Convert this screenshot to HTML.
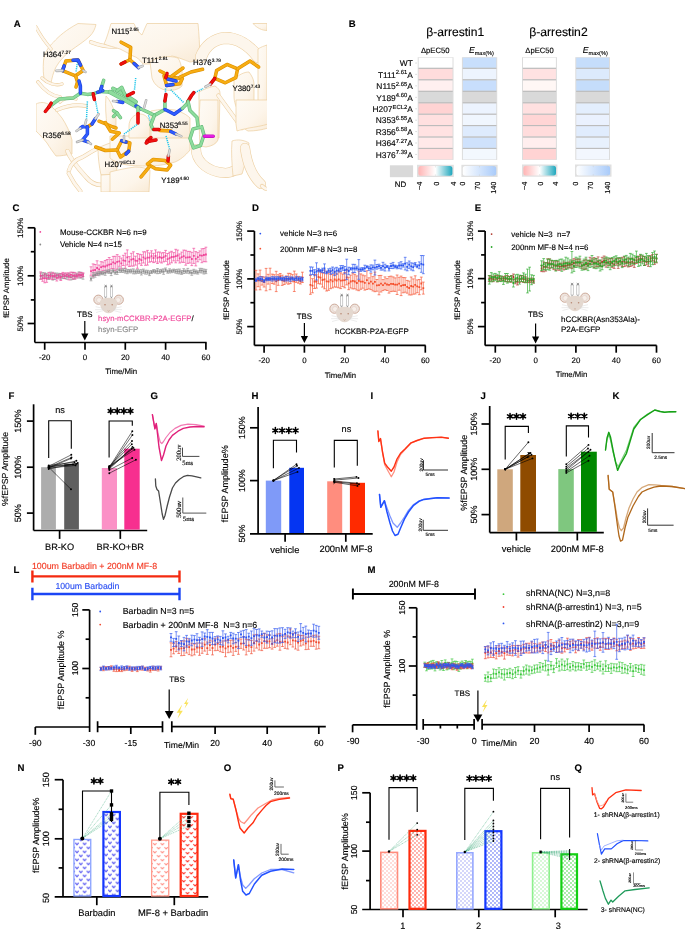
<!DOCTYPE html>
<html><head><meta charset="utf-8"><style>
html,body{margin:0;padding:0;background:#fff;}
body{width:685px;height:929px;overflow:hidden;}
svg{display:block;will-change:transform;}
svg text{text-rendering:geometricPrecision;stroke:#000;stroke-width:0.14px;}
svg text{font-family:"Liberation Sans", sans-serif;}
</style></head><body>
<svg width="685" height="929" viewBox="0 0 685 929">
<defs>
<pattern id="chevBl" x="75.1" y="841.7" width="7.6" height="8" patternUnits="userSpaceOnUse"><path d="M0.2,1.1 L1.9,2.9 L3.6,1.1 M4,5.1 L5.7,6.9 L7.4,5.1" stroke="#4c4cf0" stroke-width="1.05" fill="none"/></pattern>
<pattern id="chevB" x="104.2" y="836.7" width="7.6" height="8" patternUnits="userSpaceOnUse"><path d="M0.2,1.1 L1.9,2.9 L3.6,1.1 M4,5.1 L5.7,6.9 L7.4,5.1" stroke="#4646ee" stroke-width="1.05" fill="none"/></pattern>
<pattern id="chevRl" x="152.9" y="842.0" width="7.6" height="8" patternUnits="userSpaceOnUse"><path d="M0.2,1.1 L1.9,2.9 L3.6,1.1 M4,5.1 L5.7,6.9 L7.4,5.1" stroke="#ff958c" stroke-width="1.05" fill="none"/></pattern>
<pattern id="chevR" x="181.8" y="847.0" width="7.6" height="8" patternUnits="userSpaceOnUse"><path d="M0.2,1.1 L1.9,2.9 L3.6,1.1 M4,5.1 L5.7,6.9 L7.4,5.1" stroke="#ff3a30" stroke-width="1.05" fill="none"/></pattern>
<pattern id="dotRl" width="4" height="4" patternUnits="userSpaceOnUse"><circle cx="1" cy="1" r="0.68" fill="#ff9d94"/><circle cx="3" cy="3" r="0.68" fill="#ff9d94"/></pattern>
<pattern id="dotR" width="4" height="4" patternUnits="userSpaceOnUse"><circle cx="1" cy="1" r="0.78" fill="#ff4535"/><circle cx="3" cy="3" r="0.78" fill="#ff4535"/></pattern>
<pattern id="dotBl" width="4" height="4" patternUnits="userSpaceOnUse"><circle cx="1" cy="1" r="0.68" fill="#8a90f2"/><circle cx="3" cy="3" r="0.68" fill="#8a90f2"/></pattern>
<pattern id="dotB" width="4" height="4" patternUnits="userSpaceOnUse"><circle cx="1" cy="1" r="0.78" fill="#3b4ff0"/><circle cx="3" cy="3" r="0.78" fill="#3b4ff0"/></pattern>
<pattern id="dotGl" width="4" height="4" patternUnits="userSpaceOnUse"><circle cx="1" cy="1" r="0.68" fill="#92ec92"/><circle cx="3" cy="3" r="0.68" fill="#92ec92"/></pattern>
<pattern id="dotG" width="4" height="4" patternUnits="userSpaceOnUse"><circle cx="1" cy="1" r="0.78" fill="#2ed02e"/><circle cx="3" cy="3" r="0.78" fill="#2ed02e"/></pattern>
<linearGradient id="gPE" x1="0" x2="1" y1="0" y2="0"><stop offset="0" stop-color="#ffb4b4"/><stop offset="0.5" stop-color="#ffffff"/><stop offset="1" stop-color="#1fa7bd"/></linearGradient>
<linearGradient id="gEM" x1="0" x2="1" y1="0" y2="0"><stop offset="0" stop-color="#ffffff"/><stop offset="1" stop-color="#a9cbfa"/></linearGradient>
<linearGradient id="ribG" x1="0" y1="0" x2="1" y2="1"><stop offset="0" stop-color="#fefbf6"/><stop offset="0.6" stop-color="#fdf5ea"/><stop offset="1" stop-color="#f9ead5"/></linearGradient>
<linearGradient id="ribG2" x1="1" y1="0" x2="0" y2="1"><stop offset="0" stop-color="#fdf8f0"/><stop offset="0.6" stop-color="#fbefdd"/><stop offset="1" stop-color="#f4dcba"/></linearGradient>
<clipPath id="clipA"><rect x="36" y="22" width="231" height="170"/></clipPath>
</defs>
<text x="12.40" y="211.44" font-size="9.6" font-weight="bold">C</text>
<line x1="34.80" y1="227.70" x2="34.80" y2="342.50" stroke="#000" stroke-width="1.7"/>
<line x1="27.60" y1="227.80" x2="34.80" y2="227.80" stroke="#000" stroke-width="1.7"/>
<line x1="27.60" y1="275.80" x2="34.80" y2="275.80" stroke="#000" stroke-width="1.7"/>
<line x1="27.60" y1="323.50" x2="34.80" y2="323.50" stroke="#000" stroke-width="1.7"/>
<line x1="30.80" y1="251.70" x2="34.80" y2="251.70" stroke="#000" stroke-width="1.7"/>
<line x1="30.80" y1="299.90" x2="34.80" y2="299.90" stroke="#000" stroke-width="1.7"/>
<line x1="34.80" y1="342.50" x2="206.60" y2="342.50" stroke="#000" stroke-width="1.7"/>
<line x1="44.70" y1="342.50" x2="44.70" y2="349.80" stroke="#000" stroke-width="1.7"/>
<line x1="85.00" y1="342.50" x2="85.00" y2="349.80" stroke="#000" stroke-width="1.7"/>
<line x1="125.30" y1="342.50" x2="125.30" y2="349.80" stroke="#000" stroke-width="1.7"/>
<line x1="165.60" y1="342.50" x2="165.60" y2="349.80" stroke="#000" stroke-width="1.7"/>
<line x1="205.90" y1="342.50" x2="205.90" y2="349.80" stroke="#000" stroke-width="1.7"/>
<text x="44.70" y="360.13" font-size="7.9" text-anchor="middle">-20</text>
<text x="85.00" y="360.13" font-size="7.9" text-anchor="middle">0</text>
<text x="125.30" y="360.13" font-size="7.9" text-anchor="middle">20</text>
<text x="165.60" y="360.13" font-size="7.9" text-anchor="middle">40</text>
<text x="205.90" y="360.13" font-size="7.9" text-anchor="middle">60</text>
<text x="121.20" y="374.33" font-size="7.9" text-anchor="middle" textLength="32.0" lengthAdjust="spacingAndGlyphs">Time/Min</text>
<text transform="translate(22.83,227.90) rotate(-90)" font-size="7.9" text-anchor="middle">150%</text>
<text transform="translate(22.83,275.80) rotate(-90)" font-size="7.9" text-anchor="middle">100%</text>
<text transform="translate(22.83,323.70) rotate(-90)" font-size="7.9" text-anchor="middle">50%</text>
<text transform="translate(8.93,288.10) rotate(-90)" font-size="7.9" text-anchor="middle">fEPSP Amplitude</text>
<circle cx="40.3" cy="231.9" r="0.9" fill="#f0479a"/><circle cx="40.3" cy="244.5" r="0.9" fill="#8a8a8a"/>
<text x="59.90" y="234.74" font-size="7.92" textLength="86.7" lengthAdjust="spacingAndGlyphs">Mouse-CCKBR N=6 n=9</text>
<text x="59.90" y="247.31" font-size="7.85" textLength="62.1" lengthAdjust="spacingAndGlyphs">Vehicle N=4 n=15</text>
<path d="M40.7,273.1V279.0M39.3,273.1h2.8M39.3,279.0h2.8M42.7,272.6V278.1M41.3,272.6h2.8M41.3,278.1h2.8M44.7,272.8V276.7M43.3,272.8h2.8M43.3,276.7h2.8M46.7,273.4V277.4M45.3,273.4h2.8M45.3,277.4h2.8M48.7,275.3V279.5M47.3,275.3h2.8M47.3,279.5h2.8M50.7,272.1V277.9M49.3,272.1h2.8M49.3,277.9h2.8M52.8,273.2V280.1M51.4,273.2h2.8M51.4,280.1h2.8M54.8,273.0V279.5M53.4,273.0h2.8M53.4,279.5h2.8M56.8,273.1V277.9M55.4,273.1h2.8M55.4,277.9h2.8M58.8,273.3V277.6M57.4,273.3h2.8M57.4,277.6h2.8M60.8,273.6V279.2M59.4,273.6h2.8M59.4,279.2h2.8M62.8,274.5V278.5M61.4,274.5h2.8M61.4,278.5h2.8M64.8,273.8V278.6M63.4,273.8h2.8M63.4,278.6h2.8M66.9,274.1V279.3M65.5,274.1h2.8M65.5,279.3h2.8M68.9,273.1V277.7M67.5,273.1h2.8M67.5,277.7h2.8M70.9,274.5V280.0M69.5,274.5h2.8M69.5,280.0h2.8M72.9,272.4V279.4M71.5,272.4h2.8M71.5,279.4h2.8M74.9,274.0V279.1M73.5,274.0h2.8M73.5,279.1h2.8M76.9,273.2V277.1M75.5,273.2h2.8M75.5,277.1h2.8M79.0,271.8V278.0M77.6,271.8h2.8M77.6,278.0h2.8M81.0,272.2V278.2M79.6,272.2h2.8M79.6,278.2h2.8M83.0,273.6V279.2M81.6,273.6h2.8M81.6,279.2h2.8" stroke="#8f8f8f" stroke-width="0.65" fill="none"/>
<path d="M39.8,276.0h1.8M41.8,275.3h1.8M43.8,274.7h1.8M45.8,275.4h1.8M47.8,277.4h1.8M49.8,275.0h1.8M51.9,276.7h1.8M53.9,276.2h1.8M55.9,275.5h1.8M57.9,275.4h1.8M59.9,276.4h1.8M61.9,276.5h1.8M63.9,276.2h1.8M66.0,276.7h1.8M68.0,275.4h1.8M70.0,277.2h1.8M72.0,275.9h1.8M74.0,276.6h1.8M76.0,275.2h1.8M78.1,274.9h1.8M80.1,275.2h1.8M82.1,276.4h1.8" stroke="#8f8f8f" stroke-width="1.8" fill="none"/>
<path d="M40.7,271.9V279.4M39.3,271.9h2.8M39.3,279.4h2.8M42.7,275.6V281.3M41.3,275.6h2.8M41.3,281.3h2.8M44.7,273.7V282.8M43.3,273.7h2.8M43.3,282.8h2.8M46.7,275.1V282.3M45.3,275.1h2.8M45.3,282.3h2.8M48.7,272.4V278.6M47.3,272.4h2.8M47.3,278.6h2.8M50.7,273.4V279.1M49.3,273.4h2.8M49.3,279.1h2.8M52.8,272.3V279.4M51.4,272.3h2.8M51.4,279.4h2.8M54.8,273.7V277.8M53.4,273.7h2.8M53.4,277.8h2.8M56.8,274.7V281.0M55.4,274.7h2.8M55.4,281.0h2.8M58.8,274.3V278.9M57.4,274.3h2.8M57.4,278.9h2.8M60.8,273.7V280.5M59.4,273.7h2.8M59.4,280.5h2.8M62.8,272.4V276.7M61.4,272.4h2.8M61.4,276.7h2.8M64.8,272.9V278.6M63.4,272.9h2.8M63.4,278.6h2.8M66.9,272.9V276.7M65.5,272.9h2.8M65.5,276.7h2.8M68.9,273.0V279.9M67.5,273.0h2.8M67.5,279.9h2.8M70.9,272.1V277.5M69.5,272.1h2.8M69.5,277.5h2.8M72.9,272.3V279.0M71.5,272.3h2.8M71.5,279.0h2.8M74.9,272.4V279.0M73.5,272.4h2.8M73.5,279.0h2.8M76.9,274.0V278.1M75.5,274.0h2.8M75.5,278.1h2.8M79.0,272.8V276.7M77.6,272.8h2.8M77.6,276.7h2.8M81.0,272.7V277.5M79.6,272.7h2.8M79.6,277.5h2.8M83.0,272.8V276.5M81.6,272.8h2.8M81.6,276.5h2.8" stroke="#f0479a" stroke-width="0.65" fill="none"/>
<path d="M39.8,275.6h1.8M41.8,278.4h1.8M43.8,278.2h1.8M45.8,278.7h1.8M47.8,275.5h1.8M49.8,276.2h1.8M51.9,275.9h1.8M53.9,275.7h1.8M55.9,277.8h1.8M57.9,276.6h1.8M59.9,277.1h1.8M61.9,274.5h1.8M63.9,275.7h1.8M66.0,274.8h1.8M68.0,276.4h1.8M70.0,274.8h1.8M72.0,275.7h1.8M74.0,275.7h1.8M76.0,276.1h1.8M78.1,274.8h1.8M80.1,275.1h1.8M82.1,274.7h1.8" stroke="#f0479a" stroke-width="1.8" fill="none"/>
<path d="M91.0,266.8V275.3M89.6,266.8h2.8M89.6,275.3h2.8M93.1,263.9V276.6M91.7,263.9h2.8M91.7,276.6h2.8M95.1,264.5V275.4M93.7,264.5h2.8M93.7,275.4h2.8M97.1,260.8V275.1M95.7,260.8h2.8M95.7,275.1h2.8M99.1,265.0V273.9M97.7,265.0h2.8M97.7,273.9h2.8M101.1,261.7V272.4M99.7,261.7h2.8M99.7,272.4h2.8M103.1,262.0V270.5M101.7,262.0h2.8M101.7,270.5h2.8M105.2,260.5V272.5M103.8,260.5h2.8M103.8,272.5h2.8M107.2,259.5V271.5M105.8,259.5h2.8M105.8,271.5h2.8M109.2,257.5V271.9M107.8,257.5h2.8M107.8,271.9h2.8M111.2,259.4V268.9M109.8,259.4h2.8M109.8,268.9h2.8M113.2,256.4V268.5M111.8,256.4h2.8M111.8,268.5h2.8M115.2,256.3V270.4M113.8,256.3h2.8M113.8,270.4h2.8M117.2,254.6V269.0M115.8,254.6h2.8M115.8,269.0h2.8M119.3,256.3V266.3M117.9,256.3h2.8M117.9,266.3h2.8M121.3,258.0V268.8M119.9,258.0h2.8M119.9,268.8h2.8M123.3,255.3V265.5M121.9,255.3h2.8M121.9,265.5h2.8M125.3,253.2V268.3M123.9,253.2h2.8M123.9,268.3h2.8M127.3,249.9V265.0M125.9,249.9h2.8M125.9,265.0h2.8M129.3,256.6V266.5M127.9,256.6h2.8M127.9,266.5h2.8M131.3,253.3V266.1M129.9,253.3h2.8M129.9,266.1h2.8M133.4,251.8V266.1M132.0,251.8h2.8M132.0,266.1h2.8M135.4,256.2V265.1M134.0,256.2h2.8M134.0,265.1h2.8M137.4,253.5V268.3M136.0,253.5h2.8M136.0,268.3h2.8M139.4,254.2V263.8M138.0,254.2h2.8M138.0,263.8h2.8M141.4,254.7V265.4M140.0,254.7h2.8M140.0,265.4h2.8M143.4,251.8V263.0M142.0,251.8h2.8M142.0,263.0h2.8M145.4,251.8V265.3M144.0,251.8h2.8M144.0,265.3h2.8M147.5,250.4V265.1M146.1,250.4h2.8M146.1,265.1h2.8M149.5,252.9V262.2M148.1,252.9h2.8M148.1,262.2h2.8M151.5,250.8V261.6M150.1,250.8h2.8M150.1,261.6h2.8M153.5,253.3V262.6M152.1,253.3h2.8M152.1,262.6h2.8M155.5,249.9V262.0M154.1,249.9h2.8M154.1,262.0h2.8M157.5,252.1V263.5M156.1,252.1h2.8M156.1,263.5h2.8M159.6,252.0V262.1M158.2,252.0h2.8M158.2,262.1h2.8M161.6,252.9V263.0M160.2,252.9h2.8M160.2,263.0h2.8M163.6,252.6V261.9M162.2,252.6h2.8M162.2,261.9h2.8M165.6,250.4V261.3M164.2,250.4h2.8M164.2,261.3h2.8M167.6,253.5V264.8M166.2,253.5h2.8M166.2,264.8h2.8M169.6,252.2V264.1M168.2,252.2h2.8M168.2,264.1h2.8M171.6,251.3V262.8M170.2,251.3h2.8M170.2,262.8h2.8M173.7,252.6V260.9M172.3,252.6h2.8M172.3,260.9h2.8M175.7,249.3V262.8M174.3,249.3h2.8M174.3,262.8h2.8M177.7,250.1V260.8M176.3,250.1h2.8M176.3,260.8h2.8M179.7,253.9V263.0M178.3,253.9h2.8M178.3,263.0h2.8M181.7,252.1V262.2M180.3,252.1h2.8M180.3,262.2h2.8M183.7,250.1V262.4M182.3,250.1h2.8M182.3,262.4h2.8M185.8,250.3V265.2M184.3,250.3h2.8M184.3,265.2h2.8M187.8,251.4V263.4M186.4,251.4h2.8M186.4,263.4h2.8M189.8,251.4V263.0M188.4,251.4h2.8M188.4,263.0h2.8M191.8,252.3V265.6M190.4,252.3h2.8M190.4,265.6h2.8M193.8,248.3V263.4M192.4,248.3h2.8M192.4,263.4h2.8M195.8,251.6V265.9M194.4,251.6h2.8M194.4,265.9h2.8M197.8,252.6V261.8M196.4,252.6h2.8M196.4,261.8h2.8M199.9,250.9V259.8M198.5,250.9h2.8M198.5,259.8h2.8M201.9,248.8V262.7M200.5,248.8h2.8M200.5,262.7h2.8M203.9,248.5V261.6M202.5,248.5h2.8M202.5,261.6h2.8M205.9,247.2V261.8M204.5,247.2h2.8M204.5,261.8h2.8" stroke="#f0479a" stroke-width="0.65" fill="none"/>
<path d="M90.1,271.1h1.8M92.2,270.3h1.8M94.2,270.0h1.8M96.2,268.0h1.8M98.2,269.4h1.8M100.2,267.1h1.8M102.2,266.3h1.8M104.2,266.5h1.8M106.3,265.5h1.8M108.3,264.7h1.8M110.3,264.1h1.8M112.3,262.4h1.8M114.3,263.4h1.8M116.3,261.8h1.8M118.4,261.3h1.8M120.4,263.4h1.8M122.4,260.4h1.8M124.4,260.8h1.8M126.4,257.4h1.8M128.4,261.6h1.8M130.4,259.7h1.8M132.5,259.0h1.8M134.5,260.6h1.8M136.5,260.9h1.8M138.5,259.0h1.8M140.5,260.1h1.8M142.5,257.4h1.8M144.5,258.6h1.8M146.6,257.7h1.8M148.6,257.6h1.8M150.6,256.2h1.8M152.6,258.0h1.8M154.6,256.0h1.8M156.6,257.8h1.8M158.7,257.0h1.8M160.7,258.0h1.8M162.7,257.2h1.8M164.7,255.9h1.8M166.7,259.1h1.8M168.7,258.1h1.8M170.7,257.0h1.8M172.8,256.8h1.8M174.8,256.1h1.8M176.8,255.5h1.8M178.8,258.4h1.8M180.8,257.2h1.8M182.8,256.2h1.8M184.8,257.7h1.8M186.9,257.4h1.8M188.9,257.2h1.8M190.9,259.0h1.8M192.9,255.8h1.8M194.9,258.8h1.8M196.9,257.2h1.8M199.0,255.4h1.8M201.0,255.7h1.8M203.0,255.0h1.8M205.0,254.5h1.8" stroke="#f0479a" stroke-width="1.8" fill="none"/>
<path d="M91.0,276.9V280.8M89.6,276.9h2.8M89.6,280.8h2.8M93.1,272.6V278.1M91.7,272.6h2.8M91.7,278.1h2.8M95.1,272.9V277.2M93.7,272.9h2.8M93.7,277.2h2.8M97.1,272.0V275.4M95.7,272.0h2.8M95.7,275.4h2.8M99.1,271.4V275.7M97.7,271.4h2.8M97.7,275.7h2.8M101.1,271.6V274.6M99.7,271.6h2.8M99.7,274.6h2.8M103.1,271.5V274.7M101.7,271.5h2.8M101.7,274.7h2.8M105.2,270.3V275.3M103.8,270.3h2.8M103.8,275.3h2.8M107.2,270.1V273.1M105.8,270.1h2.8M105.8,273.1h2.8M109.2,269.7V273.4M107.8,269.7h2.8M107.8,273.4h2.8M111.2,270.6V275.6M109.8,270.6h2.8M109.8,275.6h2.8M113.2,269.3V272.7M111.8,269.3h2.8M111.8,272.7h2.8M115.2,271.0V274.2M113.8,271.0h2.8M113.8,274.2h2.8M117.2,269.7V274.4M115.8,269.7h2.8M115.8,274.4h2.8M119.3,267.9V272.4M117.9,267.9h2.8M117.9,272.4h2.8M121.3,269.3V272.4M119.9,269.3h2.8M119.9,272.4h2.8M123.3,268.3V272.4M121.9,268.3h2.8M121.9,272.4h2.8M125.3,268.8V273.1M123.9,268.8h2.8M123.9,273.1h2.8M127.3,269.4V273.7M125.9,269.4h2.8M125.9,273.7h2.8M129.3,269.5V272.8M127.9,269.5h2.8M127.9,272.8h2.8M131.3,269.2V272.9M129.9,269.2h2.8M129.9,272.9h2.8M133.4,268.9V273.8M132.0,268.9h2.8M132.0,273.8h2.8M135.4,270.0V273.8M134.0,270.0h2.8M134.0,273.8h2.8M137.4,269.7V273.3M136.0,269.7h2.8M136.0,273.3h2.8M139.4,269.9V273.3M138.0,269.9h2.8M138.0,273.3h2.8M141.4,269.7V275.0M140.0,269.7h2.8M140.0,275.0h2.8M143.4,269.1V273.3M142.0,269.1h2.8M142.0,273.3h2.8M145.4,270.2V274.1M144.0,270.2h2.8M144.0,274.1h2.8M147.5,270.3V274.1M146.1,270.3h2.8M146.1,274.1h2.8M149.5,270.9V275.6M148.1,270.9h2.8M148.1,275.6h2.8M151.5,270.5V273.5M150.1,270.5h2.8M150.1,273.5h2.8M153.5,269.6V272.7M152.1,269.6h2.8M152.1,272.7h2.8M155.5,269.9V273.1M154.1,269.9h2.8M154.1,273.1h2.8M157.5,268.5V273.7M156.1,268.5h2.8M156.1,273.7h2.8M159.6,269.7V273.4M158.2,269.7h2.8M158.2,273.4h2.8M161.6,269.3V272.7M160.2,269.3h2.8M160.2,272.7h2.8M163.6,268.9V274.3M162.2,268.9h2.8M162.2,274.3h2.8M165.6,268.0V271.6M164.2,268.0h2.8M164.2,271.6h2.8M167.6,270.2V273.2M166.2,270.2h2.8M166.2,273.2h2.8M169.6,268.8V273.0M168.2,268.8h2.8M168.2,273.0h2.8M171.6,269.8V272.7M170.2,269.8h2.8M170.2,272.7h2.8M173.7,269.1V272.3M172.3,269.1h2.8M172.3,272.3h2.8M175.7,269.5V273.2M174.3,269.5h2.8M174.3,273.2h2.8M177.7,269.2V273.7M176.3,269.2h2.8M176.3,273.7h2.8M179.7,269.1V273.9M178.3,269.1h2.8M178.3,273.9h2.8M181.7,270.5V274.4M180.3,270.5h2.8M180.3,274.4h2.8M183.7,268.7V273.5M182.3,268.7h2.8M182.3,273.5h2.8M185.8,270.0V273.1M184.3,270.0h2.8M184.3,273.1h2.8M187.8,268.4V273.2M186.4,268.4h2.8M186.4,273.2h2.8M189.8,270.4V273.7M188.4,270.4h2.8M188.4,273.7h2.8M191.8,270.3V275.3M190.4,270.3h2.8M190.4,275.3h2.8M193.8,269.3V273.7M192.4,269.3h2.8M192.4,273.7h2.8M195.8,270.1V273.7M194.4,270.1h2.8M194.4,273.7h2.8M197.8,270.8V274.1M196.4,270.8h2.8M196.4,274.1h2.8M199.9,268.3V272.7M198.5,268.3h2.8M198.5,272.7h2.8M201.9,268.4V273.0M200.5,268.4h2.8M200.5,273.0h2.8M203.9,269.1V274.0M202.5,269.1h2.8M202.5,274.0h2.8M205.9,269.4V273.6M204.5,269.4h2.8M204.5,273.6h2.8" stroke="#8f8f8f" stroke-width="0.65" fill="none"/>
<path d="M90.1,278.8h1.8M92.2,275.4h1.8M94.2,275.0h1.8M96.2,273.7h1.8M98.2,273.5h1.8M100.2,273.1h1.8M102.2,273.1h1.8M104.2,272.8h1.8M106.3,271.6h1.8M108.3,271.5h1.8M110.3,273.1h1.8M112.3,271.0h1.8M114.3,272.6h1.8M116.3,272.0h1.8M118.4,270.1h1.8M120.4,270.8h1.8M122.4,270.3h1.8M124.4,271.0h1.8M126.4,271.5h1.8M128.4,271.2h1.8M130.4,271.1h1.8M132.5,271.4h1.8M134.5,271.9h1.8M136.5,271.5h1.8M138.5,271.6h1.8M140.5,272.3h1.8M142.5,271.2h1.8M144.5,272.1h1.8M146.6,272.2h1.8M148.6,273.3h1.8M150.6,272.0h1.8M152.6,271.1h1.8M154.6,271.5h1.8M156.6,271.1h1.8M158.7,271.6h1.8M160.7,271.0h1.8M162.7,271.6h1.8M164.7,269.8h1.8M166.7,271.7h1.8M168.7,270.9h1.8M170.7,271.2h1.8M172.8,270.7h1.8M174.8,271.4h1.8M176.8,271.5h1.8M178.8,271.5h1.8M180.8,272.5h1.8M182.8,271.1h1.8M184.8,271.5h1.8M186.9,270.8h1.8M188.9,272.1h1.8M190.9,272.8h1.8M192.9,271.5h1.8M194.9,271.9h1.8M196.9,272.4h1.8M199.0,270.5h1.8M201.0,270.7h1.8M203.0,271.5h1.8M205.0,271.5h1.8" stroke="#8f8f8f" stroke-width="1.8" fill="none"/>
<text x="84.80" y="317.13" font-size="7.9" text-anchor="middle">TBS</text>
<line x1="84.80" y1="321.00" x2="84.80" y2="333.90" stroke="#000" stroke-width="1.2"/>
<path d="M81.2,333.4L88.4,333.4L84.8,340.6Z" fill="#000"/>
<g transform="translate(108.6,304.5) scale(1.0)"><rect x="-4.0" y="-17.5" width="2.2" height="10" fill="#fff" stroke="#9a9a9a" stroke-width="0.5"/><path d="M-2.9,-7.5V-3.5M-4.1,-19.5l2.4,1.8M-1.7,-19.5l-2.4,1.8M-2.9,-18.6V-17.5" stroke="#666" stroke-width="0.6" fill="none"/><rect x="1.8" y="-17.5" width="2.2" height="10" fill="#fff" stroke="#9a9a9a" stroke-width="0.5"/><path d="M2.9,-7.5V-3.5M1.7,-19.5l2.4,1.8M4.1,-19.5l-2.4,1.8M2.9,-18.6V-17.5" stroke="#666" stroke-width="0.6" fill="none"/><circle cx="-10.2" cy="-4.8" r="4.6" fill="#eee5df" stroke="#c49a88" stroke-width="0.8"/><circle cx="-9.5" cy="-4.4" r="2.6" fill="#f6efea" stroke="#d9bcb0" stroke-width="0.4"/><circle cx="10.2" cy="-4.8" r="4.6" fill="#eee5df" stroke="#c49a88" stroke-width="0.8"/><circle cx="9.5" cy="-4.4" r="2.6" fill="#f6efea" stroke="#d9bcb0" stroke-width="0.4"/><path d="M-8.5,-3.5 C-9.5,3 -5,8.5 0,8.8 C5,8.5 9.5,3 8.5,-3.5 C6,-8 -6,-8 -8.5,-3.5Z" fill="#e4d8cf"/><circle cx="-3.6" cy="0.2" r="0.8" fill="#b78873"/><circle cx="3.6" cy="0.2" r="0.8" fill="#b78873"/><path d="M-1,6 l1,0.8 l1,-0.8" stroke="#b78873" stroke-width="0.5" fill="none"/><path d="M-5,4 L-13,2.2 M-5,5 L-13.5,5.2 M-5,6 L-12.5,8 M5,4 L13,2.2 M5,5 L13.5,5.2 M5,6 L12.5,8" stroke="#d4d4d4" stroke-width="0.45"/></g>
<text x="98.10" y="321.47" font-size="7.75" style='fill:#f0479a;stroke:#f0479a' textLength="93.3" lengthAdjust="spacingAndGlyphs">hsyn-mCCKBR-P2A-EGFP</text>
<text x="191.50" y="321.47" font-size="7.75">/</text>
<text x="98.10" y="331.57" font-size="7.75" style='fill:#8a8a8a;stroke:#8a8a8a'>hsyn-EGFP</text>
<text x="251.90" y="211.44" font-size="9.6" font-weight="bold">D</text>
<line x1="254.40" y1="231.10" x2="254.40" y2="345.40" stroke="#000" stroke-width="1.7"/>
<line x1="247.20" y1="231.10" x2="254.40" y2="231.10" stroke="#000" stroke-width="1.7"/>
<line x1="247.20" y1="278.90" x2="254.40" y2="278.90" stroke="#000" stroke-width="1.7"/>
<line x1="247.20" y1="326.60" x2="254.40" y2="326.60" stroke="#000" stroke-width="1.7"/>
<line x1="250.40" y1="255.00" x2="254.40" y2="255.00" stroke="#000" stroke-width="1.7"/>
<line x1="250.40" y1="302.70" x2="254.40" y2="302.70" stroke="#000" stroke-width="1.7"/>
<line x1="254.40" y1="345.40" x2="425.60" y2="345.40" stroke="#000" stroke-width="1.7"/>
<line x1="264.10" y1="345.40" x2="264.10" y2="352.70" stroke="#000" stroke-width="1.7"/>
<line x1="304.40" y1="345.40" x2="304.40" y2="352.70" stroke="#000" stroke-width="1.7"/>
<line x1="344.70" y1="345.40" x2="344.70" y2="352.70" stroke="#000" stroke-width="1.7"/>
<line x1="385.00" y1="345.40" x2="385.00" y2="352.70" stroke="#000" stroke-width="1.7"/>
<line x1="425.30" y1="345.40" x2="425.30" y2="352.70" stroke="#000" stroke-width="1.7"/>
<text x="264.10" y="363.33" font-size="7.9" text-anchor="middle">-20</text>
<text x="304.40" y="363.33" font-size="7.9" text-anchor="middle">0</text>
<text x="344.70" y="363.33" font-size="7.9" text-anchor="middle">20</text>
<text x="385.00" y="363.33" font-size="7.9" text-anchor="middle">40</text>
<text x="425.30" y="363.33" font-size="7.9" text-anchor="middle">60</text>
<text x="340.40" y="377.83" font-size="7.9" text-anchor="middle" textLength="31.5" lengthAdjust="spacingAndGlyphs">Time/Min</text>
<text transform="translate(242.13,231.15) rotate(-90)" font-size="7.9" text-anchor="middle">150%</text>
<text transform="translate(242.13,278.90) rotate(-90)" font-size="7.9" text-anchor="middle">100%</text>
<text transform="translate(242.13,326.65) rotate(-90)" font-size="7.9" text-anchor="middle">50%</text>
<text transform="translate(228.73,290.00) rotate(-90)" font-size="7.9" text-anchor="middle">fEPSP Amplitude</text>
<circle cx="260.3" cy="233.6" r="0.9" fill="#2a55f0"/><circle cx="260.3" cy="248.7" r="0.9" fill="#f5502e"/>
<text x="280.10" y="236.43" font-size="7.9">vehicle N=3 n=6</text>
<text x="280.10" y="251.53" font-size="7.9">200nm MF-8 N=3 n=8</text>
<path d="M256.0,270.3V290.0M254.6,270.3h2.8M254.6,290.0h2.8M258.1,273.9V286.7M256.7,273.9h2.8M256.7,286.7h2.8M260.1,270.1V289.8M258.7,270.1h2.8M258.7,289.8h2.8M262.1,276.5V285.1M260.7,276.5h2.8M260.7,285.1h2.8M264.1,277.0V287.0M262.7,277.0h2.8M262.7,287.0h2.8M266.1,268.4V290.8M264.7,268.4h2.8M264.7,290.8h2.8M268.1,274.3V284.1M266.7,274.3h2.8M266.7,284.1h2.8M270.1,268.2V289.7M268.7,268.2h2.8M268.7,289.7h2.8M272.2,274.1V283.5M270.8,274.1h2.8M270.8,283.5h2.8M274.2,274.7V284.2M272.8,274.7h2.8M272.8,284.2h2.8M276.2,271.3V291.6M274.8,271.3h2.8M274.8,291.6h2.8M278.2,274.7V285.3M276.8,274.7h2.8M276.8,285.3h2.8M280.2,273.5V279.6M278.8,273.5h2.8M278.8,279.6h2.8M282.2,275.2V285.4M280.8,275.2h2.8M280.8,285.4h2.8M284.2,277.4V284.5M282.9,277.4h2.8M282.9,284.5h2.8M286.3,275.9V283.1M284.9,275.9h2.8M284.9,283.1h2.8M288.3,273.3V284.2M286.9,273.3h2.8M286.9,284.2h2.8M290.3,273.4V283.6M288.9,273.4h2.8M288.9,283.6h2.8M292.3,274.6V281.8M290.9,274.6h2.8M290.9,281.8h2.8M294.3,271.1V291.5M292.9,271.1h2.8M292.9,291.5h2.8M296.3,274.0V282.4M294.9,274.0h2.8M294.9,282.4h2.8M298.4,276.4V283.2M297.0,276.4h2.8M297.0,283.2h2.8M300.4,277.9V284.0M299.0,277.9h2.8M299.0,284.0h2.8M302.4,272.2V282.5M301.0,272.2h2.8M301.0,282.5h2.8" stroke="#f5502e" stroke-width="0.65" fill="none"/>
<path d="M255.1,280.1h1.8M257.2,280.3h1.8M259.2,280.0h1.8M261.2,280.8h1.8M263.2,282.0h1.8M265.2,279.6h1.8M267.2,279.2h1.8M269.2,279.0h1.8M271.3,278.8h1.8M273.3,279.4h1.8M275.3,281.4h1.8M277.3,280.0h1.8M279.3,276.5h1.8M281.3,280.3h1.8M283.4,280.9h1.8M285.4,279.5h1.8M287.4,278.8h1.8M289.4,278.5h1.8M291.4,278.2h1.8M293.4,281.3h1.8M295.4,278.2h1.8M297.5,279.8h1.8M299.5,281.0h1.8M301.5,277.3h1.8" stroke="#f5502e" stroke-width="1.8" fill="none"/>
<path d="M310.4,275.3V294.3M309.0,275.3h2.8M309.0,294.3h2.8M312.5,278.7V292.8M311.1,278.7h2.8M311.1,292.8h2.8M314.5,274.5V288.5M313.1,274.5h2.8M313.1,288.5h2.8M316.5,274.9V288.1M315.1,274.9h2.8M315.1,288.1h2.8M318.5,270.4V283.7M317.1,270.4h2.8M317.1,283.7h2.8M320.5,271.2V284.1M319.1,271.2h2.8M319.1,284.1h2.8M322.5,272.9V287.1M321.1,272.9h2.8M321.1,287.1h2.8M324.5,270.0V288.8M323.1,270.0h2.8M323.1,288.8h2.8M326.6,271.7V291.0M325.2,271.7h2.8M325.2,291.0h2.8M328.6,273.0V290.3M327.2,273.0h2.8M327.2,290.3h2.8M330.6,271.1V288.7M329.2,271.1h2.8M329.2,288.7h2.8M332.6,274.6V287.9M331.2,274.6h2.8M331.2,287.9h2.8M334.6,272.0V287.0M333.2,272.0h2.8M333.2,287.0h2.8M336.6,273.8V287.2M335.2,273.8h2.8M335.2,287.2h2.8M338.7,271.1V287.8M337.3,271.1h2.8M337.3,287.8h2.8M340.7,272.8V288.6M339.3,272.8h2.8M339.3,288.6h2.8M342.7,274.0V286.6M341.3,274.0h2.8M341.3,286.6h2.8M344.7,272.5V287.8M343.3,272.5h2.8M343.3,287.8h2.8M346.7,270.1V284.9M345.3,270.1h2.8M345.3,284.9h2.8M348.7,277.2V289.7M347.3,277.2h2.8M347.3,289.7h2.8M350.7,275.1V288.0M349.3,275.1h2.8M349.3,288.0h2.8M352.8,273.0V288.9M351.4,273.0h2.8M351.4,288.9h2.8M354.8,274.3V288.8M353.4,274.3h2.8M353.4,288.8h2.8M356.8,275.9V290.0M355.4,275.9h2.8M355.4,290.0h2.8M358.8,271.1V290.7M357.4,271.1h2.8M357.4,290.7h2.8M360.8,273.9V289.3M359.4,273.9h2.8M359.4,289.3h2.8M362.8,275.0V288.2M361.4,275.0h2.8M361.4,288.2h2.8M364.8,275.8V290.1M363.4,275.8h2.8M363.4,290.1h2.8M366.9,270.8V289.5M365.5,270.8h2.8M365.5,289.5h2.8M368.9,277.8V288.8M367.5,277.8h2.8M367.5,288.8h2.8M370.9,273.6V289.6M369.5,273.6h2.8M369.5,289.6h2.8M372.9,276.6V290.9M371.5,276.6h2.8M371.5,290.9h2.8M374.9,272.1V291.7M373.5,272.1h2.8M373.5,291.7h2.8M376.9,279.5V291.2M375.5,279.5h2.8M375.5,291.2h2.8M379.0,275.5V294.8M377.6,275.5h2.8M377.6,294.8h2.8M381.0,275.4V292.0M379.6,275.4h2.8M379.6,292.0h2.8M383.0,279.6V290.6M381.6,279.6h2.8M381.6,290.6h2.8M385.0,276.9V289.7M383.6,276.9h2.8M383.6,289.7h2.8M387.0,278.6V290.5M385.6,278.6h2.8M385.6,290.5h2.8M389.0,276.6V293.1M387.6,276.6h2.8M387.6,293.1h2.8M391.0,276.1V291.6M389.6,276.1h2.8M389.6,291.6h2.8M393.1,276.9V291.2M391.7,276.9h2.8M391.7,291.2h2.8M395.1,277.9V291.4M393.7,277.9h2.8M393.7,291.4h2.8M397.1,275.0V294.5M395.7,275.0h2.8M395.7,294.5h2.8M399.1,277.3V290.2M397.7,277.3h2.8M397.7,290.2h2.8M401.1,276.1V295.6M399.7,276.1h2.8M399.7,295.6h2.8M403.1,277.5V292.8M401.7,277.5h2.8M401.7,292.8h2.8M405.1,277.7V292.2M403.8,277.7h2.8M403.8,292.2h2.8M407.2,280.4V293.2M405.8,280.4h2.8M405.8,293.2h2.8M409.2,281.1V294.9M407.8,281.1h2.8M407.8,294.9h2.8M411.2,277.0V295.0M409.8,277.0h2.8M409.8,295.0h2.8M413.2,278.9V294.2M411.8,278.9h2.8M411.8,294.2h2.8M415.2,275.8V294.0M413.8,275.8h2.8M413.8,294.0h2.8M417.2,279.9V292.7M415.8,279.9h2.8M415.8,292.7h2.8M419.3,279.5V294.7M417.9,279.5h2.8M417.9,294.7h2.8M421.3,277.1V289.8M419.9,277.1h2.8M419.9,289.8h2.8M423.3,282.1V294.1M421.9,282.1h2.8M421.9,294.1h2.8" stroke="#f5502e" stroke-width="0.65" fill="none"/>
<path d="M309.5,284.8h1.8M311.6,285.7h1.8M313.6,281.5h1.8M315.6,281.5h1.8M317.6,277.0h1.8M319.6,277.6h1.8M321.6,280.0h1.8M323.6,279.4h1.8M325.7,281.4h1.8M327.7,281.6h1.8M329.7,279.9h1.8M331.7,281.3h1.8M333.7,279.5h1.8M335.7,280.5h1.8M337.8,279.4h1.8M339.8,280.7h1.8M341.8,280.3h1.8M343.8,280.2h1.8M345.8,277.5h1.8M347.8,283.4h1.8M349.8,281.5h1.8M351.9,280.9h1.8M353.9,281.5h1.8M355.9,283.0h1.8M357.9,280.9h1.8M359.9,281.6h1.8M361.9,281.6h1.8M363.9,282.9h1.8M366.0,280.1h1.8M368.0,283.3h1.8M370.0,281.6h1.8M372.0,283.7h1.8M374.0,281.9h1.8M376.0,285.3h1.8M378.1,285.2h1.8M380.1,283.7h1.8M382.1,285.1h1.8M384.1,283.3h1.8M386.1,284.5h1.8M388.1,284.9h1.8M390.1,283.8h1.8M392.2,284.0h1.8M394.2,284.6h1.8M396.2,284.7h1.8M398.2,283.7h1.8M400.2,285.9h1.8M402.2,285.2h1.8M404.2,285.0h1.8M406.3,286.8h1.8M408.3,288.0h1.8M410.3,286.0h1.8M412.3,286.6h1.8M414.3,284.9h1.8M416.3,286.3h1.8M418.4,287.1h1.8M420.4,283.5h1.8M422.4,288.1h1.8" stroke="#f5502e" stroke-width="1.8" fill="none"/>
<path d="M256.0,278.7V281.5M254.6,278.7h2.8M254.6,281.5h2.8M258.1,277.5V280.0M256.7,277.5h2.8M256.7,280.0h2.8M260.1,276.6V280.9M258.7,276.6h2.8M258.7,280.9h2.8M262.1,277.0V281.3M260.7,277.0h2.8M260.7,281.3h2.8M264.1,279.5V282.3M262.7,279.5h2.8M262.7,282.3h2.8M266.1,277.0V280.8M264.7,277.0h2.8M264.7,280.8h2.8M268.1,277.5V280.6M266.7,277.5h2.8M266.7,280.6h2.8M270.1,277.4V280.4M268.7,277.4h2.8M268.7,280.4h2.8M272.2,276.7V281.1M270.8,276.7h2.8M270.8,281.1h2.8M274.2,276.9V280.1M272.8,276.9h2.8M272.8,280.1h2.8M276.2,276.9V281.0M274.8,276.9h2.8M274.8,281.0h2.8M278.2,276.7V279.9M276.8,276.7h2.8M276.8,279.9h2.8M280.2,277.3V280.1M278.8,277.3h2.8M278.8,280.1h2.8M282.2,277.2V280.4M280.8,277.2h2.8M280.8,280.4h2.8M284.2,277.0V281.0M282.9,277.0h2.8M282.9,281.0h2.8M286.3,276.5V280.9M284.9,276.5h2.8M284.9,280.9h2.8M288.3,276.9V280.8M286.9,276.9h2.8M286.9,280.8h2.8M290.3,277.0V281.3M288.9,277.0h2.8M288.9,281.3h2.8M292.3,277.0V280.0M290.9,277.0h2.8M290.9,280.0h2.8M294.3,277.9V280.3M292.9,277.9h2.8M292.9,280.3h2.8M296.3,276.3V280.6M294.9,276.3h2.8M294.9,280.6h2.8M298.4,277.3V280.2M297.0,277.3h2.8M297.0,280.2h2.8M300.4,276.8V281.1M299.0,276.8h2.8M299.0,281.1h2.8M302.4,277.6V280.9M301.0,277.6h2.8M301.0,280.9h2.8" stroke="#2a55f0" stroke-width="0.65" fill="none"/>
<path d="M255.1,280.1h1.8M257.2,278.8h1.8M259.2,278.8h1.8M261.2,279.1h1.8M263.2,280.9h1.8M265.2,278.9h1.8M267.2,279.0h1.8M269.2,278.9h1.8M271.3,278.9h1.8M273.3,278.5h1.8M275.3,279.0h1.8M277.3,278.3h1.8M279.3,278.7h1.8M281.3,278.8h1.8M283.4,279.0h1.8M285.4,278.7h1.8M287.4,278.9h1.8M289.4,279.1h1.8M291.4,278.5h1.8M293.4,279.1h1.8M295.4,278.5h1.8M297.5,278.8h1.8M299.5,278.9h1.8M301.5,279.2h1.8" stroke="#2a55f0" stroke-width="1.8" fill="none"/>
<path d="M310.4,266.9V275.0M309.0,266.9h2.8M309.0,275.0h2.8M312.5,267.1V274.5M311.1,267.1h2.8M311.1,274.5h2.8M314.5,269.6V275.7M313.1,269.6h2.8M313.1,275.7h2.8M316.5,262.8V280.0M315.1,262.8h2.8M315.1,280.0h2.8M318.5,268.4V271.8M317.1,268.4h2.8M317.1,271.8h2.8M320.5,269.6V272.0M319.1,269.6h2.8M319.1,272.0h2.8M322.5,268.2V272.5M321.1,268.2h2.8M321.1,272.5h2.8M324.5,263.9V273.1M323.1,263.9h2.8M323.1,273.1h2.8M326.6,271.0V273.8M325.2,271.0h2.8M325.2,273.8h2.8M328.6,268.8V272.4M327.2,268.8h2.8M327.2,272.4h2.8M330.6,268.2V274.3M329.2,268.2h2.8M329.2,274.3h2.8M332.6,267.0V273.4M331.2,267.0h2.8M331.2,273.4h2.8M334.6,268.1V275.6M333.2,268.1h2.8M333.2,275.6h2.8M336.6,267.3V274.2M335.2,267.3h2.8M335.2,274.2h2.8M338.7,268.3V272.0M337.3,268.3h2.8M337.3,272.0h2.8M340.7,265.6V271.5M339.3,265.6h2.8M339.3,271.5h2.8M342.7,265.6V270.3M341.3,265.6h2.8M341.3,270.3h2.8M344.7,266.5V273.8M343.3,266.5h2.8M343.3,273.8h2.8M346.7,259.2V279.6M345.3,259.2h2.8M345.3,279.6h2.8M348.7,267.2V274.7M347.3,267.2h2.8M347.3,274.7h2.8M350.7,267.6V270.0M349.3,267.6h2.8M349.3,270.0h2.8M352.8,264.3V272.7M351.4,264.3h2.8M351.4,272.7h2.8M354.8,264.4V272.5M353.4,264.4h2.8M353.4,272.5h2.8M356.8,266.2V270.0M355.4,266.2h2.8M355.4,270.0h2.8M358.8,259.6V279.3M357.4,259.6h2.8M357.4,279.3h2.8M360.8,267.9V271.4M359.4,267.9h2.8M359.4,271.4h2.8M362.8,267.6V270.7M361.4,267.6h2.8M361.4,270.7h2.8M364.8,265.2V271.5M363.4,265.2h2.8M363.4,271.5h2.8M366.9,265.8V268.0M365.5,265.8h2.8M365.5,268.0h2.8M368.9,266.3V270.4M367.5,266.3h2.8M367.5,270.4h2.8M370.9,264.9V272.1M369.5,264.9h2.8M369.5,272.1h2.8M372.9,265.1V269.8M371.5,265.1h2.8M371.5,269.8h2.8M374.9,260.1V275.0M373.5,260.1h2.8M373.5,275.0h2.8M376.9,264.5V269.2M375.5,264.5h2.8M375.5,269.2h2.8M379.0,264.2V268.3M377.6,264.2h2.8M377.6,268.3h2.8M381.0,265.6V270.1M379.6,265.6h2.8M379.6,270.1h2.8M383.0,262.3V270.0M381.6,262.3h2.8M381.6,270.0h2.8M385.0,264.2V271.0M383.6,264.2h2.8M383.6,271.0h2.8M387.0,265.5V267.6M385.6,265.5h2.8M385.6,267.6h2.8M389.0,266.1V270.9M387.6,266.1h2.8M387.6,270.9h2.8M391.0,263.4V268.5M389.6,263.4h2.8M389.6,268.5h2.8M393.1,262.4V268.6M391.7,262.4h2.8M391.7,268.6h2.8M395.1,265.1V267.8M393.7,265.1h2.8M393.7,267.8h2.8M397.1,265.7V268.8M395.7,265.7h2.8M395.7,268.8h2.8M399.1,262.8V268.3M397.7,262.8h2.8M397.7,268.3h2.8M401.1,261.7V269.0M399.7,261.7h2.8M399.7,269.0h2.8M403.1,263.7V267.1M401.7,263.7h2.8M401.7,267.1h2.8M405.1,257.3V269.9M403.8,257.3h2.8M403.8,269.9h2.8M407.2,262.8V270.8M405.8,262.8h2.8M405.8,270.8h2.8M409.2,261.0V268.4M407.8,261.0h2.8M407.8,268.4h2.8M411.2,262.8V270.0M409.8,262.8h2.8M409.8,270.0h2.8M413.2,263.3V270.8M411.8,263.3h2.8M411.8,270.8h2.8M415.2,262.6V266.2M413.8,262.6h2.8M413.8,266.2h2.8M417.2,264.8V267.7M415.8,264.8h2.8M415.8,267.7h2.8M419.3,261.9V268.7M417.9,261.9h2.8M417.9,268.7h2.8M421.3,255.5V272.3M419.9,255.5h2.8M419.9,272.3h2.8M423.3,255.6V273.7M421.9,255.6h2.8M421.9,273.7h2.8" stroke="#2a55f0" stroke-width="0.65" fill="none"/>
<path d="M309.5,270.9h1.8M311.6,270.8h1.8M313.6,272.6h1.8M315.6,271.4h1.8M317.6,270.1h1.8M319.6,270.8h1.8M321.6,270.4h1.8M323.6,268.5h1.8M325.7,272.4h1.8M327.7,270.6h1.8M329.7,271.3h1.8M331.7,270.2h1.8M333.7,271.9h1.8M335.7,270.7h1.8M337.8,270.2h1.8M339.8,268.5h1.8M341.8,267.9h1.8M343.8,270.1h1.8M345.8,269.4h1.8M347.8,271.0h1.8M349.8,268.8h1.8M351.9,268.5h1.8M353.9,268.5h1.8M355.9,268.1h1.8M357.9,269.4h1.8M359.9,269.6h1.8M361.9,269.2h1.8M363.9,268.3h1.8M366.0,266.9h1.8M368.0,268.3h1.8M370.0,268.5h1.8M372.0,267.4h1.8M374.0,267.6h1.8M376.0,266.9h1.8M378.1,266.2h1.8M380.1,267.9h1.8M382.1,266.1h1.8M384.1,267.6h1.8M386.1,266.6h1.8M388.1,268.5h1.8M390.1,266.0h1.8M392.2,265.5h1.8M394.2,266.5h1.8M396.2,267.2h1.8M398.2,265.5h1.8M400.2,265.4h1.8M402.2,265.4h1.8M404.2,263.6h1.8M406.3,266.8h1.8M408.3,264.7h1.8M410.3,266.4h1.8M412.3,267.1h1.8M414.3,264.4h1.8M416.3,266.3h1.8M418.4,265.3h1.8M420.4,263.9h1.8M422.4,264.7h1.8" stroke="#2a55f0" stroke-width="1.8" fill="none"/>
<text x="304.40" y="319.23" font-size="7.9" text-anchor="middle">TBS</text>
<line x1="304.40" y1="323.00" x2="304.40" y2="336.40" stroke="#000" stroke-width="1.2"/>
<path d="M300.8,335.9L308.0,335.9L304.4,343.1Z" fill="#000"/>
<g transform="translate(344.6,313.5) scale(1.0)"><rect x="-4.0" y="-17.5" width="2.2" height="10" fill="#fff" stroke="#9a9a9a" stroke-width="0.5"/><path d="M-2.9,-7.5V-3.5M-4.1,-19.5l2.4,1.8M-1.7,-19.5l-2.4,1.8M-2.9,-18.6V-17.5" stroke="#666" stroke-width="0.6" fill="none"/><rect x="1.8" y="-17.5" width="2.2" height="10" fill="#fff" stroke="#9a9a9a" stroke-width="0.5"/><path d="M2.9,-7.5V-3.5M1.7,-19.5l2.4,1.8M4.1,-19.5l-2.4,1.8M2.9,-18.6V-17.5" stroke="#666" stroke-width="0.6" fill="none"/><circle cx="-10.2" cy="-4.8" r="4.6" fill="#eee5df" stroke="#c49a88" stroke-width="0.8"/><circle cx="-9.5" cy="-4.4" r="2.6" fill="#f6efea" stroke="#d9bcb0" stroke-width="0.4"/><circle cx="10.2" cy="-4.8" r="4.6" fill="#eee5df" stroke="#c49a88" stroke-width="0.8"/><circle cx="9.5" cy="-4.4" r="2.6" fill="#f6efea" stroke="#d9bcb0" stroke-width="0.4"/><path d="M-8.5,-3.5 C-9.5,3 -5,8.5 0,8.8 C5,8.5 9.5,3 8.5,-3.5 C6,-8 -6,-8 -8.5,-3.5Z" fill="#e4d8cf"/><circle cx="-3.6" cy="0.2" r="0.8" fill="#b78873"/><circle cx="3.6" cy="0.2" r="0.8" fill="#b78873"/><path d="M-1,6 l1,0.8 l1,-0.8" stroke="#b78873" stroke-width="0.5" fill="none"/><path d="M-5,4 L-13,2.2 M-5,5 L-13.5,5.2 M-5,6 L-12.5,8 M5,4 L13,2.2 M5,5 L13.5,5.2 M5,6 L12.5,8" stroke="#d4d4d4" stroke-width="0.45"/></g>
<text x="335.00" y="333.63" font-size="7.9">hCCKBR-P2A-EGFP</text>
<text x="474.80" y="211.04" font-size="9.6" font-weight="bold">E</text>
<line x1="485.10" y1="231.10" x2="485.10" y2="345.40" stroke="#000" stroke-width="1.7"/>
<line x1="477.90" y1="231.10" x2="485.10" y2="231.10" stroke="#000" stroke-width="1.7"/>
<line x1="477.90" y1="278.60" x2="485.10" y2="278.60" stroke="#000" stroke-width="1.7"/>
<line x1="477.90" y1="326.60" x2="485.10" y2="326.60" stroke="#000" stroke-width="1.7"/>
<line x1="481.10" y1="254.90" x2="485.10" y2="254.90" stroke="#000" stroke-width="1.7"/>
<line x1="481.10" y1="302.60" x2="485.10" y2="302.60" stroke="#000" stroke-width="1.7"/>
<line x1="485.10" y1="345.40" x2="656.60" y2="345.40" stroke="#000" stroke-width="1.7"/>
<line x1="495.30" y1="345.40" x2="495.30" y2="352.70" stroke="#000" stroke-width="1.7"/>
<line x1="535.60" y1="345.40" x2="535.60" y2="352.70" stroke="#000" stroke-width="1.7"/>
<line x1="575.90" y1="345.40" x2="575.90" y2="352.70" stroke="#000" stroke-width="1.7"/>
<line x1="616.20" y1="345.40" x2="616.20" y2="352.70" stroke="#000" stroke-width="1.7"/>
<line x1="656.50" y1="345.40" x2="656.50" y2="352.70" stroke="#000" stroke-width="1.7"/>
<text x="495.30" y="363.33" font-size="7.9" text-anchor="middle">-20</text>
<text x="535.60" y="363.33" font-size="7.9" text-anchor="middle">0</text>
<text x="575.90" y="363.33" font-size="7.9" text-anchor="middle">20</text>
<text x="616.20" y="363.33" font-size="7.9" text-anchor="middle">40</text>
<text x="656.50" y="363.33" font-size="7.9" text-anchor="middle">60</text>
<text x="571.50" y="377.43" font-size="7.9" text-anchor="middle" textLength="31.5" lengthAdjust="spacingAndGlyphs">Time/Min</text>
<text transform="translate(472.63,230.85) rotate(-90)" font-size="7.9" text-anchor="middle">150%</text>
<text transform="translate(472.63,278.60) rotate(-90)" font-size="7.9" text-anchor="middle">100%</text>
<text transform="translate(472.63,326.35) rotate(-90)" font-size="7.9" text-anchor="middle">50%</text>
<text transform="translate(459.53,290.00) rotate(-90)" font-size="7.9" text-anchor="middle">fEPSP Amplitude</text>
<circle cx="491.6" cy="234.1" r="0.9" fill="#b0382c"/><circle cx="491.6" cy="247.0" r="0.9" fill="#2aa82a"/>
<text x="511.20" y="236.93" font-size="7.9">vehicle N=3&#160; n=7</text>
<text x="511.20" y="249.83" font-size="7.9">200nm MF-8 N=4 n=6</text>
<path d="M489.3,275.7V281.5M487.9,275.7h2.8M487.9,281.5h2.8M491.3,275.9V281.0M489.9,275.9h2.8M489.9,281.0h2.8M493.3,276.5V281.7M491.9,276.5h2.8M491.9,281.7h2.8M495.3,275.4V279.3M493.9,275.4h2.8M493.9,279.3h2.8M497.3,275.7V281.9M495.9,275.7h2.8M495.9,281.9h2.8M499.3,275.6V280.8M497.9,275.6h2.8M497.9,280.8h2.8M501.3,276.7V280.9M499.9,276.7h2.8M499.9,280.9h2.8M503.4,276.4V280.4M502.0,276.4h2.8M502.0,280.4h2.8M505.4,275.9V281.7M504.0,275.9h2.8M504.0,281.7h2.8M507.4,275.6V281.7M506.0,275.6h2.8M506.0,281.7h2.8M509.4,276.4V281.8M508.0,276.4h2.8M508.0,281.8h2.8M511.4,275.5V282.3M510.0,275.5h2.8M510.0,282.3h2.8M513.4,274.0V280.1M512.0,274.0h2.8M512.0,280.1h2.8M515.5,279.4V283.8M514.1,279.4h2.8M514.1,283.8h2.8M517.5,278.3V285.0M516.1,278.3h2.8M516.1,285.0h2.8M519.5,276.1V282.4M518.1,276.1h2.8M518.1,282.4h2.8M521.5,275.6V281.7M520.1,275.6h2.8M520.1,281.7h2.8M523.5,275.9V282.5M522.1,275.9h2.8M522.1,282.5h2.8M525.5,276.8V282.2M524.1,276.8h2.8M524.1,282.2h2.8M527.5,278.1V282.5M526.1,278.1h2.8M526.1,282.5h2.8M529.6,278.8V282.7M528.2,278.8h2.8M528.2,282.7h2.8M531.6,278.0V282.2M530.2,278.0h2.8M530.2,282.2h2.8M533.6,278.9V283.2M532.2,278.9h2.8M532.2,283.2h2.8" stroke="#b0382c" stroke-width="0.65" fill="none"/>
<path d="M488.4,278.6h1.8M490.4,278.5h1.8M492.4,279.1h1.8M494.4,277.4h1.8M496.4,278.8h1.8M498.4,278.2h1.8M500.4,278.8h1.8M502.5,278.4h1.8M504.5,278.8h1.8M506.5,278.7h1.8M508.5,279.1h1.8M510.5,278.9h1.8M512.5,277.0h1.8M514.6,281.6h1.8M516.6,281.6h1.8M518.6,279.2h1.8M520.6,278.7h1.8M522.6,279.2h1.8M524.6,279.5h1.8M526.6,280.3h1.8M528.7,280.8h1.8M530.7,280.1h1.8M532.7,281.0h1.8" stroke="#b0382c" stroke-width="1.8" fill="none"/>
<path d="M541.6,265.4V271.6M540.2,265.4h2.8M540.2,271.6h2.8M543.7,262.0V271.8M542.3,262.0h2.8M542.3,271.8h2.8M545.7,262.7V271.1M544.3,262.7h2.8M544.3,271.1h2.8M547.7,258.8V267.4M546.3,258.8h2.8M546.3,267.4h2.8M549.7,258.9V268.4M548.3,258.9h2.8M548.3,268.4h2.8M551.7,260.6V267.9M550.3,260.6h2.8M550.3,267.9h2.8M553.7,261.8V269.6M552.3,261.8h2.8M552.3,269.6h2.8M555.8,260.8V270.3M554.4,260.8h2.8M554.4,270.3h2.8M557.8,261.4V270.1M556.4,261.4h2.8M556.4,270.1h2.8M559.8,263.2V270.3M558.4,263.2h2.8M558.4,270.3h2.8M561.8,263.2V268.9M560.4,263.2h2.8M560.4,268.9h2.8M563.8,261.9V270.0M562.4,261.9h2.8M562.4,270.0h2.8M565.8,262.6V268.9M564.4,262.6h2.8M564.4,268.9h2.8M567.8,262.2V267.8M566.4,262.2h2.8M566.4,267.8h2.8M569.9,261.9V268.0M568.5,261.9h2.8M568.5,268.0h2.8M571.9,260.1V268.6M570.5,260.1h2.8M570.5,268.6h2.8M573.9,258.7V267.3M572.5,258.7h2.8M572.5,267.3h2.8M575.9,259.2V266.0M574.5,259.2h2.8M574.5,266.0h2.8M577.9,259.2V265.3M576.5,259.2h2.8M576.5,265.3h2.8M579.9,259.0V266.5M578.5,259.0h2.8M578.5,266.5h2.8M581.9,262.6V268.3M580.5,262.6h2.8M580.5,268.3h2.8M584.0,260.5V269.3M582.6,260.5h2.8M582.6,269.3h2.8M586.0,259.1V269.3M584.6,259.1h2.8M584.6,269.3h2.8M588.0,260.7V266.6M586.6,260.7h2.8M586.6,266.6h2.8M590.0,257.3V264.9M588.6,257.3h2.8M588.6,264.9h2.8M592.0,258.8V264.4M590.6,258.8h2.8M590.6,264.4h2.8M594.0,257.6V267.7M592.6,257.6h2.8M592.6,267.7h2.8M596.1,258.7V266.8M594.7,258.7h2.8M594.7,266.8h2.8M598.1,256.9V266.4M596.7,256.9h2.8M596.7,266.4h2.8M600.1,260.4V266.3M598.7,260.4h2.8M598.7,266.3h2.8M602.1,257.3V266.7M600.7,257.3h2.8M600.7,266.7h2.8M604.1,256.0V265.2M602.7,256.0h2.8M602.7,265.2h2.8M606.1,258.0V267.2M604.7,258.0h2.8M604.7,267.2h2.8M608.1,259.1V265.8M606.7,259.1h2.8M606.7,265.8h2.8M610.2,258.3V265.5M608.8,258.3h2.8M608.8,265.5h2.8M612.2,258.5V267.6M610.8,258.5h2.8M610.8,267.6h2.8M614.2,260.1V268.4M612.8,260.1h2.8M612.8,268.4h2.8M616.2,258.3V265.2M614.8,258.3h2.8M614.8,265.2h2.8M618.2,258.2V268.4M616.8,258.2h2.8M616.8,268.4h2.8M620.2,258.3V265.1M618.8,258.3h2.8M618.8,265.1h2.8M622.2,257.3V266.5M620.8,257.3h2.8M620.8,266.5h2.8M624.3,256.7V266.6M622.9,256.7h2.8M622.9,266.6h2.8M626.3,259.1V265.9M624.9,259.1h2.8M624.9,265.9h2.8M628.3,258.2V267.0M626.9,258.2h2.8M626.9,267.0h2.8M630.3,258.6V266.5M628.9,258.6h2.8M628.9,266.5h2.8M632.3,258.0V265.8M630.9,258.0h2.8M630.9,265.8h2.8M634.3,259.0V267.4M632.9,259.0h2.8M632.9,267.4h2.8M636.4,257.6V263.5M635.0,257.6h2.8M635.0,263.5h2.8M638.4,256.1V262.4M637.0,256.1h2.8M637.0,262.4h2.8M640.4,255.0V262.3M639.0,255.0h2.8M639.0,262.3h2.8M642.4,256.1V261.8M641.0,256.1h2.8M641.0,261.8h2.8M644.4,256.6V265.5M643.0,256.6h2.8M643.0,265.5h2.8M646.4,258.9V264.8M645.0,258.9h2.8M645.0,264.8h2.8M648.4,256.8V266.4M647.0,256.8h2.8M647.0,266.4h2.8M650.5,255.6V261.5M649.1,255.6h2.8M649.1,261.5h2.8M652.5,254.6V260.7M651.1,254.6h2.8M651.1,260.7h2.8M654.5,258.2V264.4M653.1,258.2h2.8M653.1,264.4h2.8M656.5,254.2V262.9M655.1,254.2h2.8M655.1,262.9h2.8" stroke="#b0382c" stroke-width="0.65" fill="none"/>
<path d="M540.7,268.5h1.8M542.8,266.9h1.8M544.8,266.9h1.8M546.8,263.1h1.8M548.8,263.7h1.8M550.8,264.2h1.8M552.8,265.7h1.8M554.9,265.5h1.8M556.9,265.8h1.8M558.9,266.7h1.8M560.9,266.0h1.8M562.9,266.0h1.8M564.9,265.8h1.8M566.9,265.0h1.8M569.0,264.9h1.8M571.0,264.4h1.8M573.0,263.0h1.8M575.0,262.6h1.8M577.0,262.2h1.8M579.0,262.8h1.8M581.0,265.5h1.8M583.1,264.9h1.8M585.1,264.2h1.8M587.1,263.7h1.8M589.1,261.1h1.8M591.1,261.6h1.8M593.1,262.6h1.8M595.2,262.7h1.8M597.2,261.6h1.8M599.2,263.3h1.8M601.2,262.0h1.8M603.2,260.6h1.8M605.2,262.6h1.8M607.2,262.5h1.8M609.3,261.9h1.8M611.3,263.1h1.8M613.3,264.3h1.8M615.3,261.7h1.8M617.3,263.3h1.8M619.3,261.7h1.8M621.3,261.9h1.8M623.4,261.6h1.8M625.4,262.5h1.8M627.4,262.6h1.8M629.4,262.6h1.8M631.4,261.9h1.8M633.4,263.2h1.8M635.5,260.6h1.8M637.5,259.3h1.8M639.5,258.6h1.8M641.5,259.0h1.8M643.5,261.0h1.8M645.5,261.9h1.8M647.5,261.6h1.8M649.6,258.5h1.8M651.6,257.7h1.8M653.6,261.3h1.8M655.6,258.6h1.8" stroke="#b0382c" stroke-width="1.8" fill="none"/>
<path d="M489.3,275.5V284.1M487.9,275.5h2.8M487.9,284.1h2.8M491.3,272.6V281.9M489.9,272.6h2.8M489.9,281.9h2.8M493.3,273.9V281.1M491.9,273.9h2.8M491.9,281.1h2.8M495.3,273.4V280.4M493.9,273.4h2.8M493.9,280.4h2.8M497.3,274.3V281.7M495.9,274.3h2.8M495.9,281.7h2.8M499.3,271.7V281.4M497.9,271.7h2.8M497.9,281.4h2.8M501.3,275.8V281.6M499.9,275.8h2.8M499.9,281.6h2.8M503.4,277.1V284.4M502.0,277.1h2.8M502.0,284.4h2.8M505.4,273.5V281.7M504.0,273.5h2.8M504.0,281.7h2.8M507.4,273.5V283.1M506.0,273.5h2.8M506.0,283.1h2.8M509.4,276.5V282.1M508.0,276.5h2.8M508.0,282.1h2.8M511.4,275.8V281.4M510.0,275.8h2.8M510.0,281.4h2.8M513.4,279.0V287.0M512.0,279.0h2.8M512.0,287.0h2.8M515.5,274.8V282.1M514.1,274.8h2.8M514.1,282.1h2.8M517.5,274.3V281.2M516.1,274.3h2.8M516.1,281.2h2.8M519.5,275.1V284.1M518.1,275.1h2.8M518.1,284.1h2.8M521.5,275.4V281.6M520.1,275.4h2.8M520.1,281.6h2.8M523.5,272.9V281.9M522.1,272.9h2.8M522.1,281.9h2.8M525.5,274.2V282.8M524.1,274.2h2.8M524.1,282.8h2.8M527.5,269.1V292.9M526.1,269.1h2.8M526.1,292.9h2.8M529.6,267.2V291.0M528.2,267.2h2.8M528.2,291.0h2.8M531.6,274.8V284.7M530.2,274.8h2.8M530.2,284.7h2.8M533.6,275.4V282.8M532.2,275.4h2.8M532.2,282.8h2.8" stroke="#2aa82a" stroke-width="0.65" fill="none"/>
<path d="M488.4,279.8h1.8M490.4,277.2h1.8M492.4,277.5h1.8M494.4,276.9h1.8M496.4,278.0h1.8M498.4,276.6h1.8M500.4,278.7h1.8M502.5,280.7h1.8M504.5,277.6h1.8M506.5,278.3h1.8M508.5,279.3h1.8M510.5,278.6h1.8M512.5,283.0h1.8M514.6,278.5h1.8M516.6,277.7h1.8M518.6,279.6h1.8M520.6,278.5h1.8M522.6,277.4h1.8M524.6,278.5h1.8M526.6,281.0h1.8M528.7,279.1h1.8M530.7,279.7h1.8M532.7,279.1h1.8" stroke="#2aa82a" stroke-width="1.8" fill="none"/>
<path d="M541.6,260.8V270.5M540.2,260.8h2.8M540.2,270.5h2.8M543.7,258.6V269.6M542.3,258.6h2.8M542.3,269.6h2.8M545.7,262.6V270.1M544.3,262.6h2.8M544.3,270.1h2.8M547.7,259.2V269.7M546.3,259.2h2.8M546.3,269.7h2.8M549.7,259.1V270.2M548.3,259.1h2.8M548.3,270.2h2.8M551.7,260.2V267.6M550.3,260.2h2.8M550.3,267.6h2.8M553.7,260.5V268.3M552.3,260.5h2.8M552.3,268.3h2.8M555.8,260.4V271.1M554.4,260.4h2.8M554.4,271.1h2.8M557.8,260.4V268.5M556.4,260.4h2.8M556.4,268.5h2.8M559.8,259.3V269.0M558.4,259.3h2.8M558.4,269.0h2.8M561.8,259.0V271.3M560.4,259.0h2.8M560.4,271.3h2.8M563.8,260.1V267.4M562.4,260.1h2.8M562.4,267.4h2.8M565.8,257.2V269.5M564.4,257.2h2.8M564.4,269.5h2.8M567.8,258.1V269.0M566.4,258.1h2.8M566.4,269.0h2.8M569.9,259.9V267.2M568.5,259.9h2.8M568.5,267.2h2.8M571.9,251.5V272.9M570.5,251.5h2.8M570.5,272.9h2.8M573.9,260.7V271.4M572.5,260.7h2.8M572.5,271.4h2.8M575.9,257.2V267.5M574.5,257.2h2.8M574.5,267.5h2.8M577.9,258.1V267.1M576.5,258.1h2.8M576.5,267.1h2.8M579.9,256.2V268.1M578.5,256.2h2.8M578.5,268.1h2.8M581.9,261.1V270.2M580.5,261.1h2.8M580.5,270.2h2.8M584.0,259.1V269.9M582.6,259.1h2.8M582.6,269.9h2.8M586.0,257.2V268.8M584.6,257.2h2.8M584.6,268.8h2.8M588.0,260.2V270.6M586.6,260.2h2.8M586.6,270.6h2.8M590.0,260.2V267.5M588.6,260.2h2.8M588.6,267.5h2.8M592.0,255.5V266.7M590.6,255.5h2.8M590.6,266.7h2.8M594.0,259.1V268.2M592.6,259.1h2.8M592.6,268.2h2.8M596.1,258.4V268.7M594.7,258.4h2.8M594.7,268.7h2.8M598.1,260.3V268.0M596.7,260.3h2.8M596.7,268.0h2.8M600.1,259.9V271.0M598.7,259.9h2.8M598.7,271.0h2.8M602.1,262.8V269.7M600.7,262.8h2.8M600.7,269.7h2.8M604.1,258.2V265.8M602.7,258.2h2.8M602.7,265.8h2.8M606.1,256.9V264.2M604.7,256.9h2.8M604.7,264.2h2.8M608.1,257.8V267.6M606.7,257.8h2.8M606.7,267.6h2.8M610.2,258.3V269.7M608.8,258.3h2.8M608.8,269.7h2.8M612.2,257.5V266.5M610.8,257.5h2.8M610.8,266.5h2.8M614.2,256.7V265.6M612.8,256.7h2.8M612.8,265.6h2.8M616.2,255.8V263.2M614.8,255.8h2.8M614.8,263.2h2.8M618.2,257.7V265.9M616.8,257.7h2.8M616.8,265.9h2.8M620.2,257.6V264.4M618.8,257.6h2.8M618.8,264.4h2.8M622.2,258.9V267.6M620.8,258.9h2.8M620.8,267.6h2.8M624.3,256.1V264.1M622.9,256.1h2.8M622.9,264.1h2.8M626.3,255.4V263.4M624.9,255.4h2.8M624.9,263.4h2.8M628.3,257.1V266.0M626.9,257.1h2.8M626.9,266.0h2.8M630.3,253.4V264.8M628.9,253.4h2.8M628.9,264.8h2.8M632.3,254.2V263.6M630.9,254.2h2.8M630.9,263.6h2.8M634.3,255.7V264.4M632.9,255.7h2.8M632.9,264.4h2.8M636.4,251.1V262.5M635.0,251.1h2.8M635.0,262.5h2.8M638.4,256.6V266.4M637.0,256.6h2.8M637.0,266.4h2.8M640.4,254.3V265.7M639.0,254.3h2.8M639.0,265.7h2.8M642.4,255.0V263.9M641.0,255.0h2.8M641.0,263.9h2.8M644.4,256.3V265.5M643.0,256.3h2.8M643.0,265.5h2.8M646.4,253.4V261.7M645.0,253.4h2.8M645.0,261.7h2.8M648.4,255.5V263.9M647.0,255.5h2.8M647.0,263.9h2.8M650.5,256.3V266.7M649.1,256.3h2.8M649.1,266.7h2.8M652.5,252.6V264.7M651.1,252.6h2.8M651.1,264.7h2.8M654.5,251.0V262.8M653.1,251.0h2.8M653.1,262.8h2.8M656.5,254.6V262.1M655.1,254.6h2.8M655.1,262.1h2.8" stroke="#2aa82a" stroke-width="0.65" fill="none"/>
<path d="M540.7,265.7h1.8M542.8,264.1h1.8M544.8,266.4h1.8M546.8,264.5h1.8M548.8,264.6h1.8M550.8,263.9h1.8M552.8,264.4h1.8M554.9,265.7h1.8M556.9,264.5h1.8M558.9,264.1h1.8M560.9,265.1h1.8M562.9,263.8h1.8M564.9,263.3h1.8M566.9,263.5h1.8M569.0,263.6h1.8M571.0,262.2h1.8M573.0,266.0h1.8M575.0,262.4h1.8M577.0,262.6h1.8M579.0,262.1h1.8M581.0,265.7h1.8M583.1,264.5h1.8M585.1,263.0h1.8M587.1,265.4h1.8M589.1,263.9h1.8M591.1,261.1h1.8M593.1,263.6h1.8M595.2,263.5h1.8M597.2,264.1h1.8M599.2,265.5h1.8M601.2,266.3h1.8M603.2,262.0h1.8M605.2,260.6h1.8M607.2,262.7h1.8M609.3,264.0h1.8M611.3,262.0h1.8M613.3,261.2h1.8M615.3,259.5h1.8M617.3,261.8h1.8M619.3,261.0h1.8M621.3,263.2h1.8M623.4,260.1h1.8M625.4,259.4h1.8M627.4,261.6h1.8M629.4,259.1h1.8M631.4,258.9h1.8M633.4,260.0h1.8M635.5,256.8h1.8M637.5,261.5h1.8M639.5,260.0h1.8M641.5,259.4h1.8M643.5,260.9h1.8M645.5,257.6h1.8M647.5,259.7h1.8M649.6,261.5h1.8M651.6,258.7h1.8M653.6,256.9h1.8M655.6,258.4h1.8" stroke="#2aa82a" stroke-width="1.8" fill="none"/>
<text x="535.60" y="316.83" font-size="7.9" text-anchor="middle">TBS</text>
<line x1="535.60" y1="323.60" x2="535.60" y2="336.90" stroke="#000" stroke-width="1.2"/>
<path d="M532.0,336.4L539.2,336.4L535.6,343.6Z" fill="#000"/>
<g transform="translate(575.0,302.5) scale(1.0)"><rect x="-4.0" y="-17.5" width="2.2" height="10" fill="#fff" stroke="#9a9a9a" stroke-width="0.5"/><path d="M-2.9,-7.5V-3.5M-4.1,-19.5l2.4,1.8M-1.7,-19.5l-2.4,1.8M-2.9,-18.6V-17.5" stroke="#666" stroke-width="0.6" fill="none"/><rect x="1.8" y="-17.5" width="2.2" height="10" fill="#fff" stroke="#9a9a9a" stroke-width="0.5"/><path d="M2.9,-7.5V-3.5M1.7,-19.5l2.4,1.8M4.1,-19.5l-2.4,1.8M2.9,-18.6V-17.5" stroke="#666" stroke-width="0.6" fill="none"/><circle cx="-10.2" cy="-4.8" r="4.6" fill="#eee5df" stroke="#c49a88" stroke-width="0.8"/><circle cx="-9.5" cy="-4.4" r="2.6" fill="#f6efea" stroke="#d9bcb0" stroke-width="0.4"/><circle cx="10.2" cy="-4.8" r="4.6" fill="#eee5df" stroke="#c49a88" stroke-width="0.8"/><circle cx="9.5" cy="-4.4" r="2.6" fill="#f6efea" stroke="#d9bcb0" stroke-width="0.4"/><path d="M-8.5,-3.5 C-9.5,3 -5,8.5 0,8.8 C5,8.5 9.5,3 8.5,-3.5 C6,-8 -6,-8 -8.5,-3.5Z" fill="#e4d8cf"/><circle cx="-3.6" cy="0.2" r="0.8" fill="#b78873"/><circle cx="3.6" cy="0.2" r="0.8" fill="#b78873"/><path d="M-1,6 l1,0.8 l1,-0.8" stroke="#b78873" stroke-width="0.5" fill="none"/><path d="M-5,4 L-13,2.2 M-5,5 L-13.5,5.2 M-5,6 L-12.5,8 M5,4 L13,2.2 M5,5 L13.5,5.2 M5,6 L12.5,8" stroke="#d4d4d4" stroke-width="0.45"/></g>
<text x="561.00" y="322.36" font-size="7.98" textLength="78.9" lengthAdjust="spacingAndGlyphs">hCCKBR(Asn353Ala)-</text>
<text x="561.00" y="331.96" font-size="7.98">P2A-EGFP</text>
<text x="8.60" y="398.84" font-size="9.6" font-weight="bold">F</text>
<line x1="33.60" y1="404.30" x2="33.60" y2="530.50" stroke="#000" stroke-width="1.7"/>
<line x1="26.90" y1="421.10" x2="33.60" y2="421.10" stroke="#000" stroke-width="1.7"/>
<line x1="26.90" y1="467.20" x2="33.60" y2="467.20" stroke="#000" stroke-width="1.7"/>
<line x1="26.90" y1="513.10" x2="33.60" y2="513.10" stroke="#000" stroke-width="1.7"/>
<line x1="33.60" y1="530.50" x2="147.20" y2="530.50" stroke="#000" stroke-width="1.7"/>
<rect x="41.10" y="467.20" width="14.80" height="62.40" fill="#adadad"/>
<rect x="64.20" y="463.80" width="14.70" height="65.80" fill="#5f5f5f"/>
<rect x="101.80" y="468.00" width="15.20" height="61.60" fill="#fb91c6"/>
<rect x="124.30" y="448.70" width="15.40" height="80.90" fill="#f72f8f"/>
<line x1="59.60" y1="530.50" x2="59.60" y2="538.90" stroke="#000" stroke-width="1.7"/>
<line x1="120.30" y1="530.50" x2="120.30" y2="538.90" stroke="#000" stroke-width="1.7"/>
<text x="59.60" y="549.79" font-size="9.2" text-anchor="middle">BR-KO</text>
<text x="120.30" y="550.49" font-size="9.2" text-anchor="middle" textLength="47.4" lengthAdjust="spacingAndGlyphs">BR-KO+BR</text>
<text transform="translate(21.36,421.15) rotate(-90)" font-size="9.1" text-anchor="middle">150%</text>
<text transform="translate(21.36,467.20) rotate(-90)" font-size="9.1" text-anchor="middle">100%</text>
<text transform="translate(21.36,513.25) rotate(-90)" font-size="9.1" text-anchor="middle">50%</text>
<text transform="translate(7.53,469.00) rotate(-90)" font-size="8.74" text-anchor="middle">%fEPSP Amplitude</text>
<path d="M48.7,458.0V420.8H71.3V448.8" stroke="#000" stroke-width="1.1" fill="none"/>
<text x="60.10" y="412.69" font-size="9.2" text-anchor="middle">ns</text>
<path d="M109.1,457.5V421.0H132.3V425.7" stroke="#000" stroke-width="1.1" fill="none"/>
<path d="M110.69,408.10V413.90M108.18,409.55L113.20,412.45M108.18,412.45L113.20,409.55M117.26,408.10V413.90M114.75,409.55L119.77,412.45M114.75,412.45L119.77,409.55M123.84,408.10V413.90M121.33,409.55L126.35,412.45M121.33,412.45L126.35,409.55M130.41,408.10V413.90M127.90,409.55L132.92,412.45M127.90,412.45L132.92,409.55" stroke="#000" stroke-width="1.55" stroke-linecap="round" fill="none"/>
<circle cx="110.69" cy="411.00" r="1.3"/><circle cx="117.26" cy="411.00" r="1.3"/><circle cx="123.84" cy="411.00" r="1.3"/><circle cx="130.41" cy="411.00" r="1.3"/>
<path d="M48.7,466.3L71.3,454.8M48.7,467.2L71.5,457.5M48.7,468.1L71.0,458.5M48.7,467.2L76.4,460.8M48.7,465.4L74.5,462.2M48.7,469.0L77.8,463.0M48.7,467.2L76.4,463.9M48.7,466.3L73.0,464.4M48.7,468.1L75.5,465.4M48.7,467.2L71.0,489.3" stroke="#000" stroke-width="0.55" fill="none"/>
<circle cx="48.7" cy="466.3" r="0.95" fill="#000"/><circle cx="71.3" cy="454.8" r="0.95" fill="#000"/>
<circle cx="48.7" cy="467.2" r="0.95" fill="#000"/><circle cx="71.5" cy="457.5" r="0.95" fill="#000"/>
<circle cx="48.7" cy="468.1" r="0.95" fill="#000"/><circle cx="71.0" cy="458.5" r="0.95" fill="#000"/>
<circle cx="48.7" cy="467.2" r="0.95" fill="#000"/><circle cx="76.4" cy="460.8" r="0.95" fill="#000"/>
<circle cx="48.7" cy="465.4" r="0.95" fill="#000"/><circle cx="74.5" cy="462.2" r="0.95" fill="#000"/>
<circle cx="48.7" cy="469.0" r="0.95" fill="#000"/><circle cx="77.8" cy="463.0" r="0.95" fill="#000"/>
<circle cx="48.7" cy="467.2" r="0.95" fill="#000"/><circle cx="76.4" cy="463.9" r="0.95" fill="#000"/>
<circle cx="48.7" cy="466.3" r="0.95" fill="#000"/><circle cx="73.0" cy="464.4" r="0.95" fill="#000"/>
<circle cx="48.7" cy="468.1" r="0.95" fill="#000"/><circle cx="75.5" cy="465.4" r="0.95" fill="#000"/>
<circle cx="48.7" cy="467.2" r="0.95" fill="#000"/><circle cx="71.0" cy="489.3" r="0.95" fill="#000"/>
<path d="M109.3,467.2L132.3,431.3M109.3,468.1L132.4,435.0M109.3,466.3L132.0,441.0M109.3,467.2L131.8,444.2M109.3,469.0L132.5,446.9M109.3,468.1L133.5,447.9M109.3,467.2L131.8,448.8M109.3,466.3L134.5,449.7M109.3,470.0L132.2,458.0M109.3,473.2L135.9,459.8" stroke="#000" stroke-width="0.55" fill="none"/>
<circle cx="109.3" cy="467.2" r="0.95" fill="#000"/><circle cx="132.3" cy="431.3" r="0.95" fill="#000"/>
<circle cx="109.3" cy="468.1" r="0.95" fill="#000"/><circle cx="132.4" cy="435.0" r="0.95" fill="#000"/>
<circle cx="109.3" cy="466.3" r="0.95" fill="#000"/><circle cx="132.0" cy="441.0" r="0.95" fill="#000"/>
<circle cx="109.3" cy="467.2" r="0.95" fill="#000"/><circle cx="131.8" cy="444.2" r="0.95" fill="#000"/>
<circle cx="109.3" cy="469.0" r="0.95" fill="#000"/><circle cx="132.5" cy="446.9" r="0.95" fill="#000"/>
<circle cx="109.3" cy="468.1" r="0.95" fill="#000"/><circle cx="133.5" cy="447.9" r="0.95" fill="#000"/>
<circle cx="109.3" cy="467.2" r="0.95" fill="#000"/><circle cx="131.8" cy="448.8" r="0.95" fill="#000"/>
<circle cx="109.3" cy="466.3" r="0.95" fill="#000"/><circle cx="134.5" cy="449.7" r="0.95" fill="#000"/>
<circle cx="109.3" cy="470.0" r="0.95" fill="#000"/><circle cx="132.2" cy="458.0" r="0.95" fill="#000"/>
<circle cx="109.3" cy="473.2" r="0.95" fill="#000"/><circle cx="135.9" cy="459.8" r="0.95" fill="#000"/>
<text x="150.40" y="399.44" font-size="9.6" font-weight="bold">G</text>
<path d="M152.4,414.6 L154.9,428.8 L156.3,423.5 L158.6,436.0 L160.2,442.0 L161.8,443.6 L163.5,441.5 L166.0,437.5 L170.0,432.5 L175.0,428.4 L181.0,425.4 L188.0,424.1 L196.0,424.6 L204.1,426.2" stroke="#f279b3" stroke-width="1.2" fill="none" stroke-linejoin="round" stroke-linecap="round"/>
<path d="M152.4,414.6 L154.9,428.8 L156.3,423.5 L159.0,447.0 L161.5,460.5 L163.5,455.0 L166.0,446.0 L169.0,440.0 L172.4,435.4 L178.0,431.2 L183.3,428.4 L190.0,427.0 L197.0,426.5 L204.1,426.8" stroke="#e0207a" stroke-width="1.4" fill="none" stroke-linejoin="round" stroke-linecap="round"/>
<path d="M182.5,447.6V456.4H199.4" stroke="#333" stroke-width="0.9" fill="none"/>
<text transform="translate(180.98,452.60) rotate(-90)" font-size="6.6" text-anchor="middle" style='font-family:"Liberation Serif", serif' textLength="16.4" lengthAdjust="spacingAndGlyphs">200uv</text>
<text x="182.20" y="465.00" font-size="6.6" style='font-family:"Liberation Serif", serif' textLength="11.0" lengthAdjust="spacingAndGlyphs">5ms</text>
<path d="M155.4,478.9 L155.8,486.0 L157.0,489.5 L158.6,491.0 L160.5,503.0 L162.2,514.0 L163.5,519.3 L165.0,515.5 L167.2,506.0 L169.5,497.0 L172.4,488.0 L175.5,483.0 L179.5,479.2 L184.0,476.3 L187.5,475.3 L192.0,475.8 L196.5,476.8 L200.8,477.8" stroke="#4a4a4a" stroke-width="1.3" fill="none" stroke-linejoin="round" stroke-linecap="round"/>
<path d="M182.8,497.5V513.1H206.3" stroke="#444" stroke-width="0.9" fill="none"/>
<text transform="translate(180.98,509.30) rotate(-90)" font-size="6.6" text-anchor="middle" style='font-family:"Liberation Serif", serif' textLength="17.0" lengthAdjust="spacingAndGlyphs">500uv</text>
<text x="182.80" y="520.60" font-size="6.6" style='font-family:"Liberation Serif", serif' textLength="11.5" lengthAdjust="spacingAndGlyphs">5ms</text>
<text x="251.50" y="399.44" font-size="9.6" font-weight="bold">H</text>
<line x1="258.10" y1="406.90" x2="258.10" y2="533.80" stroke="#000" stroke-width="1.7"/>
<line x1="250.00" y1="427.80" x2="258.10" y2="427.80" stroke="#000" stroke-width="1.7"/>
<line x1="250.00" y1="480.60" x2="258.10" y2="480.60" stroke="#000" stroke-width="1.7"/>
<line x1="250.00" y1="533.80" x2="372.70" y2="533.80" stroke="#000" stroke-width="1.7"/>
<rect x="265.80" y="480.60" width="15.40" height="52.40" fill="#7f9af8"/>
<rect x="289.30" y="467.80" width="14.70" height="65.20" fill="#0535f2"/>
<rect x="327.20" y="481.30" width="15.00" height="51.70" fill="#ff8d7e"/>
<rect x="349.90" y="482.80" width="15.10" height="50.20" fill="#ff2a00"/>
<line x1="285.10" y1="533.80" x2="285.10" y2="541.80" stroke="#000" stroke-width="1.7"/>
<line x1="345.80" y1="533.80" x2="345.80" y2="541.80" stroke="#000" stroke-width="1.7"/>
<text x="284.80" y="552.63" font-size="9.3" text-anchor="middle" textLength="29.2" lengthAdjust="spacingAndGlyphs">vehicle</text>
<text x="346.00" y="552.13" font-size="9.3" text-anchor="middle" textLength="53.1" lengthAdjust="spacingAndGlyphs">200nM MF-8</text>
<text transform="translate(245.39,427.70) rotate(-90)" font-size="8.9" text-anchor="middle">150%</text>
<text transform="translate(245.39,480.60) rotate(-90)" font-size="8.9" text-anchor="middle">100%</text>
<text transform="translate(245.39,533.50) rotate(-90)" font-size="8.9" text-anchor="middle">50%</text>
<text transform="translate(228.05,483.70) rotate(-90)" font-size="9.07" text-anchor="middle">fEPSP Amplitude%</text>
<path d="M273.4,468.2V440.2H296.5V452.4" stroke="#000" stroke-width="1.1" fill="none"/>
<path d="M275.36,427.60V433.40M272.85,429.05L277.87,431.95M272.85,431.95L277.87,429.05M282.09,427.60V433.40M279.58,429.05L284.60,431.95M279.58,431.95L284.60,429.05M288.81,427.60V433.40M286.30,429.05L291.32,431.95M286.30,431.95L291.32,429.05M295.54,427.60V433.40M293.03,429.05L298.05,431.95M293.03,431.95L298.05,429.05" stroke="#000" stroke-width="1.55" stroke-linecap="round" fill="none"/>
<circle cx="275.36" cy="430.50" r="1.3"/><circle cx="282.09" cy="430.50" r="1.3"/><circle cx="288.81" cy="430.50" r="1.3"/><circle cx="295.54" cy="430.50" r="1.3"/>
<path d="M334.3,467.5V440.4H357.3V465.8" stroke="#000" stroke-width="1.1" fill="none"/>
<text x="346.40" y="432.09" font-size="9.2" text-anchor="middle">ns</text>
<path d="M273.4,480.6L296.5,464.2M273.4,480.3L297.0,465.8M273.4,480.9L299.0,467.9M273.4,480.5L297.5,471.9" stroke="#000" stroke-width="0.6" fill="none"/>
<circle cx="273.4" cy="480.6" r="0.95" fill="#000"/><circle cx="296.5" cy="464.2" r="0.95" fill="#000"/>
<circle cx="273.4" cy="480.3" r="0.95" fill="#000"/><circle cx="297.0" cy="465.8" r="0.95" fill="#000"/>
<circle cx="273.4" cy="480.9" r="0.95" fill="#000"/><circle cx="299.0" cy="467.9" r="0.95" fill="#000"/>
<circle cx="273.4" cy="480.5" r="0.95" fill="#000"/><circle cx="297.5" cy="471.9" r="0.95" fill="#000"/>
<path d="M334.3,479.0L356.5,476.9M334.3,480.1L358.5,478.0M334.3,481.1L357.0,483.2M334.3,481.7L359.0,484.3M334.3,482.2L357.5,485.9" stroke="#000" stroke-width="0.6" fill="none"/>
<circle cx="334.3" cy="479.0" r="0.95" fill="#000"/><circle cx="356.5" cy="476.9" r="0.95" fill="#000"/>
<circle cx="334.3" cy="480.1" r="0.95" fill="#000"/><circle cx="358.5" cy="478.0" r="0.95" fill="#000"/>
<circle cx="334.3" cy="481.1" r="0.95" fill="#000"/><circle cx="357.0" cy="483.2" r="0.95" fill="#000"/>
<circle cx="334.3" cy="481.7" r="0.95" fill="#000"/><circle cx="359.0" cy="484.3" r="0.95" fill="#000"/>
<circle cx="334.3" cy="482.2" r="0.95" fill="#000"/><circle cx="357.5" cy="485.9" r="0.95" fill="#000"/>
<path d="M333.3,478.5 l2,1.5 l-2,1.5 M333.3,481 l2,1.5 l-2,1.5" stroke="#000" stroke-width="0.6" fill="none"/>
<text x="370.60" y="398.94" font-size="9.6" font-weight="bold">I</text>
<path d="M377.9,431.0 L378.8,441.5 L380.5,438.6 L382.5,452.0 L384.7,464.8 L387.5,470.0 L391.3,476.8 L394.0,472.0 L397.0,462.0 L400.5,454.5 L405.0,449.5 L411.0,443.2 L417.0,440.6 L424.1,438.4 L432.0,437.8 L441.2,437.4 L448.4,438.2" stroke="#ff9080" stroke-width="1.3" fill="none" stroke-linejoin="round" stroke-linecap="round"/>
<path d="M377.9,431.0 L378.8,441.5 L380.5,438.6 L382.5,452.0 L384.7,463.2 L387.5,467.0 L391.3,471.2 L394.0,467.0 L397.0,459.0 L400.5,453.3 L405.0,449.0 L411.0,442.8 L417.0,440.5 L424.1,438.2 L432.0,437.6 L441.2,437.1 L448.4,438.2" stroke="#ff3214" stroke-width="1.4" fill="none" stroke-linejoin="round" stroke-linecap="round"/>
<path d="M423.5,460.2V470.0H448.0" stroke="#333" stroke-width="1.0" fill="none"/>
<text transform="translate(422.50,465.00) rotate(-90)" font-size="4.8" text-anchor="middle">200uv</text>
<text x="430.00" y="475.52" font-size="4.8" text-anchor="middle">5ms</text>
<path d="M379.5,494.4 L380.8,507.3 L384.4,500.7 L387.0,508.0 L390.0,516.0 L393.0,523.0 L397.2,527.3 L400.5,523.0 L404.4,517.0 L408.0,511.0 L413.6,504.5 L419.0,501.0 L424.1,499.2 L437.3,497.6 L449.1,498.1" stroke="#8098ff" stroke-width="1.3" fill="none" stroke-linejoin="round" stroke-linecap="round"/>
<path d="M379.5,494.4 L380.8,507.3 L384.4,500.7 L387.0,512.0 L390.0,523.0 L392.5,531.0 L395.0,535.5 L398.0,534.2 L401.0,527.0 L404.4,519.1 L408.5,512.0 L413.6,505.3 L419.0,501.3 L424.1,499.4 L437.3,497.8 L449.1,498.1" stroke="#2251ff" stroke-width="1.5" fill="none" stroke-linejoin="round" stroke-linecap="round"/>
<path d="M423.2,519.8V530.3H448.0" stroke="#333" stroke-width="1.0" fill="none"/>
<text transform="translate(422.30,525.00) rotate(-90)" font-size="4.8" text-anchor="middle">200uv</text>
<text x="430.00" y="535.92" font-size="4.8" text-anchor="middle">5ms</text>
<text x="480.40" y="399.24" font-size="9.6" font-weight="bold">J</text>
<line x1="489.70" y1="406.00" x2="489.70" y2="532.60" stroke="#000" stroke-width="1.7"/>
<line x1="481.50" y1="424.00" x2="489.70" y2="424.00" stroke="#000" stroke-width="1.7"/>
<line x1="481.50" y1="469.30" x2="489.70" y2="469.30" stroke="#000" stroke-width="1.7"/>
<line x1="481.50" y1="514.60" x2="489.70" y2="514.60" stroke="#000" stroke-width="1.7"/>
<line x1="489.70" y1="532.60" x2="603.80" y2="532.60" stroke="#000" stroke-width="1.7"/>
<rect x="497.30" y="469.30" width="15.50" height="62.50" fill="#cfa77d"/>
<rect x="520.30" y="455.00" width="15.70" height="76.80" fill="#8f4b00"/>
<rect x="558.30" y="469.10" width="15.50" height="62.70" fill="#7fc77f"/>
<rect x="581.00" y="451.70" width="15.80" height="80.10" fill="#008800"/>
<line x1="516.40" y1="532.60" x2="516.40" y2="540.50" stroke="#000" stroke-width="1.7"/>
<line x1="577.30" y1="532.60" x2="577.30" y2="540.50" stroke="#000" stroke-width="1.7"/>
<text x="516.40" y="552.43" font-size="9.3" text-anchor="middle" textLength="29.2" lengthAdjust="spacingAndGlyphs">vehicle</text>
<text x="577.30" y="552.13" font-size="9.3" text-anchor="middle" textLength="53.0" lengthAdjust="spacingAndGlyphs">200nM MF-8</text>
<text transform="translate(476.54,424.05) rotate(-90)" font-size="9.05" text-anchor="middle">150%</text>
<text transform="translate(476.54,469.30) rotate(-90)" font-size="9.05" text-anchor="middle">100%</text>
<text transform="translate(476.54,514.55) rotate(-90)" font-size="9.05" text-anchor="middle">50%</text>
<text transform="translate(467.11,472.80) rotate(-90)" font-size="8.96" text-anchor="middle">%fEPSP Amplitude</text>
<path d="M505.2,459.6V426.4H528.4V433.0" stroke="#000" stroke-width="1.1" fill="none"/>
<path d="M510.03,413.40V419.20M507.52,414.85L512.54,417.75M507.52,417.75L512.54,414.85M516.50,413.40V419.20M513.99,414.85L519.01,417.75M513.99,417.75L519.01,414.85M522.97,413.40V419.20M520.46,414.85L525.48,417.75M520.46,417.75L525.48,414.85" stroke="#000" stroke-width="1.55" stroke-linecap="round" fill="none"/>
<circle cx="510.03" cy="416.30" r="1.3"/><circle cx="516.50" cy="416.30" r="1.3"/><circle cx="522.97" cy="416.30" r="1.3"/>
<path d="M566.3,456.6V425.9H588.5V437.4" stroke="#000" stroke-width="1.1" fill="none"/>
<path d="M571.10,413.20V419.00M568.59,414.65L573.61,417.55M568.59,417.55L573.61,414.65M577.70,413.20V419.00M575.19,414.65L580.21,417.55M575.19,417.55L580.21,414.65M584.30,413.20V419.00M581.79,414.65L586.81,417.55M581.79,417.55L586.81,414.65" stroke="#000" stroke-width="1.55" stroke-linecap="round" fill="none"/>
<circle cx="571.10" cy="416.10" r="1.3"/><circle cx="577.70" cy="416.10" r="1.3"/><circle cx="584.30" cy="416.10" r="1.3"/>
<path d="M505.2,469.3L528.4,442.2M505.2,469.3L530.5,453.0M505.2,469.3L529.0,453.5M505.2,469.3L531.5,454.8M505.2,469.3L527.5,457.1M505.2,469.3L532.5,458.4" stroke="#000" stroke-width="0.6" fill="none"/>
<circle cx="505.2" cy="469.3" r="0.95" fill="#000"/><circle cx="528.4" cy="442.2" r="0.95" fill="#000"/>
<circle cx="505.2" cy="469.3" r="0.95" fill="#000"/><circle cx="530.5" cy="453.0" r="0.95" fill="#000"/>
<circle cx="505.2" cy="469.3" r="0.95" fill="#000"/><circle cx="529.0" cy="453.5" r="0.95" fill="#000"/>
<circle cx="505.2" cy="469.3" r="0.95" fill="#000"/><circle cx="531.5" cy="454.8" r="0.95" fill="#000"/>
<circle cx="505.2" cy="469.3" r="0.95" fill="#000"/><circle cx="527.5" cy="457.1" r="0.95" fill="#000"/>
<circle cx="505.2" cy="469.3" r="0.95" fill="#000"/><circle cx="532.5" cy="458.4" r="0.95" fill="#000"/>
<path d="M528.8,452.5V458 M527.3,452.5h3" stroke="#000" stroke-width="0.6" fill="none"/>
<path d="M566.3,464.3L588.5,444.9M566.3,466.6L588.0,448.5M566.3,468.4L590.5,449.8M566.3,470.2L588.5,451.7M566.3,471.6L589.5,455.7M566.3,472.9L588.5,460.7" stroke="#000" stroke-width="0.6" fill="none"/>
<circle cx="566.3" cy="464.3" r="0.95" fill="#000"/><circle cx="588.5" cy="444.9" r="0.95" fill="#000"/>
<circle cx="566.3" cy="466.6" r="0.95" fill="#000"/><circle cx="588.0" cy="448.5" r="0.95" fill="#000"/>
<circle cx="566.3" cy="468.4" r="0.95" fill="#000"/><circle cx="590.5" cy="449.8" r="0.95" fill="#000"/>
<circle cx="566.3" cy="470.2" r="0.95" fill="#000"/><circle cx="588.5" cy="451.7" r="0.95" fill="#000"/>
<circle cx="566.3" cy="471.6" r="0.95" fill="#000"/><circle cx="589.5" cy="455.7" r="0.95" fill="#000"/>
<circle cx="566.3" cy="472.9" r="0.95" fill="#000"/><circle cx="588.5" cy="460.7" r="0.95" fill="#000"/>
<text x="612.60" y="399.24" font-size="9.6" font-weight="bold">K</text>
<path d="M605.5,450.0 L607.0,440.0 L608.8,434.5 L610.5,440.0 L613.0,452.0 L616.0,463.0 L618.4,466.5 L621.0,461.0 L626.5,450.0 L633.8,427.5 L640.3,419.5 L647.6,414.0 L654.8,410.0 L664.6,412.3 L675.8,411.7" stroke="#7ccf7c" stroke-width="1.2" fill="none" stroke-linejoin="round" stroke-linecap="round"/>
<path d="M605.5,450.0 L607.0,438.0 L608.8,432.3 L610.5,437.0 L613.0,450.0 L615.5,462.0 L617.6,470.4 L620.0,465.0 L626.5,453.3 L633.8,429.0 L640.3,419.8 L647.6,414.6 L654.8,410.0 L660.0,411.5 L664.6,412.3 L670.0,411.6 L675.8,411.7" stroke="#16a016" stroke-width="1.4" fill="none" stroke-linejoin="round" stroke-linecap="round"/>
<path d="M652.2,433.0V452.7H674.5" stroke="#333" stroke-width="1.0" fill="none"/>
<text transform="translate(650.00,442.50) rotate(-90)" font-size="4.8" text-anchor="middle">200uv</text>
<text x="660.70" y="459.02" font-size="4.8" text-anchor="middle">2.5ms</text>
<path d="M608.1,475.5 L609.2,489.3 L612.7,491.9 L615.0,505.0 L617.5,520.0 L619.5,528.0 L621.3,530.7 L623.5,528.0 L626.0,518.0 L629.0,508.0 L633.0,499.0 L637.0,492.0 L642.3,487.3 L648.9,484.7 L655.0,484.8 L660.7,485.5 L672.0,486.5 L685.0,488.6" stroke="#d6a97a" stroke-width="1.3" fill="none" stroke-linejoin="round" stroke-linecap="round"/>
<path d="M608.1,475.5 L609.2,489.3 L612.7,491.9 L615.0,507.0 L617.5,526.0 L619.0,536.0 L620.6,541.2 L622.5,540.0 L625.0,528.0 L627.8,517.6 L633.0,506.0 L638.4,496.5 L642.0,492.0 L647.6,489.3 L654.0,487.2 L660.7,486.0 L672.0,486.5 L685.0,488.6" stroke="#b0671a" stroke-width="1.3" fill="none" stroke-linejoin="round" stroke-linecap="round"/>
<path d="M647.6,508.4V525.2H673.6" stroke="#333" stroke-width="1.0" fill="none"/>
<text transform="translate(645.60,516.80) rotate(-90)" font-size="4.8" text-anchor="middle">200uv</text>
<text x="652.80" y="531.72" font-size="4.8" text-anchor="middle">5ms</text>
<text x="13.60" y="573.14" font-size="9.6" font-weight="bold">L</text>
<text x="31.90" y="569.07" font-size="8.85" style='fill:#f33c26;stroke:#f33c26' textLength="125.2" lengthAdjust="spacingAndGlyphs">100um Barbadin + 200nM MF-8</text>
<path d="M32.4,576.4H179.5 M32.4,570.4V582.6 M179.5,570.4V582.6" stroke="#f42a10" stroke-width="2.4" fill="none"/>
<text x="55.40" y="588.63" font-size="8.75" style='fill:#2b4ff2;stroke:#2b4ff2' textLength="64.0" lengthAdjust="spacingAndGlyphs">100um Barbadin</text>
<path d="M32.4,594.0H179.5 M32.4,587.7V600.3 M179.5,587.7V600.3" stroke="#1b45f5" stroke-width="2.4" fill="none"/>
<line x1="89.60" y1="609.90" x2="89.60" y2="732.00" stroke="#000" stroke-width="1.7"/>
<line x1="82.30" y1="609.90" x2="89.60" y2="609.90" stroke="#000" stroke-width="1.7"/>
<line x1="82.30" y1="668.50" x2="89.60" y2="668.50" stroke="#000" stroke-width="1.7"/>
<line x1="85.60" y1="639.20" x2="89.60" y2="639.20" stroke="#000" stroke-width="1.7"/>
<line x1="85.60" y1="697.80" x2="89.60" y2="697.80" stroke="#000" stroke-width="1.7"/>
<line x1="35.30" y1="727.00" x2="89.60" y2="727.00" stroke="#000" stroke-width="1.7"/>
<line x1="35.30" y1="727.00" x2="35.30" y2="734.80" stroke="#000" stroke-width="1.7"/>
<path d="M97.6,726.9H162.5 M97.6,721.3V732.3 M162.5,721.3V732.3 M130.8,726.9V734.0" stroke="#000" stroke-width="1.7" fill="none"/>
<path d="M171.8,726.6H325.8 M171.8,721.3V732.3 M215.1,726.6V734.0 M267.2,726.6V734.0 M318.8,726.6V734.0" stroke="#000" stroke-width="1.7" fill="none"/>
<text x="35.30" y="745.81" font-size="8.7" text-anchor="middle">-90</text>
<text x="89.00" y="745.81" font-size="8.7" text-anchor="middle">-30</text>
<text x="130.80" y="745.81" font-size="8.7" text-anchor="middle">-15</text>
<text x="215.10" y="745.81" font-size="8.7" text-anchor="middle">20</text>
<text x="267.20" y="745.81" font-size="8.7" text-anchor="middle">40</text>
<text x="318.80" y="745.81" font-size="8.7" text-anchor="middle">60</text>
<text x="163.90" y="747.88" font-size="8.6" textLength="35.2" lengthAdjust="spacingAndGlyphs">Time/Min</text>
<text transform="translate(78.24,609.80) rotate(-90)" font-size="8.5" text-anchor="middle">150</text>
<text transform="translate(78.24,668.20) rotate(-90)" font-size="8.5" text-anchor="middle">100</text>
<text transform="translate(63.52,669.90) rotate(-90)" font-size="9.0" text-anchor="middle">fEPSP Amplitude %</text>
<circle cx="100.2" cy="611.5" r="0.9" fill="#2d55f0"/><circle cx="100.2" cy="624.6" r="0.9" fill="#f04a30"/>
<text x="122.70" y="614.45" font-size="8.8" textLength="71.4" lengthAdjust="spacingAndGlyphs">Barbadin N=3 n=5</text>
<text x="122.70" y="628.05" font-size="8.8" textLength="134.6" lengthAdjust="spacingAndGlyphs">Barbadin + 200nM MF-8&#160; N=3 n=6</text>
<path d="M100.9,667.3V669.9M99.5,667.3h2.8M99.5,669.9h2.8M103.5,666.6V670.7M102.1,666.6h2.8M102.1,670.7h2.8M106.1,666.6V669.7M104.7,666.6h2.8M104.7,669.7h2.8M108.7,666.5V669.9M107.3,666.5h2.8M107.3,669.9h2.8M111.3,665.8V668.8M109.9,665.8h2.8M109.9,668.8h2.8M113.9,667.3V671.3M112.5,667.3h2.8M112.5,671.3h2.8M116.5,667.2V671.6M115.1,667.2h2.8M115.1,671.6h2.8M119.1,668.5V671.5M117.7,668.5h2.8M117.7,671.5h2.8M121.7,668.0V671.6M120.3,668.0h2.8M120.3,671.6h2.8M124.3,666.8V670.7M122.9,666.8h2.8M122.9,670.7h2.8M126.9,666.6V670.3M125.5,666.6h2.8M125.5,670.3h2.8M129.5,666.2V669.9M128.1,666.2h2.8M128.1,669.9h2.8M132.1,667.5V671.4M130.7,667.5h2.8M130.7,671.4h2.8M134.7,667.1V669.8M133.3,667.1h2.8M133.3,669.8h2.8M137.3,667.5V671.6M135.9,667.5h2.8M135.9,671.6h2.8M139.9,666.6V670.0M138.5,666.6h2.8M138.5,670.0h2.8M142.5,666.2V670.2M141.1,666.2h2.8M141.1,670.2h2.8M145.1,667.2V669.9M143.7,667.2h2.8M143.7,669.9h2.8M147.7,667.6V671.0M146.3,667.6h2.8M146.3,671.0h2.8M150.3,668.3V672.1M148.9,668.3h2.8M148.9,672.1h2.8M152.9,666.2V670.4M151.5,666.2h2.8M151.5,670.4h2.8M155.5,666.9V670.3M154.1,666.9h2.8M154.1,670.3h2.8M158.1,667.2V671.0M156.7,667.2h2.8M156.7,671.0h2.8M160.7,666.3V669.4M159.3,666.3h2.8M159.3,669.4h2.8" stroke="#f04a30" stroke-width="0.65" fill="none"/>
<path d="M100.0,668.6h1.8M102.6,668.6h1.8M105.2,668.1h1.8M107.8,668.2h1.8M110.4,667.3h1.8M113.0,669.3h1.8M115.6,669.4h1.8M118.2,670.0h1.8M120.8,669.8h1.8M123.4,668.8h1.8M126.0,668.5h1.8M128.6,668.1h1.8M131.2,669.5h1.8M133.8,668.4h1.8M136.4,669.5h1.8M139.0,668.3h1.8M141.6,668.2h1.8M144.2,668.6h1.8M146.8,669.3h1.8M149.4,670.2h1.8M152.0,668.3h1.8M154.6,668.6h1.8M157.2,669.1h1.8M159.8,667.8h1.8" stroke="#f04a30" stroke-width="1.8" fill="none"/>
<path d="M100.9,667.3V670.6M99.5,667.3h2.8M99.5,670.6h2.8M103.5,666.0V669.4M102.1,666.0h2.8M102.1,669.4h2.8M106.1,667.3V670.1M104.7,667.3h2.8M104.7,670.1h2.8M108.7,666.6V669.7M107.3,666.6h2.8M107.3,669.7h2.8M111.3,667.2V669.7M109.9,667.2h2.8M109.9,669.7h2.8M113.9,666.1V669.1M112.5,666.1h2.8M112.5,669.1h2.8M116.5,665.3V668.8M115.1,665.3h2.8M115.1,668.8h2.8M119.1,666.8V668.9M117.7,666.8h2.8M117.7,668.9h2.8M121.7,665.9V669.5M120.3,665.9h2.8M120.3,669.5h2.8M124.3,666.6V669.7M122.9,666.6h2.8M122.9,669.7h2.8M126.9,665.8V668.8M125.5,665.8h2.8M125.5,668.8h2.8M129.5,667.1V670.2M128.1,667.1h2.8M128.1,670.2h2.8M132.1,666.8V669.9M130.7,666.8h2.8M130.7,669.9h2.8M134.7,667.0V670.2M133.3,667.0h2.8M133.3,670.2h2.8M137.3,666.4V669.7M135.9,666.4h2.8M135.9,669.7h2.8M139.9,666.4V669.5M138.5,666.4h2.8M138.5,669.5h2.8M142.5,666.1V669.1M141.1,666.1h2.8M141.1,669.1h2.8M145.1,668.0V670.5M143.7,668.0h2.8M143.7,670.5h2.8M147.7,666.9V670.0M146.3,666.9h2.8M146.3,670.0h2.8M150.3,666.4V668.5M148.9,666.4h2.8M148.9,668.5h2.8M152.9,666.1V669.5M151.5,666.1h2.8M151.5,669.5h2.8M155.5,666.3V669.8M154.1,666.3h2.8M154.1,669.8h2.8M158.1,666.0V668.9M156.7,666.0h2.8M156.7,668.9h2.8M160.7,666.3V669.9M159.3,666.3h2.8M159.3,669.9h2.8" stroke="#2d55f0" stroke-width="0.65" fill="none"/>
<path d="M100.0,668.9h1.8M102.6,667.7h1.8M105.2,668.7h1.8M107.8,668.2h1.8M110.4,668.4h1.8M113.0,667.6h1.8M115.6,667.1h1.8M118.2,667.9h1.8M120.8,667.7h1.8M123.4,668.1h1.8M126.0,667.3h1.8M128.6,668.7h1.8M131.2,668.4h1.8M133.8,668.6h1.8M136.4,668.1h1.8M139.0,668.0h1.8M141.6,667.6h1.8M144.2,669.3h1.8M146.8,668.5h1.8M149.4,667.5h1.8M152.0,667.8h1.8M154.6,668.1h1.8M157.2,667.5h1.8M159.8,668.1h1.8" stroke="#2d55f0" stroke-width="1.8" fill="none"/>
<path d="M171.0,642.8V656.8M169.6,642.8h2.8M169.6,656.8h2.8M173.6,643.6V653.8M172.2,643.6h2.8M172.2,653.8h2.8M176.2,641.6V651.6M174.8,641.6h2.8M174.8,651.6h2.8M178.8,643.8V653.5M177.4,643.8h2.8M177.4,653.5h2.8M181.4,641.1V655.7M180.0,641.1h2.8M180.0,655.7h2.8M184.0,640.8V655.5M182.6,640.8h2.8M182.6,655.5h2.8M186.6,638.4V653.0M185.2,638.4h2.8M185.2,653.0h2.8M189.2,639.9V654.6M187.8,639.9h2.8M187.8,654.6h2.8M191.8,643.2V655.8M190.4,643.2h2.8M190.4,655.8h2.8M194.4,643.9V654.9M193.0,643.9h2.8M193.0,654.9h2.8M197.0,643.0V652.2M195.6,643.0h2.8M195.6,652.2h2.8M199.5,639.9V655.3M198.1,639.9h2.8M198.1,655.3h2.8M202.1,643.0V653.3M200.7,643.0h2.8M200.7,653.3h2.8M204.7,638.4V651.1M203.3,638.4h2.8M203.3,651.1h2.8M207.3,642.0V654.4M205.9,642.0h2.8M205.9,654.4h2.8M209.9,640.1V650.3M208.5,640.1h2.8M208.5,650.3h2.8M212.5,641.0V654.9M211.1,641.0h2.8M211.1,654.9h2.8M215.1,638.7V650.7M213.7,638.7h2.8M213.7,650.7h2.8M217.7,637.0V650.4M216.3,637.0h2.8M216.3,650.4h2.8M220.3,642.2V651.7M218.9,642.2h2.8M218.9,651.7h2.8M222.9,640.9V652.5M221.5,640.9h2.8M221.5,652.5h2.8M225.5,640.1V656.7M224.1,640.1h2.8M224.1,656.7h2.8M228.1,640.4V652.7M226.7,640.4h2.8M226.7,652.7h2.8M230.7,640.1V652.1M229.3,640.1h2.8M229.3,652.1h2.8M233.2,640.1V655.4M231.8,640.1h2.8M231.8,655.4h2.8M235.8,642.4V651.4M234.4,642.4h2.8M234.4,651.4h2.8M238.4,638.9V654.3M237.0,638.9h2.8M237.0,654.3h2.8M241.0,639.0V648.4M239.6,639.0h2.8M239.6,648.4h2.8M243.6,636.6V650.0M242.2,636.6h2.8M242.2,650.0h2.8M246.2,639.3V654.9M244.8,639.3h2.8M244.8,654.9h2.8M248.8,639.6V651.3M247.4,639.6h2.8M247.4,651.3h2.8M251.4,640.4V653.7M250.0,640.4h2.8M250.0,653.7h2.8M254.0,634.9V651.1M252.6,634.9h2.8M252.6,651.1h2.8M256.6,634.4V648.1M255.2,634.4h2.8M255.2,648.1h2.8M259.2,639.0V650.0M257.8,639.0h2.8M257.8,650.0h2.8M261.8,635.5V650.6M260.4,635.5h2.8M260.4,650.6h2.8M264.4,633.3V648.3M263.0,633.3h2.8M263.0,648.3h2.8M266.9,634.8V648.3M265.6,634.8h2.8M265.6,648.3h2.8M269.5,635.0V647.7M268.1,635.0h2.8M268.1,647.7h2.8M272.1,638.6V649.1M270.7,638.6h2.8M270.7,649.1h2.8M274.7,635.5V647.4M273.3,635.5h2.8M273.3,647.4h2.8M277.3,634.1V646.2M275.9,634.1h2.8M275.9,646.2h2.8M279.9,633.5V650.2M278.5,633.5h2.8M278.5,650.2h2.8M282.5,636.6V646.5M281.1,636.6h2.8M281.1,646.5h2.8M285.1,634.7V648.4M283.7,634.7h2.8M283.7,648.4h2.8M287.7,635.9V649.0M286.3,635.9h2.8M286.3,649.0h2.8M290.3,629.0V644.7M288.9,629.0h2.8M288.9,644.7h2.8M292.9,633.6V647.0M291.5,633.6h2.8M291.5,647.0h2.8M295.5,632.6V649.0M294.1,632.6h2.8M294.1,649.0h2.8M298.1,634.8V650.2M296.7,634.8h2.8M296.7,650.2h2.8M300.7,635.5V646.0M299.3,635.5h2.8M299.3,646.0h2.8M303.2,635.3V645.0M301.8,635.3h2.8M301.8,645.0h2.8M305.8,637.0V649.6M304.4,637.0h2.8M304.4,649.6h2.8M308.4,633.3V649.3M307.0,633.3h2.8M307.0,649.3h2.8M311.0,636.3V646.3M309.6,636.3h2.8M309.6,646.3h2.8M313.6,635.3V646.3M312.2,635.3h2.8M312.2,646.3h2.8M316.2,635.0V649.2M314.8,635.0h2.8M314.8,649.2h2.8M318.8,636.3V648.7M317.4,636.3h2.8M317.4,648.7h2.8" stroke="#f04a30" stroke-width="0.65" fill="none"/>
<path d="M170.1,649.8h1.8M172.7,648.7h1.8M175.3,646.6h1.8M177.9,648.7h1.8M180.5,648.4h1.8M183.1,648.2h1.8M185.7,645.7h1.8M188.3,647.2h1.8M190.9,649.5h1.8M193.5,649.4h1.8M196.1,647.6h1.8M198.6,647.6h1.8M201.2,648.1h1.8M203.8,644.7h1.8M206.4,648.2h1.8M209.0,645.2h1.8M211.6,648.0h1.8M214.2,644.7h1.8M216.8,643.7h1.8M219.4,646.9h1.8M222.0,646.7h1.8M224.6,648.4h1.8M227.2,646.6h1.8M229.8,646.1h1.8M232.3,647.8h1.8M234.9,646.9h1.8M237.5,646.6h1.8M240.1,643.7h1.8M242.7,643.3h1.8M245.3,647.1h1.8M247.9,645.5h1.8M250.5,647.1h1.8M253.1,643.0h1.8M255.7,641.2h1.8M258.3,644.5h1.8M260.9,643.1h1.8M263.5,640.8h1.8M266.1,641.5h1.8M268.6,641.4h1.8M271.2,643.8h1.8M273.8,641.4h1.8M276.4,640.1h1.8M279.0,641.8h1.8M281.6,641.6h1.8M284.2,641.6h1.8M286.8,642.5h1.8M289.4,636.9h1.8M292.0,640.3h1.8M294.6,640.8h1.8M297.2,642.5h1.8M299.8,640.8h1.8M302.3,640.1h1.8M304.9,643.3h1.8M307.5,641.3h1.8M310.1,641.3h1.8M312.7,640.8h1.8M315.3,642.1h1.8M317.9,642.5h1.8" stroke="#f04a30" stroke-width="1.8" fill="none"/>
<path d="M171.0,633.5V641.3M169.6,633.5h2.8M169.6,641.3h2.8M173.6,638.4V646.5M172.2,638.4h2.8M172.2,646.5h2.8M176.2,631.7V646.1M174.8,631.7h2.8M174.8,646.1h2.8M178.8,636.0V649.9M177.4,636.0h2.8M177.4,649.9h2.8M181.4,640.5V646.5M180.0,640.5h2.8M180.0,646.5h2.8M184.0,637.4V650.9M182.6,637.4h2.8M182.6,650.9h2.8M186.6,635.4V647.2M185.2,635.4h2.8M185.2,647.2h2.8M189.2,638.4V644.9M187.8,638.4h2.8M187.8,644.9h2.8M191.8,635.2V645.8M190.4,635.2h2.8M190.4,645.8h2.8M194.4,635.6V643.6M193.0,635.6h2.8M193.0,643.6h2.8M197.0,633.7V646.8M195.6,633.7h2.8M195.6,646.8h2.8M199.5,637.3V643.1M198.1,637.3h2.8M198.1,643.1h2.8M202.1,631.9V646.6M200.7,631.9h2.8M200.7,646.6h2.8M204.7,633.0V639.9M203.3,633.0h2.8M203.3,639.9h2.8M207.3,629.7V644.1M205.9,629.7h2.8M205.9,644.1h2.8M209.9,632.4V642.7M208.5,632.4h2.8M208.5,642.7h2.8M212.5,632.4V644.6M211.1,632.4h2.8M211.1,644.6h2.8M215.1,636.6V644.4M213.7,636.6h2.8M213.7,644.4h2.8M217.7,635.9V642.8M216.3,635.9h2.8M216.3,642.8h2.8M220.3,636.4V644.6M218.9,636.4h2.8M218.9,644.6h2.8M222.9,630.8V645.2M221.5,630.8h2.8M221.5,645.2h2.8M225.5,633.9V641.1M224.1,633.9h2.8M224.1,641.1h2.8M228.1,636.3V642.9M226.7,636.3h2.8M226.7,642.9h2.8M230.7,632.4V638.4M229.3,632.4h2.8M229.3,638.4h2.8M233.2,633.2V643.8M231.8,633.2h2.8M231.8,643.8h2.8M235.8,634.6V642.8M234.4,634.6h2.8M234.4,642.8h2.8M238.4,632.5V648.6M237.0,632.5h2.8M237.0,648.6h2.8M241.0,631.1V637.5M239.6,631.1h2.8M239.6,637.5h2.8M243.6,630.4V643.6M242.2,630.4h2.8M242.2,643.6h2.8M246.2,629.6V645.5M244.8,629.6h2.8M244.8,645.5h2.8M248.8,633.2V640.1M247.4,633.2h2.8M247.4,640.1h2.8M251.4,631.0V645.3M250.0,631.0h2.8M250.0,645.3h2.8M254.0,628.6V643.8M252.6,628.6h2.8M252.6,643.8h2.8M256.6,629.5V641.0M255.2,629.5h2.8M255.2,641.0h2.8M259.2,628.9V642.0M257.8,628.9h2.8M257.8,642.0h2.8M261.8,631.0V637.3M260.4,631.0h2.8M260.4,637.3h2.8M264.4,633.3V641.6M263.0,633.3h2.8M263.0,641.6h2.8M266.9,631.1V643.1M265.6,631.1h2.8M265.6,643.1h2.8M269.5,631.4V639.0M268.1,631.4h2.8M268.1,639.0h2.8M272.1,630.8V644.1M270.7,630.8h2.8M270.7,644.1h2.8M274.7,628.6V642.7M273.3,628.6h2.8M273.3,642.7h2.8M277.3,628.7V643.1M275.9,628.7h2.8M275.9,643.1h2.8M279.9,627.9V643.1M278.5,627.9h2.8M278.5,643.1h2.8M282.5,627.7V642.5M281.1,627.7h2.8M281.1,642.5h2.8M285.1,629.3V638.6M283.7,629.3h2.8M283.7,638.6h2.8M287.7,627.7V637.1M286.3,627.7h2.8M286.3,637.1h2.8M290.3,627.9V638.1M288.9,627.9h2.8M288.9,638.1h2.8M292.9,631.1V637.8M291.5,631.1h2.8M291.5,637.8h2.8M295.5,628.8V637.6M294.1,628.8h2.8M294.1,637.6h2.8M298.1,632.0V641.5M296.7,632.0h2.8M296.7,641.5h2.8M300.7,623.6V639.2M299.3,623.6h2.8M299.3,639.2h2.8M303.2,627.4V638.3M301.8,627.4h2.8M301.8,638.3h2.8M305.8,626.1V641.9M304.4,626.1h2.8M304.4,641.9h2.8M308.4,630.0V637.3M307.0,630.0h2.8M307.0,637.3h2.8M311.0,630.6V636.3M309.6,630.6h2.8M309.6,636.3h2.8M313.6,624.2V637.2M312.2,624.2h2.8M312.2,637.2h2.8M316.2,625.4V637.1M314.8,625.4h2.8M314.8,637.1h2.8M318.8,626.3V639.3M317.4,626.3h2.8M317.4,639.3h2.8" stroke="#2d55f0" stroke-width="0.65" fill="none"/>
<path d="M170.1,637.4h1.8M172.7,642.4h1.8M175.3,638.9h1.8M177.9,643.0h1.8M180.5,643.5h1.8M183.1,644.2h1.8M185.7,641.3h1.8M188.3,641.7h1.8M190.9,640.5h1.8M193.5,639.6h1.8M196.1,640.2h1.8M198.6,640.2h1.8M201.2,639.2h1.8M203.8,636.5h1.8M206.4,636.9h1.8M209.0,637.5h1.8M211.6,638.5h1.8M214.2,640.5h1.8M216.8,639.3h1.8M219.4,640.5h1.8M222.0,638.0h1.8M224.6,637.5h1.8M227.2,639.6h1.8M229.8,635.4h1.8M232.3,638.5h1.8M234.9,638.7h1.8M237.5,640.6h1.8M240.1,634.3h1.8M242.7,637.0h1.8M245.3,637.5h1.8M247.9,636.7h1.8M250.5,638.2h1.8M253.1,636.2h1.8M255.7,635.3h1.8M258.3,635.5h1.8M260.9,634.2h1.8M263.5,637.5h1.8M266.1,637.1h1.8M268.6,635.2h1.8M271.2,637.5h1.8M273.8,635.7h1.8M276.4,635.9h1.8M279.0,635.5h1.8M281.6,635.1h1.8M284.2,633.9h1.8M286.8,632.4h1.8M289.4,633.0h1.8M292.0,634.5h1.8M294.6,633.2h1.8M297.2,636.8h1.8M299.8,631.4h1.8M302.3,632.8h1.8M304.9,634.0h1.8M307.5,633.7h1.8M310.1,633.5h1.8M312.7,630.7h1.8M315.3,631.3h1.8M317.9,632.8h1.8" stroke="#2d55f0" stroke-width="1.8" fill="none"/>
<text x="177.00" y="682.26" font-size="8.0" text-anchor="middle">TBS</text>
<line x1="169.20" y1="689.40" x2="169.20" y2="711.50" stroke="#000" stroke-width="1.2"/>
<path d="M164.8,711.0L173.6,711.0L169.2,719.0Z" fill="#000"/>
<path transform="translate(179.6,712.0) scale(1.35)" d="M1.5,-5 L-2.2,0.6 L0,0.6 L-1.6,5 L2.4,-1 L0.2,-1 L1.8,-5Z" fill="#f9e25a"/>
<path transform="translate(186.2,703.4) scale(1.0)" d="M1.5,-5 L-2.2,0.6 L0,0.6 L-1.6,5 L2.4,-1 L0.2,-1 L1.8,-5Z" fill="#f9e25a"/>
<text x="367.60" y="573.04" font-size="9.6" font-weight="bold">M</text>
<text x="388.70" y="587.48" font-size="8.87" textLength="50.3" lengthAdjust="spacingAndGlyphs">200nM MF-8</text>
<path d="M352.9,594.0H475.0 M352.9,588.5V599.4 M475.0,588.5V599.4" stroke="#000" stroke-width="1.9" fill="none"/>
<line x1="416.70" y1="607.80" x2="416.70" y2="729.80" stroke="#000" stroke-width="1.7"/>
<line x1="408.80" y1="607.80" x2="416.70" y2="607.80" stroke="#000" stroke-width="1.7"/>
<line x1="408.80" y1="666.00" x2="416.70" y2="666.00" stroke="#000" stroke-width="1.7"/>
<line x1="412.60" y1="636.90" x2="416.70" y2="636.90" stroke="#000" stroke-width="1.7"/>
<line x1="412.60" y1="695.10" x2="416.70" y2="695.10" stroke="#000" stroke-width="1.7"/>
<line x1="352.60" y1="724.80" x2="416.70" y2="724.80" stroke="#000" stroke-width="1.7"/>
<line x1="352.60" y1="724.80" x2="352.60" y2="732.30" stroke="#000" stroke-width="1.7"/>
<path d="M423.2,724.8H474.1 M423.2,718.9V729.8 M474.1,718.9V729.8 M440.4,724.8V728.4 M457.3,724.8V728.4" stroke="#000" stroke-width="1.7" fill="none"/>
<path d="M482.1,724.6H644.0 M482.1,718.9V729.8 M534.5,724.6V732.0 M589.1,724.6V732.0 M644.0,724.6V732.0" stroke="#000" stroke-width="1.7" fill="none"/>
<text x="353.10" y="743.99" font-size="8.9" text-anchor="middle">-90</text>
<text x="423.10" y="743.99" font-size="8.9" text-anchor="middle">-30</text>
<text x="474.10" y="743.99" font-size="8.9" text-anchor="middle">0</text>
<text x="534.50" y="743.99" font-size="8.9" text-anchor="middle">20</text>
<text x="589.10" y="743.99" font-size="8.9" text-anchor="middle">40</text>
<text x="644.00" y="743.99" font-size="8.9" text-anchor="middle">60</text>
<text x="481.30" y="745.78" font-size="8.6" textLength="35.7" lengthAdjust="spacingAndGlyphs">Time/Min</text>
<text transform="translate(405.24,607.70) rotate(-90)" font-size="8.5" text-anchor="middle">150</text>
<text transform="translate(405.24,665.90) rotate(-90)" font-size="8.5" text-anchor="middle">100</text>
<text transform="translate(389.79,668.80) rotate(-90)" font-size="8.9" text-anchor="middle">fEPSP Amplitude %</text>
<circle cx="503.5" cy="594.2" r="0.9" fill="#3cc83c"/><circle cx="503.5" cy="607.0" r="0.9" fill="#f04030"/><circle cx="503.5" cy="623.4" r="0.9" fill="#2d55f0"/>
<text x="526.10" y="596.40" font-size="8.95" textLength="84.2" lengthAdjust="spacingAndGlyphs">shRNA(NC) N=3,n=8</text>
<text x="526.10" y="610.18" font-size="8.88" textLength="115.5" lengthAdjust="spacingAndGlyphs">shRNA(&#946;-arrestin1) N=3, n=5</text>
<text x="526.10" y="626.58" font-size="8.88" textLength="113.1" lengthAdjust="spacingAndGlyphs">shRNA(&#946;-arrestin2) N=3,n=9</text>
<path d="M424.8,662.2V667.3M423.4,662.2h2.8M423.4,667.3h2.8M426.5,663.8V670.8M425.1,663.8h2.8M425.1,670.8h2.8M428.2,662.7V669.3M426.8,662.7h2.8M426.8,669.3h2.8M429.9,661.6V669.0M428.5,661.6h2.8M428.5,669.0h2.8M431.6,660.9V668.9M430.2,660.9h2.8M430.2,668.9h2.8M433.3,660.4V668.7M431.9,660.4h2.8M431.9,668.7h2.8M435.0,662.4V670.9M433.6,662.4h2.8M433.6,670.9h2.8M436.7,661.6V668.2M435.3,661.6h2.8M435.3,668.2h2.8M438.4,662.5V668.4M437.0,662.5h2.8M437.0,668.4h2.8M440.1,663.3V670.0M438.7,663.3h2.8M438.7,670.0h2.8M441.8,660.5V668.8M440.4,660.5h2.8M440.4,668.8h2.8M443.5,665.4V670.5M442.1,665.4h2.8M442.1,670.5h2.8M445.2,659.9V665.8M443.8,659.9h2.8M443.8,665.8h2.8M446.9,662.3V669.9M445.5,662.3h2.8M445.5,669.9h2.8M448.6,662.4V669.1M447.2,662.4h2.8M447.2,669.1h2.8M450.3,662.9V667.9M448.9,662.9h2.8M448.9,667.9h2.8M452.0,658.9V667.7M450.6,658.9h2.8M450.6,667.7h2.8M453.7,661.4V669.7M452.3,661.4h2.8M452.3,669.7h2.8M455.4,661.1V668.7M454.0,661.1h2.8M454.0,668.7h2.8M457.1,661.5V669.2M455.7,661.5h2.8M455.7,669.2h2.8M458.8,663.9V671.4M457.4,663.9h2.8M457.4,671.4h2.8M460.5,662.2V669.3M459.1,662.2h2.8M459.1,669.3h2.8M462.2,661.0V667.1M460.8,661.0h2.8M460.8,667.1h2.8M463.9,662.5V667.9M462.5,662.5h2.8M462.5,667.9h2.8M465.6,660.5V666.5M464.2,660.5h2.8M464.2,666.5h2.8M467.3,661.7V668.8M465.9,661.7h2.8M465.9,668.8h2.8M469.0,661.3V667.4M467.6,661.3h2.8M467.6,667.4h2.8M470.7,661.3V667.4M469.3,661.3h2.8M469.3,667.4h2.8M472.4,659.2V667.7M471.0,659.2h2.8M471.0,667.7h2.8" stroke="#3cc83c" stroke-width="0.65" fill="none"/>
<path d="M423.9,664.7h1.8M425.6,667.3h1.8M427.3,666.0h1.8M429.0,665.3h1.8M430.7,664.9h1.8M432.4,664.6h1.8M434.1,666.7h1.8M435.8,664.9h1.8M437.5,665.4h1.8M439.2,666.6h1.8M440.9,664.7h1.8M442.6,667.9h1.8M444.3,662.8h1.8M446.0,666.1h1.8M447.7,665.8h1.8M449.4,665.4h1.8M451.1,663.3h1.8M452.8,665.6h1.8M454.5,664.9h1.8M456.2,665.3h1.8M457.9,667.6h1.8M459.6,665.7h1.8M461.3,664.1h1.8M463.0,665.2h1.8M464.7,663.5h1.8M466.4,665.2h1.8M468.1,664.3h1.8M469.8,664.3h1.8M471.5,663.5h1.8" stroke="#3cc83c" stroke-width="1.8" fill="none"/>
<path d="M424.8,663.4V667.3M423.4,663.4h2.8M423.4,667.3h2.8M426.5,663.7V667.4M425.1,663.7h2.8M425.1,667.4h2.8M428.2,662.6V666.6M426.8,662.6h2.8M426.8,666.6h2.8M429.9,664.7V667.8M428.5,664.7h2.8M428.5,667.8h2.8M431.6,663.6V667.1M430.2,663.6h2.8M430.2,667.1h2.8M433.3,662.9V667.4M431.9,662.9h2.8M431.9,667.4h2.8M435.0,664.0V667.9M433.6,664.0h2.8M433.6,667.9h2.8M436.7,665.0V668.2M435.3,665.0h2.8M435.3,668.2h2.8M438.4,661.8V664.8M437.0,661.8h2.8M437.0,664.8h2.8M440.1,663.9V666.7M438.7,663.9h2.8M438.7,666.7h2.8M441.8,664.9V668.5M440.4,664.9h2.8M440.4,668.5h2.8M443.5,663.1V667.9M442.1,663.1h2.8M442.1,667.9h2.8M445.2,664.1V667.1M443.8,664.1h2.8M443.8,667.1h2.8M446.9,664.8V668.8M445.5,664.8h2.8M445.5,668.8h2.8M448.6,662.7V667.1M447.2,662.7h2.8M447.2,667.1h2.8M450.3,664.0V668.3M448.9,664.0h2.8M448.9,668.3h2.8M452.0,665.4V669.7M450.6,665.4h2.8M450.6,669.7h2.8M453.7,663.3V667.9M452.3,663.3h2.8M452.3,667.9h2.8M455.4,664.1V668.4M454.0,664.1h2.8M454.0,668.4h2.8M457.1,666.4V670.3M455.7,666.4h2.8M455.7,670.3h2.8M458.8,663.8V668.1M457.4,663.8h2.8M457.4,668.1h2.8M460.5,664.9V668.5M459.1,664.9h2.8M459.1,668.5h2.8M462.2,664.5V668.7M460.8,664.5h2.8M460.8,668.7h2.8M463.9,665.2V668.7M462.5,665.2h2.8M462.5,668.7h2.8M465.6,663.1V667.4M464.2,663.1h2.8M464.2,667.4h2.8M467.3,665.5V668.5M465.9,665.5h2.8M465.9,668.5h2.8M469.0,664.5V667.5M467.6,664.5h2.8M467.6,667.5h2.8M470.7,664.0V668.7M469.3,664.0h2.8M469.3,668.7h2.8M472.4,663.9V668.4M471.0,663.9h2.8M471.0,668.4h2.8" stroke="#f04030" stroke-width="0.65" fill="none"/>
<path d="M423.9,665.4h1.8M425.6,665.6h1.8M427.3,664.6h1.8M429.0,666.3h1.8M430.7,665.4h1.8M432.4,665.1h1.8M434.1,665.9h1.8M435.8,666.6h1.8M437.5,663.3h1.8M439.2,665.3h1.8M440.9,666.7h1.8M442.6,665.5h1.8M444.3,665.6h1.8M446.0,666.8h1.8M447.7,664.9h1.8M449.4,666.1h1.8M451.1,667.5h1.8M452.8,665.6h1.8M454.5,666.2h1.8M456.2,668.4h1.8M457.9,666.0h1.8M459.6,666.7h1.8M461.3,666.6h1.8M463.0,666.9h1.8M464.7,665.2h1.8M466.4,667.0h1.8M468.1,666.0h1.8M469.8,666.3h1.8M471.5,666.2h1.8" stroke="#f04030" stroke-width="1.8" fill="none"/>
<path d="M424.8,663.8V666.9M423.4,663.8h2.8M423.4,666.9h2.8M426.5,664.7V667.0M425.1,664.7h2.8M425.1,667.0h2.8M428.2,664.5V668.6M426.8,664.5h2.8M426.8,668.6h2.8M429.9,664.4V667.8M428.5,664.4h2.8M428.5,667.8h2.8M431.6,664.8V668.4M430.2,664.8h2.8M430.2,668.4h2.8M433.3,664.4V667.3M431.9,664.4h2.8M431.9,667.3h2.8M435.0,665.0V668.6M433.6,665.0h2.8M433.6,668.6h2.8M436.7,663.2V665.6M435.3,663.2h2.8M435.3,665.6h2.8M438.4,664.8V668.2M437.0,664.8h2.8M437.0,668.2h2.8M440.1,663.2V667.3M438.7,663.2h2.8M438.7,667.3h2.8M441.8,664.6V668.8M440.4,664.6h2.8M440.4,668.8h2.8M443.5,663.7V667.1M442.1,663.7h2.8M442.1,667.1h2.8M445.2,663.4V667.6M443.8,663.4h2.8M443.8,667.6h2.8M446.9,663.6V666.9M445.5,663.6h2.8M445.5,666.9h2.8M448.6,663.0V666.9M447.2,663.0h2.8M447.2,666.9h2.8M450.3,664.4V668.4M448.9,664.4h2.8M448.9,668.4h2.8M452.0,663.8V667.1M450.6,663.8h2.8M450.6,667.1h2.8M453.7,664.0V666.6M452.3,664.0h2.8M452.3,666.6h2.8M455.4,664.9V667.9M454.0,664.9h2.8M454.0,667.9h2.8M457.1,664.7V668.2M455.7,664.7h2.8M455.7,668.2h2.8M458.8,665.4V668.3M457.4,665.4h2.8M457.4,668.3h2.8M460.5,664.0V666.3M459.1,664.0h2.8M459.1,666.3h2.8M462.2,663.5V667.1M460.8,663.5h2.8M460.8,667.1h2.8M463.9,664.9V668.2M462.5,664.9h2.8M462.5,668.2h2.8M465.6,664.2V667.5M464.2,664.2h2.8M464.2,667.5h2.8M467.3,663.1V666.5M465.9,663.1h2.8M465.9,666.5h2.8M469.0,663.6V667.4M467.6,663.6h2.8M467.6,667.4h2.8M470.7,664.2V666.7M469.3,664.2h2.8M469.3,666.7h2.8M472.4,665.3V668.8M471.0,665.3h2.8M471.0,668.8h2.8" stroke="#2d55f0" stroke-width="0.65" fill="none"/>
<path d="M423.9,665.3h1.8M425.6,665.9h1.8M427.3,666.5h1.8M429.0,666.1h1.8M430.7,666.6h1.8M432.4,665.9h1.8M434.1,666.8h1.8M435.8,664.4h1.8M437.5,666.5h1.8M439.2,665.2h1.8M440.9,666.7h1.8M442.6,665.4h1.8M444.3,665.5h1.8M446.0,665.2h1.8M447.7,664.9h1.8M449.4,666.4h1.8M451.1,665.4h1.8M452.8,665.3h1.8M454.5,666.4h1.8M456.2,666.5h1.8M457.9,666.8h1.8M459.6,665.1h1.8M461.3,665.3h1.8M463.0,666.5h1.8M464.7,665.9h1.8M466.4,664.8h1.8M468.1,665.5h1.8M469.8,665.5h1.8M471.5,667.1h1.8" stroke="#2d55f0" stroke-width="1.8" fill="none"/>
<path d="M485.3,674.8V681.3M483.9,674.8h2.8M483.9,681.3h2.8M488.0,672.0V682.0M486.6,672.0h2.8M486.6,682.0h2.8M490.8,674.5V681.6M489.4,674.5h2.8M489.4,681.6h2.8M493.5,669.0V678.3M492.1,669.0h2.8M492.1,678.3h2.8M496.2,669.6V678.2M494.8,669.6h2.8M494.8,678.2h2.8M499.0,667.7V677.0M497.6,667.7h2.8M497.6,677.0h2.8M501.7,669.6V678.1M500.3,669.6h2.8M500.3,678.1h2.8M504.4,668.9V680.0M503.0,668.9h2.8M503.0,680.0h2.8M507.2,669.6V677.5M505.8,669.6h2.8M505.8,677.5h2.8M509.9,668.3V677.7M508.5,668.3h2.8M508.5,677.7h2.8M512.6,669.8V678.7M511.2,669.8h2.8M511.2,678.7h2.8M515.4,667.5V677.5M514.0,667.5h2.8M514.0,677.5h2.8M518.1,666.7V674.6M516.7,666.7h2.8M516.7,674.6h2.8M520.9,670.6V678.1M519.5,670.6h2.8M519.5,678.1h2.8M523.6,666.9V675.0M522.2,666.9h2.8M522.2,675.0h2.8M526.3,665.0V674.1M524.9,665.0h2.8M524.9,674.1h2.8M529.1,666.0V675.1M527.7,666.0h2.8M527.7,675.1h2.8M531.8,666.9V673.7M530.4,666.9h2.8M530.4,673.7h2.8M534.5,665.1V673.1M533.1,665.1h2.8M533.1,673.1h2.8M537.3,664.8V672.2M535.9,664.8h2.8M535.9,672.2h2.8M540.0,662.5V672.2M538.6,662.5h2.8M538.6,672.2h2.8M542.8,663.4V670.1M541.4,663.4h2.8M541.4,670.1h2.8M545.5,660.3V670.9M544.1,660.3h2.8M544.1,670.9h2.8M548.2,664.6V675.1M546.8,664.6h2.8M546.8,675.1h2.8M551.0,661.6V669.7M549.6,661.6h2.8M549.6,669.7h2.8M553.7,665.3V672.6M552.3,665.3h2.8M552.3,672.6h2.8M556.5,658.6V667.5M555.1,658.6h2.8M555.1,667.5h2.8M559.2,661.1V671.0M557.8,661.1h2.8M557.8,671.0h2.8M561.9,659.1V670.1M560.5,659.1h2.8M560.5,670.1h2.8M564.7,661.0V670.5M563.3,661.0h2.8M563.3,670.5h2.8M567.4,658.9V669.7M566.0,658.9h2.8M566.0,669.7h2.8M570.1,663.4V671.0M568.7,663.4h2.8M568.7,671.0h2.8M572.9,661.5V669.7M571.5,661.5h2.8M571.5,669.7h2.8M575.6,662.7V670.9M574.2,662.7h2.8M574.2,670.9h2.8M578.4,662.7V669.9M577.0,662.7h2.8M577.0,669.9h2.8M581.1,663.5V670.3M579.7,663.5h2.8M579.7,670.3h2.8M583.8,660.0V668.1M582.4,660.0h2.8M582.4,668.1h2.8M586.6,662.5V670.3M585.2,662.5h2.8M585.2,670.3h2.8M589.3,662.4V669.3M587.9,662.4h2.8M587.9,669.3h2.8M592.0,661.3V672.4M590.6,661.3h2.8M590.6,672.4h2.8M594.8,659.8V670.6M593.4,659.8h2.8M593.4,670.6h2.8M597.5,662.9V669.2M596.1,662.9h2.8M596.1,669.2h2.8M600.2,661.3V671.0M598.9,661.3h2.8M598.9,671.0h2.8M603.0,664.1V674.0M601.6,664.1h2.8M601.6,674.0h2.8M605.7,660.8V671.5M604.3,660.8h2.8M604.3,671.5h2.8M608.5,664.7V671.5M607.1,664.7h2.8M607.1,671.5h2.8M611.2,663.3V673.4M609.8,663.3h2.8M609.8,673.4h2.8M613.9,663.8V670.9M612.5,663.8h2.8M612.5,670.9h2.8M616.7,663.9V671.7M615.3,663.9h2.8M615.3,671.7h2.8M619.4,662.0V671.6M618.0,662.0h2.8M618.0,671.6h2.8M622.1,662.6V673.3M620.8,662.6h2.8M620.8,673.3h2.8M624.9,664.4V672.9M623.5,664.4h2.8M623.5,672.9h2.8M627.6,665.7V673.7M626.2,665.7h2.8M626.2,673.7h2.8M630.4,663.5V671.2M629.0,663.5h2.8M629.0,671.2h2.8M633.1,665.8V676.5M631.7,665.8h2.8M631.7,676.5h2.8M635.8,664.6V671.3M634.4,664.6h2.8M634.4,671.3h2.8M638.6,665.2V672.5M637.2,665.2h2.8M637.2,672.5h2.8M641.3,664.4V674.3M639.9,664.4h2.8M639.9,674.3h2.8M644.0,665.1V675.2M642.6,665.1h2.8M642.6,675.2h2.8" stroke="#3cc83c" stroke-width="0.65" fill="none"/>
<path d="M484.4,678.0h1.8M487.1,677.0h1.8M489.9,678.1h1.8M492.6,673.6h1.8M495.3,673.9h1.8M498.1,672.4h1.8M500.8,673.8h1.8M503.5,674.4h1.8M506.3,673.5h1.8M509.0,673.0h1.8M511.8,674.2h1.8M514.5,672.5h1.8M517.2,670.7h1.8M520.0,674.4h1.8M522.7,671.0h1.8M525.4,669.5h1.8M528.2,670.5h1.8M530.9,670.3h1.8M533.6,669.1h1.8M536.4,668.5h1.8M539.1,667.3h1.8M541.9,666.7h1.8M544.6,665.6h1.8M547.3,669.8h1.8M550.1,665.7h1.8M552.8,668.9h1.8M555.6,663.1h1.8M558.3,666.1h1.8M561.0,664.6h1.8M563.8,665.8h1.8M566.5,664.3h1.8M569.2,667.2h1.8M572.0,665.6h1.8M574.7,666.8h1.8M577.5,666.3h1.8M580.2,666.9h1.8M582.9,664.1h1.8M585.7,666.4h1.8M588.4,665.9h1.8M591.1,666.9h1.8M593.9,665.2h1.8M596.6,666.0h1.8M599.4,666.1h1.8M602.1,669.1h1.8M604.8,666.2h1.8M607.6,668.1h1.8M610.3,668.3h1.8M613.0,667.4h1.8M615.8,667.8h1.8M618.5,666.8h1.8M621.2,667.9h1.8M624.0,668.6h1.8M626.7,669.7h1.8M629.5,667.4h1.8M632.2,671.1h1.8M634.9,667.9h1.8M637.7,668.8h1.8M640.4,669.3h1.8M643.1,670.1h1.8" stroke="#3cc83c" stroke-width="1.8" fill="none"/>
<path d="M485.3,646.9V658.7M483.9,646.9h2.8M483.9,658.7h2.8M488.0,646.1V657.9M486.6,646.1h2.8M486.6,657.9h2.8M490.8,647.4V657.4M489.4,647.4h2.8M489.4,657.4h2.8M493.5,650.8V657.6M492.1,650.8h2.8M492.1,657.6h2.8M496.2,647.2V658.9M494.8,647.2h2.8M494.8,658.9h2.8M499.0,645.6V656.3M497.6,645.6h2.8M497.6,656.3h2.8M501.7,648.0V655.9M500.3,648.0h2.8M500.3,655.9h2.8M504.4,647.1V659.1M503.0,647.1h2.8M503.0,659.1h2.8M507.2,648.3V655.1M505.8,648.3h2.8M505.8,655.1h2.8M509.9,646.5V655.3M508.5,646.5h2.8M508.5,655.3h2.8M512.6,645.4V655.9M511.2,645.4h2.8M511.2,655.9h2.8M515.4,645.7V653.5M514.0,645.7h2.8M514.0,653.5h2.8M518.1,645.3V657.1M516.7,645.3h2.8M516.7,657.1h2.8M520.9,645.7V653.9M519.5,645.7h2.8M519.5,653.9h2.8M523.6,644.3V652.7M522.2,644.3h2.8M522.2,652.7h2.8M526.3,643.3V652.9M524.9,643.3h2.8M524.9,652.9h2.8M529.1,643.2V653.1M527.7,643.2h2.8M527.7,653.1h2.8M531.8,641.9V652.7M530.4,641.9h2.8M530.4,652.7h2.8M534.5,643.6V652.1M533.1,643.6h2.8M533.1,652.1h2.8M537.3,644.2V651.1M535.9,644.2h2.8M535.9,651.1h2.8M540.0,643.0V652.0M538.6,643.0h2.8M538.6,652.0h2.8M542.8,642.0V650.3M541.4,642.0h2.8M541.4,650.3h2.8M545.5,644.6V651.5M544.1,644.6h2.8M544.1,651.5h2.8M548.2,640.8V652.9M546.8,640.8h2.8M546.8,652.9h2.8M551.0,639.5V651.5M549.6,639.5h2.8M549.6,651.5h2.8M553.7,642.4V649.5M552.3,642.4h2.8M552.3,649.5h2.8M556.5,642.6V652.1M555.1,642.6h2.8M555.1,652.1h2.8M559.2,640.3V652.0M557.8,640.3h2.8M557.8,652.0h2.8M561.9,643.0V653.2M560.5,643.0h2.8M560.5,653.2h2.8M564.7,644.0V651.9M563.3,644.0h2.8M563.3,651.9h2.8M567.4,638.2V649.4M566.0,638.2h2.8M566.0,649.4h2.8M570.1,641.4V648.9M568.7,641.4h2.8M568.7,648.9h2.8M572.9,640.0V647.5M571.5,640.0h2.8M571.5,647.5h2.8M575.6,641.7V652.8M574.2,641.7h2.8M574.2,652.8h2.8M578.4,639.6V650.7M577.0,639.6h2.8M577.0,650.7h2.8M581.1,639.6V648.2M579.7,639.6h2.8M579.7,648.2h2.8M583.8,641.9V649.8M582.4,641.9h2.8M582.4,649.8h2.8M586.6,637.7V647.4M585.2,637.7h2.8M585.2,647.4h2.8M589.3,637.3V648.9M587.9,637.3h2.8M587.9,648.9h2.8M592.0,640.9V650.2M590.6,640.9h2.8M590.6,650.2h2.8M594.8,638.5V648.2M593.4,638.5h2.8M593.4,648.2h2.8M597.5,637.9V648.2M596.1,637.9h2.8M596.1,648.2h2.8M600.2,643.3V650.3M598.9,643.3h2.8M598.9,650.3h2.8M603.0,638.3V647.3M601.6,638.3h2.8M601.6,647.3h2.8M605.7,638.3V649.5M604.3,638.3h2.8M604.3,649.5h2.8M608.5,638.5V649.4M607.1,638.5h2.8M607.1,649.4h2.8M611.2,639.5V648.9M609.8,639.5h2.8M609.8,648.9h2.8M613.9,638.0V646.4M612.5,638.0h2.8M612.5,646.4h2.8M616.7,639.2V650.8M615.3,639.2h2.8M615.3,650.8h2.8M619.4,641.7V649.9M618.0,641.7h2.8M618.0,649.9h2.8M622.1,641.1V648.7M620.8,641.1h2.8M620.8,648.7h2.8M624.9,640.1V648.5M623.5,640.1h2.8M623.5,648.5h2.8M627.6,635.7V647.1M626.2,635.7h2.8M626.2,647.1h2.8M630.4,638.4V650.3M629.0,638.4h2.8M629.0,650.3h2.8M633.1,638.6V648.9M631.7,638.6h2.8M631.7,648.9h2.8M635.8,640.2V648.4M634.4,640.2h2.8M634.4,648.4h2.8M638.6,637.5V647.7M637.2,637.5h2.8M637.2,647.7h2.8M641.3,640.1V648.5M639.9,640.1h2.8M639.9,648.5h2.8M644.0,638.0V648.3M642.6,638.0h2.8M642.6,648.3h2.8" stroke="#f04030" stroke-width="0.65" fill="none"/>
<path d="M484.4,652.8h1.8M487.1,652.0h1.8M489.9,652.4h1.8M492.6,654.2h1.8M495.3,653.1h1.8M498.1,651.0h1.8M500.8,652.0h1.8M503.5,653.1h1.8M506.3,651.7h1.8M509.0,650.9h1.8M511.8,650.6h1.8M514.5,649.6h1.8M517.2,651.2h1.8M520.0,649.8h1.8M522.7,648.5h1.8M525.4,648.1h1.8M528.2,648.2h1.8M530.9,647.3h1.8M533.6,647.8h1.8M536.4,647.7h1.8M539.1,647.5h1.8M541.9,646.1h1.8M544.6,648.1h1.8M547.3,646.8h1.8M550.1,645.5h1.8M552.8,646.0h1.8M555.6,647.4h1.8M558.3,646.1h1.8M561.0,648.1h1.8M563.8,647.9h1.8M566.5,643.8h1.8M569.2,645.2h1.8M572.0,643.8h1.8M574.7,647.2h1.8M577.5,645.2h1.8M580.2,643.9h1.8M582.9,645.8h1.8M585.7,642.5h1.8M588.4,643.1h1.8M591.1,645.5h1.8M593.9,643.3h1.8M596.6,643.1h1.8M599.4,646.8h1.8M602.1,642.8h1.8M604.8,643.9h1.8M607.6,644.0h1.8M610.3,644.2h1.8M613.0,642.2h1.8M615.8,645.0h1.8M618.5,645.8h1.8M621.2,644.9h1.8M624.0,644.3h1.8M626.7,641.4h1.8M629.5,644.3h1.8M632.2,643.7h1.8M634.9,644.3h1.8M637.7,642.6h1.8M640.4,644.3h1.8M643.1,643.1h1.8" stroke="#f04030" stroke-width="1.8" fill="none"/>
<path d="M485.3,646.5V652.2M483.9,646.5h2.8M483.9,652.2h2.8M488.0,645.9V654.9M486.6,645.9h2.8M486.6,654.9h2.8M490.8,642.9V653.3M489.4,642.9h2.8M489.4,653.3h2.8M493.5,641.7V655.3M492.1,641.7h2.8M492.1,655.3h2.8M496.2,645.5V651.4M494.8,645.5h2.8M494.8,651.4h2.8M499.0,643.8V653.9M497.6,643.8h2.8M497.6,653.9h2.8M501.7,643.3V653.0M500.3,643.3h2.8M500.3,653.0h2.8M504.4,645.3V651.3M503.0,645.3h2.8M503.0,651.3h2.8M507.2,641.6V652.2M505.8,641.6h2.8M505.8,652.2h2.8M509.9,644.1V653.3M508.5,644.1h2.8M508.5,653.3h2.8M512.6,642.8V653.1M511.2,642.8h2.8M511.2,653.1h2.8M515.4,640.7V655.3M514.0,640.7h2.8M514.0,655.3h2.8M518.1,645.5V651.4M516.7,645.5h2.8M516.7,651.4h2.8M520.9,641.2V655.5M519.5,641.2h2.8M519.5,655.5h2.8M523.6,641.0V653.4M522.2,641.0h2.8M522.2,653.4h2.8M526.3,643.9V651.1M524.9,643.9h2.8M524.9,651.1h2.8M529.1,645.3V650.3M527.7,645.3h2.8M527.7,650.3h2.8M531.8,641.1V652.9M530.4,641.1h2.8M530.4,652.9h2.8M534.5,639.4V653.0M533.1,639.4h2.8M533.1,653.0h2.8M537.3,639.0V652.9M535.9,639.0h2.8M535.9,652.9h2.8M540.0,644.7V651.2M538.6,644.7h2.8M538.6,651.2h2.8M542.8,642.1V653.6M541.4,642.1h2.8M541.4,653.6h2.8M545.5,641.9V648.0M544.1,641.9h2.8M544.1,648.0h2.8M548.2,632.4V661.1M546.8,632.4h2.8M546.8,661.1h2.8M551.0,643.8V654.6M549.6,643.8h2.8M549.6,654.6h2.8M553.7,645.3V651.2M552.3,645.3h2.8M552.3,651.2h2.8M556.5,641.0V652.5M555.1,641.0h2.8M555.1,652.5h2.8M559.2,639.0V652.1M557.8,639.0h2.8M557.8,652.1h2.8M561.9,637.5V651.9M560.5,637.5h2.8M560.5,651.9h2.8M564.7,640.8V647.5M563.3,640.8h2.8M563.3,647.5h2.8M567.4,640.4V648.1M566.0,640.4h2.8M566.0,648.1h2.8M570.1,639.2V652.7M568.7,639.2h2.8M568.7,652.7h2.8M572.9,639.1V650.7M571.5,639.1h2.8M571.5,650.7h2.8M575.6,640.9V649.2M574.2,640.9h2.8M574.2,649.2h2.8M578.4,640.3V650.1M577.0,640.3h2.8M577.0,650.1h2.8M581.1,641.5V648.2M579.7,641.5h2.8M579.7,648.2h2.8M583.8,639.4V650.9M582.4,639.4h2.8M582.4,650.9h2.8M586.6,638.8V652.0M585.2,638.8h2.8M585.2,652.0h2.8M589.3,637.8V651.2M587.9,637.8h2.8M587.9,651.2h2.8M592.0,640.0V647.0M590.6,640.0h2.8M590.6,647.0h2.8M594.8,631.1V656.6M593.4,631.1h2.8M593.4,656.6h2.8M597.5,638.9V648.4M596.1,638.9h2.8M596.1,648.4h2.8M600.2,638.8V647.4M598.9,638.8h2.8M598.9,647.4h2.8M603.0,632.6V652.2M601.6,632.6h2.8M601.6,652.2h2.8M605.7,639.1V648.4M604.3,639.1h2.8M604.3,648.4h2.8M608.5,637.3V648.8M607.1,637.3h2.8M607.1,648.8h2.8M611.2,639.6V647.2M609.8,639.6h2.8M609.8,647.2h2.8M613.9,638.5V648.6M612.5,638.5h2.8M612.5,648.6h2.8M616.7,624.3V659.3M615.3,624.3h2.8M615.3,659.3h2.8M619.4,638.3V651.7M618.0,638.3h2.8M618.0,651.7h2.8M622.1,638.2V649.3M620.8,638.2h2.8M620.8,649.3h2.8M624.9,637.2V649.9M623.5,637.2h2.8M623.5,649.9h2.8M627.6,635.0V649.1M626.2,635.0h2.8M626.2,649.1h2.8M630.4,637.3V649.4M629.0,637.3h2.8M629.0,649.4h2.8M633.1,635.1V646.2M631.7,635.1h2.8M631.7,646.2h2.8M635.8,640.8V646.3M634.4,640.8h2.8M634.4,646.3h2.8M638.6,638.6V646.7M637.2,638.6h2.8M637.2,646.7h2.8M641.3,639.6V646.9M639.9,639.6h2.8M639.9,646.9h2.8M644.0,637.7V646.0M642.6,637.7h2.8M642.6,646.0h2.8" stroke="#2d55f0" stroke-width="0.65" fill="none"/>
<path d="M484.4,649.3h1.8M487.1,650.4h1.8M489.9,648.1h1.8M492.6,648.5h1.8M495.3,648.5h1.8M498.1,648.8h1.8M500.8,648.2h1.8M503.5,648.3h1.8M506.3,646.9h1.8M509.0,648.7h1.8M511.8,647.9h1.8M514.5,648.0h1.8M517.2,648.5h1.8M520.0,648.3h1.8M522.7,647.2h1.8M525.4,647.5h1.8M528.2,647.8h1.8M530.9,647.0h1.8M533.6,646.2h1.8M536.4,646.0h1.8M539.1,648.0h1.8M541.9,647.8h1.8M544.6,645.0h1.8M547.3,646.7h1.8M550.1,649.2h1.8M552.8,648.2h1.8M555.6,646.8h1.8M558.3,645.5h1.8M561.0,644.7h1.8M563.8,644.1h1.8M566.5,644.3h1.8M569.2,646.0h1.8M572.0,644.9h1.8M574.7,645.0h1.8M577.5,645.2h1.8M580.2,644.9h1.8M582.9,645.1h1.8M585.7,645.4h1.8M588.4,644.5h1.8M591.1,643.5h1.8M593.9,643.8h1.8M596.6,643.7h1.8M599.4,643.1h1.8M602.1,642.4h1.8M604.8,643.8h1.8M607.6,643.1h1.8M610.3,643.4h1.8M613.0,643.5h1.8M615.8,641.8h1.8M618.5,645.0h1.8M621.2,643.8h1.8M624.0,643.5h1.8M626.7,642.1h1.8M629.5,643.3h1.8M632.2,640.7h1.8M634.9,643.5h1.8M637.7,642.7h1.8M640.4,643.3h1.8M643.1,641.9h1.8" stroke="#2d55f0" stroke-width="1.8" fill="none"/>
<text x="462.30" y="695.76" font-size="8.0" text-anchor="middle">TBS</text>
<line x1="477.90" y1="690.40" x2="477.90" y2="715.00" stroke="#000" stroke-width="1.2"/>
<path d="M473.4,714.5L482.4,714.5L477.9,722.3Z" fill="#000"/>
<path transform="translate(484.6,706.3) scale(1.2)" d="M1.5,-5 L-2.2,0.6 L0,0.6 L-1.6,5 L2.4,-1 L0.2,-1 L1.8,-5Z" fill="#f9e25a"/>
<text x="17.60" y="771.14" font-size="9.6" font-weight="bold">N</text>
<line x1="63.00" y1="779.70" x2="63.00" y2="896.80" stroke="#000" stroke-width="1.7"/>
<line x1="54.70" y1="779.70" x2="63.00" y2="779.70" stroke="#000" stroke-width="1.7"/>
<line x1="54.70" y1="838.80" x2="63.00" y2="838.80" stroke="#000" stroke-width="1.7"/>
<line x1="58.60" y1="809.30" x2="63.00" y2="809.30" stroke="#000" stroke-width="1.7"/>
<line x1="58.60" y1="867.90" x2="63.00" y2="867.90" stroke="#000" stroke-width="1.7"/>
<line x1="54.70" y1="896.80" x2="208.20" y2="896.80" stroke="#000" stroke-width="1.7"/>
<rect x="73.95" y="839.45" width="16.80" height="56.55" fill="url(#chevBl)" stroke="#8aa2ff" stroke-width="1.3"/>
<rect x="103.40" y="812.00" width="16.50" height="84.00" fill="url(#chevB)" stroke="#1436ff" stroke-width="2.2"/>
<rect x="151.65" y="840.15" width="17.10" height="55.85" fill="url(#chevRl)" stroke="#ff9c8e" stroke-width="1.3"/>
<rect x="180.70" y="813.80" width="16.80" height="82.20" fill="url(#chevR)" stroke="#ff2a10" stroke-width="2.2"/>
<line x1="96.80" y1="896.80" x2="96.80" y2="905.20" stroke="#000" stroke-width="1.7"/>
<line x1="174.30" y1="896.80" x2="174.30" y2="905.20" stroke="#000" stroke-width="1.7"/>
<text x="96.80" y="916.33" font-size="9.3" text-anchor="middle" textLength="37.2" lengthAdjust="spacingAndGlyphs">Barbadin</text>
<text x="173.10" y="916.33" font-size="9.3" text-anchor="middle" textLength="70.2" lengthAdjust="spacingAndGlyphs">MF-8 + Barbadin</text>
<text transform="translate(48.52,779.70) rotate(-90)" font-size="9.0" text-anchor="middle">150</text>
<text transform="translate(48.52,838.80) rotate(-90)" font-size="9.0" text-anchor="middle">100</text>
<text transform="translate(48.52,897.90) rotate(-90)" font-size="9.0" text-anchor="middle">50</text>
<text transform="translate(39.09,835.30) rotate(-90)" font-size="8.9" text-anchor="middle">fEPSP Amplitude%</text>
<path d="M82.3,838.5L111.5,791.0M82.3,838.5L111.5,804.9M82.3,838.5L111.5,813.8M82.3,838.5L111.5,816.5M82.3,838.5L111.5,819.4" stroke="#4fb48a" stroke-width="0.55" fill="none" stroke-dasharray="1,0.8"/>
<path d="M82.5,838.5V791.0H111.6V791.0" stroke="#000" stroke-width="1.1" fill="none"/>
<line x1="111.50" y1="791.00" x2="111.50" y2="822.00" stroke="#000" stroke-width="1.1"/>
<rect x="109.80" y="789.30" width="3.40" height="3.40" fill="#000"/>
<rect x="109.80" y="803.20" width="3.40" height="3.40" fill="#000"/>
<rect x="109.80" y="812.10" width="3.40" height="3.40" fill="#000"/>
<rect x="109.80" y="814.80" width="3.40" height="3.40" fill="#000"/>
<rect x="109.80" y="817.70" width="3.40" height="3.40" fill="#000"/>
<circle cx="82.3" cy="838.5" r="2.0" fill="#000"/>
<path d="M93.92,778.10V783.90M91.41,779.55L96.44,782.45M91.41,782.45L96.44,779.55M100.38,778.10V783.90M97.86,779.55L102.89,782.45M97.86,782.45L102.89,779.55" stroke="#000" stroke-width="1.55" stroke-linecap="round" fill="none"/>
<circle cx="93.92" cy="781.00" r="1.3"/><circle cx="100.38" cy="781.00" r="1.3"/>
<path d="M159.9,838.8L188.9,813.2M159.9,838.8L188.9,817.5M159.9,838.8L188.9,821.5M159.9,838.8L188.9,825.8" stroke="#4fb48a" stroke-width="0.55" fill="none" stroke-dasharray="1,0.8"/>
<path d="M159.9,838.8V792.2H188.9V805.0" stroke="#000" stroke-width="1.1" fill="none"/>
<rect x="187.20" y="811.50" width="3.40" height="3.40" fill="#000"/>
<rect x="187.20" y="815.80" width="3.40" height="3.40" fill="#000"/>
<rect x="187.20" y="819.80" width="3.40" height="3.40" fill="#000"/>
<rect x="187.20" y="824.10" width="3.40" height="3.40" fill="#000"/>
<circle cx="159.9" cy="838.8" r="2.0" fill="#000"/>
<path d="M171.28,778.90V784.70M168.76,780.35L173.79,783.25M168.76,783.25L173.79,780.35M178.03,778.90V784.70M175.51,780.35L180.54,783.25M175.51,783.25L180.54,780.35" stroke="#000" stroke-width="1.55" stroke-linecap="round" fill="none"/>
<circle cx="171.28" cy="781.80" r="1.3"/><circle cx="178.03" cy="781.80" r="1.3"/>
<text x="223.70" y="771.04" font-size="9.6" font-weight="bold">O</text>
<path d="M229.9,794.3 L230.8,798.7 L233.2,799.1 L236.0,810.0 L238.4,818.0 L240.5,821.5 L244.2,823.5 L248.0,819.0 L251.5,814.7 L258.0,808.0 L266.1,803.2 L272.0,800.0 L279.0,798.5 L289.5,797.5" stroke="#ff9080" stroke-width="1.3" fill="none" stroke-linejoin="round" stroke-linecap="round"/>
<path d="M229.9,794.3 L230.8,798.7 L233.2,799.1 L236.0,810.0 L238.4,821.3 L240.0,828.0 L244.2,833.0 L248.0,828.0 L253.0,822.8 L257.0,816.0 L261.7,810.4 L266.0,805.5 L270.5,801.6 L279.2,799.4 L289.5,798.0" stroke="#ff2e10" stroke-width="1.4" fill="none" stroke-linejoin="round" stroke-linecap="round"/>
<path d="M274.9,780.4V787.0H283.9" stroke="#444" stroke-width="0.8" fill="none"/>
<text transform="translate(272.84,784.10) rotate(-90)" font-size="4.8" text-anchor="middle" textLength="13.0" lengthAdjust="spacingAndGlyphs">200uv</text>
<text x="274.10" y="794.55" font-size="4.9" textLength="14.6" lengthAdjust="spacingAndGlyphs">200ms</text>
<path d="M233.7,859.9 L235.7,877.9 L238.4,864.7 L240.5,877.0 L242.7,885.0 L245.7,888.4 L249.0,885.0 L254.0,879.0 L261.7,873.0 L270.5,869.5 L282.2,869.5 L293.8,872.8" stroke="#8098ff" stroke-width="1.3" fill="none" stroke-linejoin="round" stroke-linecap="round"/>
<path d="M233.7,859.9 L235.7,877.9 L238.4,864.7 L240.5,880.0 L242.7,891.3 L246.0,895.0 L249.3,893.5 L254.4,884.0 L261.7,875.3 L270.5,871.2 L282.2,869.1 L293.8,869.4" stroke="#2251ff" stroke-width="1.5" fill="none" stroke-linejoin="round" stroke-linecap="round"/>
<path d="M281.0,843.9V854.2H288.7" stroke="#444" stroke-width="0.8" fill="none"/>
<text transform="translate(279.44,849.50) rotate(-90)" font-size="4.8" text-anchor="middle" textLength="13.0" lengthAdjust="spacingAndGlyphs">200uv</text>
<text x="278.50" y="860.95" font-size="4.9" textLength="14.9" lengthAdjust="spacingAndGlyphs">200ms</text>
<text x="337.60" y="771.34" font-size="9.6" font-weight="bold">P</text>
<line x1="370.10" y1="792.80" x2="370.10" y2="909.50" stroke="#000" stroke-width="1.7"/>
<line x1="362.20" y1="792.80" x2="370.10" y2="792.80" stroke="#000" stroke-width="1.7"/>
<line x1="362.20" y1="851.10" x2="370.10" y2="851.10" stroke="#000" stroke-width="1.7"/>
<line x1="366.00" y1="822.20" x2="370.10" y2="822.20" stroke="#000" stroke-width="1.7"/>
<line x1="366.00" y1="880.60" x2="370.10" y2="880.60" stroke="#000" stroke-width="1.7"/>
<line x1="362.20" y1="909.50" x2="587.60" y2="909.50" stroke="#000" stroke-width="1.7"/>
<rect x="380.80" y="852.40" width="16.70" height="56.40" fill="url(#dotRl)" stroke="#ff8c7c" stroke-width="1.6"/>
<rect x="409.50" y="830.90" width="16.00" height="77.90" fill="url(#dotR)" stroke="#ff2c0e" stroke-width="2.2"/>
<rect x="456.80" y="852.80" width="16.10" height="56.00" fill="url(#dotBl)" stroke="#96a8ff" stroke-width="1.6"/>
<rect x="485.40" y="831.20" width="16.00" height="77.60" fill="url(#dotB)" stroke="#1438ff" stroke-width="2.2"/>
<rect x="532.60" y="852.80" width="16.60" height="56.00" fill="url(#dotGl)" stroke="#8ef08e" stroke-width="1.6"/>
<rect x="561.40" y="854.30" width="15.60" height="54.50" fill="url(#dotG)" stroke="#12d012" stroke-width="2.2"/>
<line x1="403.00" y1="909.50" x2="403.00" y2="917.30" stroke="#000" stroke-width="1.7"/>
<line x1="478.80" y1="909.50" x2="478.80" y2="917.30" stroke="#000" stroke-width="1.7"/>
<line x1="555.20" y1="909.50" x2="555.20" y2="917.30" stroke="#000" stroke-width="1.7"/>
<text x="402.80" y="928.89" font-size="9.2" text-anchor="middle">1</text>
<text x="478.60" y="928.89" font-size="9.2" text-anchor="middle">2</text>
<text x="558.20" y="928.89" font-size="9.2" text-anchor="middle">3</text>
<text transform="translate(357.11,792.75) rotate(-90)" font-size="8.7" text-anchor="middle">150</text>
<text transform="translate(357.11,851.10) rotate(-90)" font-size="8.7" text-anchor="middle">100</text>
<text transform="translate(357.11,909.45) rotate(-90)" font-size="8.7" text-anchor="middle">50</text>
<text transform="translate(347.82,851.40) rotate(-90)" font-size="9.0" text-anchor="middle">fEPSP Amplitude%</text>
<path d="M389.0,851.5L417.2,823.1M389.0,851.5L417.2,829.6M389.0,851.5L417.2,834.8" stroke="#3aa878" stroke-width="0.5" fill="none" stroke-dasharray="1,0.7"/>
<path d="M389.0,839.7V787.6H417.2V812.0" stroke="#000" stroke-width="1.1" fill="none"/>
<circle cx="417.2" cy="823.1" r="0.9" fill="#000"/>
<circle cx="417.2" cy="829.6" r="0.9" fill="#000"/>
<circle cx="417.2" cy="834.8" r="0.9" fill="#000"/>
<circle cx="389.0" cy="851.5" r="1.2" fill="#000"/>
<path d="M393.49,775.10V780.90M390.98,776.55L396.00,779.45M390.98,779.45L396.00,776.55M400.06,775.10V780.90M397.55,776.55L402.57,779.45M397.55,779.45L402.57,776.55M406.64,775.10V780.90M404.13,776.55L409.15,779.45M404.13,779.45L409.15,776.55M413.21,775.10V780.90M410.70,776.55L415.72,779.45M410.70,779.45L415.72,776.55" stroke="#000" stroke-width="1.55" stroke-linecap="round" fill="none"/>
<circle cx="393.49" cy="778.00" r="1.3"/><circle cx="400.06" cy="778.00" r="1.3"/><circle cx="406.64" cy="778.00" r="1.3"/><circle cx="413.21" cy="778.00" r="1.3"/>
<path d="M464.8,852.0L493.4,811.7M464.8,852.0L493.4,820.5M464.8,852.0L493.4,823.5M464.8,852.0L493.4,826.5M464.8,852.0L493.4,829.5M464.8,852.0L493.4,832.5M464.8,852.0L493.4,835.5M464.8,852.0L493.4,838.5M464.8,852.0L493.4,841.0" stroke="#3aa878" stroke-width="0.5" fill="none" stroke-dasharray="1,0.7"/>
<path d="M464.8,840.1V788.4H493.4V800.7" stroke="#000" stroke-width="1.1" fill="none"/>
<circle cx="493.4" cy="811.7" r="0.9" fill="#000"/>
<circle cx="493.4" cy="820.5" r="0.9" fill="#000"/>
<circle cx="493.4" cy="823.5" r="0.9" fill="#000"/>
<circle cx="493.4" cy="826.5" r="0.9" fill="#000"/>
<circle cx="493.4" cy="829.5" r="0.9" fill="#000"/>
<circle cx="493.4" cy="832.5" r="0.9" fill="#000"/>
<circle cx="493.4" cy="835.5" r="0.9" fill="#000"/>
<circle cx="493.4" cy="838.5" r="0.9" fill="#000"/>
<circle cx="493.4" cy="841.0" r="0.9" fill="#000"/>
<circle cx="464.8" cy="852.0" r="1.2" fill="#000"/>
<path d="M469.43,775.50V781.30M466.91,776.95L471.94,779.85M466.91,779.85L471.94,776.95M475.88,775.50V781.30M473.36,776.95L478.39,779.85M473.36,779.85L478.39,776.95M482.32,775.50V781.30M479.81,776.95L484.84,779.85M479.81,779.85L484.84,776.95M488.77,775.50V781.30M486.26,776.95L491.29,779.85M486.26,779.85L491.29,776.95" stroke="#000" stroke-width="1.55" stroke-linecap="round" fill="none"/>
<circle cx="469.43" cy="778.40" r="1.3"/><circle cx="475.88" cy="778.40" r="1.3"/><circle cx="482.32" cy="778.40" r="1.3"/><circle cx="488.77" cy="778.40" r="1.3"/>
<path d="M540.6,852.0L569.6,850.5M540.6,852.0L569.6,851.5M540.6,852.0L569.6,852.5M540.6,852.0L569.6,853.5M540.6,852.0L569.6,855.0M540.6,852.0L569.6,857.0M540.6,852.0L569.6,859.0" stroke="#3aa878" stroke-width="0.5" fill="none" stroke-dasharray="1,0.7"/>
<path d="M540.6,839.2V788.4H569.6V837.4" stroke="#000" stroke-width="1.1" fill="none"/>
<line x1="569.60" y1="849.00" x2="569.60" y2="860.00" stroke="#000" stroke-width="1.1"/>
<rect x="539.4" y="850.6" width="2.4" height="2.8" fill="#000"/>
<text x="555.20" y="779.79" font-size="9.2" text-anchor="middle">ns</text>
<text x="574.40" y="771.14" font-size="9.6" font-weight="bold">Q</text>
<path d="M592.0,787.6 L592.6,794.9 L594.5,793.5 L597.0,802.0 L599.6,808.3 L601.5,808.8 L603.2,807.3 L608.4,798.6 L615.7,792.7 L625.9,789.8 L641.2,790.5" stroke="#ff2e10" stroke-width="1.3" fill="none" stroke-linejoin="round" stroke-linecap="round"/>
<path d="M594.5,793.5 L597.0,801.0 L599.6,806.0 L603.2,805.0 L606.0,801.0" stroke="#ff9a88" stroke-width="0.8" fill="none" stroke-linejoin="round" stroke-linecap="round"/>
<path d="M625.9,793.5V802.2H633.2" stroke="#444" stroke-width="0.7" fill="none"/>
<text transform="translate(623.60,797.80) rotate(-90)" font-size="3.4" text-anchor="middle">200uv</text>
<text x="625.10" y="808.66" font-size="3.8" textLength="12.5" lengthAdjust="spacingAndGlyphs">200ms</text>
<text x="593.80" y="817.32" font-size="6.75" textLength="65.9" lengthAdjust="spacingAndGlyphs">1- shRNA(&#946;-arrestin1)</text>
<path d="M597.4,833.6 L599.5,845.0 L601.4,854.1 L604.7,848.9 L611.3,848.9 L617.1,843.8 L623.0,840.6 L635.0,840.5 L647.8,840.9" stroke="#2251ff" stroke-width="1.2" fill="none" stroke-linejoin="round" stroke-linecap="round"/>
<path d="M599.5,845.0 L601.4,850.0 L604.0,846.0 L611.3,843.1 L617.0,840.8 L623.0,840.2" stroke="#8aa0ff" stroke-width="0.8" fill="none" stroke-linejoin="round" stroke-linecap="round"/>
<path d="M635.4,840.5V850.0H643.1" stroke="#444" stroke-width="0.6" fill="none"/>
<text transform="translate(632.80,845.50) rotate(-90)" font-size="3.2" text-anchor="middle">200uv</text>
<text x="634.80" y="854.79" font-size="3.6" textLength="11.5" lengthAdjust="spacingAndGlyphs">200ms</text>
<text x="594.00" y="863.02" font-size="6.75" textLength="66.2" lengthAdjust="spacingAndGlyphs">2- shRNA(&#946;-arrestin2)</text>
<path d="M600.0,880.9 L601.1,884.5 L603.0,891.0 L605.4,898.4 L608.4,904.2 L611.0,900.1 L612.7,902.0 L618.6,896.2 L625.1,890.8 L635.0,889.5 L649.2,887.9" stroke="#1f9a5a" stroke-width="1.3" fill="none" stroke-linejoin="round" stroke-linecap="round"/>
<path d="M633.5,872.4V883.5H640.5" stroke="#444" stroke-width="0.6" fill="none"/>
<text transform="translate(631.30,878.00) rotate(-90)" font-size="3.4" text-anchor="middle">200uv</text>
<text x="633.20" y="887.36" font-size="3.8" textLength="11.7" lengthAdjust="spacingAndGlyphs">200ms</text>
<text x="600.80" y="912.25" font-size="6.85" textLength="44.1" lengthAdjust="spacingAndGlyphs">3- shRNA(NC)</text>
<text x="348.70" y="26.54" font-size="9.6" font-weight="bold">B</text>
<text x="426.20" y="35.93" font-size="12.1" textLength="58.0" lengthAdjust="spacingAndGlyphs">&#946;-arrestin1</text>
<text x="529.20" y="35.93" font-size="12.1" textLength="58.5" lengthAdjust="spacingAndGlyphs">&#946;-arrestin2</text>
<text x="420.90" y="53.36" font-size="7.7" textLength="28.6" lengthAdjust="spacingAndGlyphs">&#916;pEC50</text>
<text x="525.30" y="53.36" font-size="7.7" textLength="28.4" lengthAdjust="spacingAndGlyphs">&#916;pEC50</text>
<text x="468.9" y="52.5" font-size="8.6" font-style="italic">E<tspan font-size="5.6" font-style="normal" dy="2.2">max(%)</tspan></text>
<text x="582.8" y="52.5" font-size="8.6" font-style="italic">E<tspan font-size="5.6" font-style="normal" dy="2.2">max(%)</tspan></text>
<rect x="417.70" y="57.20" width="35.80" height="102.70" fill="#dcdcdc"/>
<rect x="418.70" y="57.70" width="33.80" height="10.10" fill="#ffffff"/>
<rect x="418.70" y="68.80" width="33.80" height="10.50" fill="#ffdcdc"/>
<rect x="418.70" y="80.30" width="33.80" height="10.50" fill="#fff0f0"/>
<rect x="418.70" y="91.80" width="33.80" height="10.50" fill="#d9d9d9"/>
<rect x="418.70" y="103.30" width="33.80" height="10.40" fill="#ffd3d3"/>
<rect x="418.70" y="114.70" width="33.80" height="10.40" fill="#ffe0e0"/>
<rect x="418.70" y="126.10" width="33.80" height="10.40" fill="#ffe2e2"/>
<rect x="418.70" y="137.50" width="33.80" height="10.40" fill="#ffe9e9"/>
<rect x="418.70" y="148.90" width="33.80" height="10.50" fill="#ffdede"/>
<line x1="418.50" y1="68.30" x2="452.70" y2="68.30" stroke="#b4b4b4" stroke-width="0.9"/>
<line x1="418.50" y1="79.80" x2="452.70" y2="79.80" stroke="#b4b4b4" stroke-width="0.9"/>
<line x1="418.50" y1="91.30" x2="452.70" y2="91.30" stroke="#b4b4b4" stroke-width="0.9"/>
<line x1="418.50" y1="102.80" x2="452.70" y2="102.80" stroke="#b4b4b4" stroke-width="0.9"/>
<line x1="418.50" y1="114.20" x2="452.70" y2="114.20" stroke="#b4b4b4" stroke-width="0.9"/>
<line x1="418.50" y1="125.60" x2="452.70" y2="125.60" stroke="#b4b4b4" stroke-width="0.9"/>
<line x1="418.50" y1="137.00" x2="452.70" y2="137.00" stroke="#b4b4b4" stroke-width="0.9"/>
<line x1="418.50" y1="148.40" x2="452.70" y2="148.40" stroke="#b4b4b4" stroke-width="0.9"/>
<rect x="461.90" y="57.20" width="35.30" height="102.70" fill="#dcdcdc"/>
<rect x="462.90" y="57.70" width="33.30" height="10.10" fill="#c8dffc"/>
<rect x="462.90" y="68.80" width="33.30" height="10.50" fill="#edf4fe"/>
<rect x="462.90" y="80.30" width="33.30" height="10.50" fill="#c8defc"/>
<rect x="462.90" y="91.80" width="33.30" height="10.50" fill="#d9d9d9"/>
<rect x="462.90" y="103.30" width="33.30" height="10.40" fill="#ecf3fe"/>
<rect x="462.90" y="114.70" width="33.30" height="10.40" fill="#f0f6fe"/>
<rect x="462.90" y="126.10" width="33.30" height="10.40" fill="#deebfd"/>
<rect x="462.90" y="137.50" width="33.30" height="10.40" fill="#cfe2fc"/>
<rect x="462.90" y="148.90" width="33.30" height="10.50" fill="#f3f8fe"/>
<line x1="462.70" y1="68.30" x2="496.40" y2="68.30" stroke="#b4b4b4" stroke-width="0.9"/>
<line x1="462.70" y1="79.80" x2="496.40" y2="79.80" stroke="#b4b4b4" stroke-width="0.9"/>
<line x1="462.70" y1="91.30" x2="496.40" y2="91.30" stroke="#b4b4b4" stroke-width="0.9"/>
<line x1="462.70" y1="102.80" x2="496.40" y2="102.80" stroke="#b4b4b4" stroke-width="0.9"/>
<line x1="462.70" y1="114.20" x2="496.40" y2="114.20" stroke="#b4b4b4" stroke-width="0.9"/>
<line x1="462.70" y1="125.60" x2="496.40" y2="125.60" stroke="#b4b4b4" stroke-width="0.9"/>
<line x1="462.70" y1="137.00" x2="496.40" y2="137.00" stroke="#b4b4b4" stroke-width="0.9"/>
<line x1="462.70" y1="148.40" x2="496.40" y2="148.40" stroke="#b4b4b4" stroke-width="0.9"/>
<rect x="522.00" y="57.20" width="34.90" height="102.70" fill="#dcdcdc"/>
<rect x="523.00" y="57.70" width="32.90" height="10.10" fill="#ffffff"/>
<rect x="523.00" y="68.80" width="32.90" height="10.50" fill="#ffe2e2"/>
<rect x="523.00" y="80.30" width="32.90" height="10.50" fill="#fff7f5"/>
<rect x="523.00" y="91.80" width="32.90" height="10.50" fill="#d9d9d9"/>
<rect x="523.00" y="103.30" width="32.90" height="10.40" fill="#ffe0e0"/>
<rect x="523.00" y="114.70" width="32.90" height="10.40" fill="#ffd5d5"/>
<rect x="523.00" y="126.10" width="32.90" height="10.40" fill="#ffdcdc"/>
<rect x="523.00" y="137.50" width="32.90" height="10.40" fill="#ffeeee"/>
<rect x="523.00" y="148.90" width="32.90" height="10.50" fill="#ffd3d3"/>
<line x1="522.80" y1="68.30" x2="556.10" y2="68.30" stroke="#b4b4b4" stroke-width="0.9"/>
<line x1="522.80" y1="79.80" x2="556.10" y2="79.80" stroke="#b4b4b4" stroke-width="0.9"/>
<line x1="522.80" y1="91.30" x2="556.10" y2="91.30" stroke="#b4b4b4" stroke-width="0.9"/>
<line x1="522.80" y1="102.80" x2="556.10" y2="102.80" stroke="#b4b4b4" stroke-width="0.9"/>
<line x1="522.80" y1="114.20" x2="556.10" y2="114.20" stroke="#b4b4b4" stroke-width="0.9"/>
<line x1="522.80" y1="125.60" x2="556.10" y2="125.60" stroke="#b4b4b4" stroke-width="0.9"/>
<line x1="522.80" y1="137.00" x2="556.10" y2="137.00" stroke="#b4b4b4" stroke-width="0.9"/>
<line x1="522.80" y1="148.40" x2="556.10" y2="148.40" stroke="#b4b4b4" stroke-width="0.9"/>
<rect x="575.30" y="57.20" width="34.70" height="102.70" fill="#dcdcdc"/>
<rect x="576.30" y="57.70" width="32.70" height="10.10" fill="#c5ddfb"/>
<rect x="576.30" y="68.80" width="32.70" height="10.50" fill="#dceafc"/>
<rect x="576.30" y="80.30" width="32.70" height="10.50" fill="#c5ddfb"/>
<rect x="576.30" y="91.80" width="32.70" height="10.50" fill="#d9d9d9"/>
<rect x="576.30" y="103.30" width="32.70" height="10.40" fill="#e3eefd"/>
<rect x="576.30" y="114.70" width="32.70" height="10.40" fill="#eaf1fe"/>
<rect x="576.30" y="126.10" width="32.70" height="10.40" fill="#e0ecfd"/>
<rect x="576.30" y="137.50" width="32.70" height="10.40" fill="#e8f1fd"/>
<rect x="576.30" y="148.90" width="32.70" height="10.50" fill="#f3f7fe"/>
<line x1="576.10" y1="68.30" x2="609.20" y2="68.30" stroke="#b4b4b4" stroke-width="0.9"/>
<line x1="576.10" y1="79.80" x2="609.20" y2="79.80" stroke="#b4b4b4" stroke-width="0.9"/>
<line x1="576.10" y1="91.30" x2="609.20" y2="91.30" stroke="#b4b4b4" stroke-width="0.9"/>
<line x1="576.10" y1="102.80" x2="609.20" y2="102.80" stroke="#b4b4b4" stroke-width="0.9"/>
<line x1="576.10" y1="114.20" x2="609.20" y2="114.20" stroke="#b4b4b4" stroke-width="0.9"/>
<line x1="576.10" y1="125.60" x2="609.20" y2="125.60" stroke="#b4b4b4" stroke-width="0.9"/>
<line x1="576.10" y1="137.00" x2="609.20" y2="137.00" stroke="#b4b4b4" stroke-width="0.9"/>
<line x1="576.10" y1="148.40" x2="609.20" y2="148.40" stroke="#b4b4b4" stroke-width="0.9"/>
<text x="412.8" y="66.2" font-size="8.4" text-anchor="end">WT</text>
<line x1="415.20" y1="63.05" x2="417.00" y2="63.05" stroke="#bbb" stroke-width="0.5"/>
<text x="412.8" y="77.5" font-size="8.4" text-anchor="end">T111<tspan font-size="5.9" dy="-3.4">2.61</tspan><tspan dy="3.4">A</tspan></text>
<line x1="415.20" y1="74.35" x2="417.00" y2="74.35" stroke="#bbb" stroke-width="0.5"/>
<text x="412.8" y="89.0" font-size="8.4" text-anchor="end">N115<tspan font-size="5.9" dy="-3.4">2.65</tspan><tspan dy="3.4">A</tspan></text>
<line x1="415.20" y1="85.85" x2="417.00" y2="85.85" stroke="#bbb" stroke-width="0.5"/>
<text x="412.8" y="100.5" font-size="8.4" text-anchor="end">Y189<tspan font-size="5.9" dy="-3.4">4.60</tspan><tspan dy="3.4">A</tspan></text>
<line x1="415.20" y1="97.35" x2="417.00" y2="97.35" stroke="#bbb" stroke-width="0.5"/>
<text x="412.8" y="112.0" font-size="8.4" text-anchor="end">H207<tspan font-size="5.9" dy="-3.4">ECL2</tspan><tspan dy="3.4">A</tspan></text>
<line x1="415.20" y1="108.80" x2="417.00" y2="108.80" stroke="#bbb" stroke-width="0.5"/>
<text x="412.8" y="123.4" font-size="8.4" text-anchor="end">N353<tspan font-size="5.9" dy="-3.4">6.55</tspan><tspan dy="3.4">A</tspan></text>
<line x1="415.20" y1="120.20" x2="417.00" y2="120.20" stroke="#bbb" stroke-width="0.5"/>
<text x="412.8" y="134.8" font-size="8.4" text-anchor="end">R356<tspan font-size="5.9" dy="-3.4">6.58</tspan><tspan dy="3.4">A</tspan></text>
<line x1="415.20" y1="131.60" x2="417.00" y2="131.60" stroke="#bbb" stroke-width="0.5"/>
<text x="412.8" y="146.2" font-size="8.4" text-anchor="end">H364<tspan font-size="5.9" dy="-3.4">7.27</tspan><tspan dy="3.4">A</tspan></text>
<line x1="415.20" y1="143.00" x2="417.00" y2="143.00" stroke="#bbb" stroke-width="0.5"/>
<text x="412.8" y="157.7" font-size="8.4" text-anchor="end">H376<tspan font-size="5.9" dy="-3.4">7.39</tspan><tspan dy="3.4">A</tspan></text>
<line x1="415.20" y1="154.45" x2="417.00" y2="154.45" stroke="#bbb" stroke-width="0.5"/>
<rect x="389.90" y="165.30" width="23.20" height="11.90" fill="#d9d9d9"/>
<text x="400.40" y="186.53" font-size="7.9" text-anchor="middle">ND</text>
<rect x="417.00" y="164.80" width="36.80" height="12.20" fill="#e0e0e0"/>
<rect x="418.4" y="166.0" width="34.0" height="9.8" rx="2.5" fill="url(#gPE)"/>
<line x1="435.40" y1="166.00" x2="435.40" y2="167.40" stroke="#ccc" stroke-width="0.5"/>
<line x1="435.40" y1="174.40" x2="435.40" y2="175.80" stroke="#ccc" stroke-width="0.5"/>
<rect x="461.40" y="164.80" width="36.20" height="12.20" fill="#e0e0e0"/>
<rect x="462.8" y="166.0" width="33.4" height="9.8" rx="2.5" fill="url(#gEM)"/>
<line x1="479.50" y1="166.00" x2="479.50" y2="167.40" stroke="#ccc" stroke-width="0.5"/>
<line x1="479.50" y1="174.40" x2="479.50" y2="175.80" stroke="#ccc" stroke-width="0.5"/>
<line x1="493.60" y1="166.00" x2="493.60" y2="167.40" stroke="#ccc" stroke-width="0.5"/>
<line x1="493.60" y1="174.40" x2="493.60" y2="175.80" stroke="#ccc" stroke-width="0.5"/>
<rect x="522.00" y="164.50" width="35.40" height="12.20" fill="#e0e0e0"/>
<rect x="523.4" y="165.7" width="32.6" height="9.8" rx="2.5" fill="url(#gPE)"/>
<line x1="539.70" y1="165.70" x2="539.70" y2="167.10" stroke="#ccc" stroke-width="0.5"/>
<line x1="539.70" y1="174.10" x2="539.70" y2="175.50" stroke="#ccc" stroke-width="0.5"/>
<rect x="575.00" y="164.50" width="36.50" height="12.20" fill="#e0e0e0"/>
<rect x="576.4" y="165.7" width="33.7" height="9.8" rx="2.5" fill="url(#gEM)"/>
<line x1="593.25" y1="165.70" x2="593.25" y2="167.10" stroke="#ccc" stroke-width="0.5"/>
<line x1="593.25" y1="174.10" x2="593.25" y2="175.50" stroke="#ccc" stroke-width="0.5"/>
<line x1="607.50" y1="165.70" x2="607.50" y2="167.10" stroke="#ccc" stroke-width="0.5"/>
<line x1="607.50" y1="174.10" x2="607.50" y2="175.50" stroke="#ccc" stroke-width="0.5"/>
<text transform="translate(421.61,181.60) rotate(-90)" font-size="7.3" text-anchor="end">&#8722;4</text>
<text transform="translate(438.91,181.60) rotate(-90)" font-size="7.3" text-anchor="end">0</text>
<text transform="translate(455.71,181.60) rotate(-90)" font-size="7.3" text-anchor="end">4</text>
<text transform="translate(464.91,181.60) rotate(-90)" font-size="7.3" text-anchor="end">0</text>
<text transform="translate(480.01,181.60) rotate(-90)" font-size="7.3" text-anchor="end">70</text>
<text transform="translate(495.51,181.60) rotate(-90)" font-size="7.3" text-anchor="end">140</text>
<text transform="translate(527.41,181.60) rotate(-90)" font-size="7.3" text-anchor="end">&#8722;4</text>
<text transform="translate(542.81,181.60) rotate(-90)" font-size="7.3" text-anchor="end">0</text>
<text transform="translate(558.41,181.60) rotate(-90)" font-size="7.3" text-anchor="end">4</text>
<text transform="translate(578.41,181.60) rotate(-90)" font-size="7.3" text-anchor="end">0</text>
<text transform="translate(592.91,181.60) rotate(-90)" font-size="7.3" text-anchor="end">70</text>
<text transform="translate(609.81,181.60) rotate(-90)" font-size="7.3" text-anchor="end">140</text>
<text x="13.80" y="26.94" font-size="9.6" font-weight="bold">A</text>
<g clip-path="url(#clipA)"><path d="M78,23.5 L96,24.5 C95,29 93,33 90,36 C85,41 77,46 71,50.4 C66,54 60,60 56,67 C53,73 52,78 51,83 L45,82 C43,76 43,68 43.5,61 C44,54 48,47 53.5,42.2 C59,36 66,30 78,23.5 Z" fill="url(#ribG)" stroke="#ecce9f" stroke-width="0.7" stroke-linejoin="round"/><path d="M36,27 C40,35 46,43 51,49" stroke="#ecce9f" stroke-width="3.3000000000000003" fill="none" stroke-linecap="round" stroke-linejoin="round"/><path d="M36,27 C40,35 46,43 51,49" stroke="#fdf6ec" stroke-width="2.2" fill="none" stroke-linecap="round" stroke-linejoin="round"/><path d="M90.9,42.2 C98,45 108,47 116,46.9" stroke="#ecce9f" stroke-width="4.1" fill="none" stroke-linecap="round" stroke-linejoin="round"/><path d="M90.9,42.2 C98,45 108,47 116,46.9" stroke="#fdf6ec" stroke-width="3" fill="none" stroke-linecap="round" stroke-linejoin="round"/><path d="M104,44 C107,38 109,30 111,23.5 L134,23.5 C136,29 139,33 142,35 C144,31 145,27 147,23.5 L198,23.5 C199,34 199.7,45 199.7,55 C197,59 194,62 190,62 C184,60 178,57 172,56 C166,58 160,60 155,64 L143,64 C140,60 137,57 133,56 C128,53 124,51 120,49 C114,47 109,46 104,44 Z" fill="url(#ribG)" stroke="#ecce9f" stroke-width="0.7" stroke-linejoin="round"/><path d="M150,62 C158,57 168,55 178,58 C182,64 183,74 182,86 C178,90 172,91 165,90 C158,88 154,84 152,78 Z" fill="url(#ribG)" stroke="#ecce9f" stroke-width="0.7" stroke-linejoin="round"/><path d="M201,57 C205,46 214,39 225,38 C237,38 249,45 258,57" stroke="#ecce9f" stroke-width="12.1" fill="none" stroke-linecap="round" stroke-linejoin="round"/><path d="M201,57 C205,46 214,39 225,38 C237,38 249,45 258,57" stroke="#fdf6ec" stroke-width="11" fill="none" stroke-linecap="round" stroke-linejoin="round"/><path d="M253,23.5 L267,23.5 L267,30.5 C262,30.5 257,28 253,23.5 Z" fill="url(#ribG)" stroke="#ecce9f" stroke-width="0.7" stroke-linejoin="round"/><path d="M258,49 C261,47 264,46 267,45 L267,110 C264,109 261,108 258,106 Z" fill="url(#ribG)" stroke="#ecce9f" stroke-width="0.7" stroke-linejoin="round"/><path d="M234,80 C238,75 244,72 249,72 C252,76 254,80 254,84 L254,113 L240,113 C236,108 234,102 234,96 Z" fill="url(#ribG)" stroke="#ecce9f" stroke-width="0.7" stroke-linejoin="round"/><path d="M199,92 C204,89 210,87 215,86 C218,88 220,90 220,93 L219,138 L202,140 C200,132 199,124 199,116 Z" fill="url(#ribG)" stroke="#ecce9f" stroke-width="0.7" stroke-linejoin="round"/><path d="M218.4,95.5 C226,106 234,117 242,128" stroke="#ecce9f" stroke-width="4.1" fill="none" stroke-linecap="round" stroke-linejoin="round"/><path d="M218.4,95.5 C226,106 234,117 242,128" stroke="#fdf6ec" stroke-width="3" fill="none" stroke-linecap="round" stroke-linejoin="round"/><path d="M240,120 C248,117 255,115 262,113 C265,115 267,117 268,119 L268,128 C262,130 255,131 248,131 C244,129 241,126 240,122 Z" fill="url(#ribG)" stroke="#ecce9f" stroke-width="0.7" stroke-linejoin="round"/><path d="M36,104 C40,102 44,102 48,104 C54,108 58,113 62,118 C66,124 70,132 72,140 L72,154 C66,155 61,156 56,156 C53,152 50,148 47,143 C43,138 39,134 36,131 Z" fill="url(#ribG)" stroke="#ecce9f" stroke-width="0.7" stroke-linejoin="round"/><path d="M38,82 C44,90 52,96 60,97" stroke="#ecce9f" stroke-width="3.7" fill="none" stroke-linecap="round" stroke-linejoin="round"/><path d="M38,82 C44,90 52,96 60,97" stroke="#fdf6ec" stroke-width="2.6" fill="none" stroke-linecap="round" stroke-linejoin="round"/><path d="M42,78 C48,84 56,86 62,84" stroke="#ecce9f" stroke-width="3.3000000000000003" fill="none" stroke-linecap="round" stroke-linejoin="round"/><path d="M42,78 C48,84 56,86 62,84" stroke="#fdf6ec" stroke-width="2.2" fill="none" stroke-linecap="round" stroke-linejoin="round"/><path d="M57,110 C66,106 76,104 86,106" stroke="#ecce9f" stroke-width="3.9" fill="none" stroke-linecap="round" stroke-linejoin="round"/><path d="M57,110 C66,106 76,104 86,106" stroke="#fdf6ec" stroke-width="2.8" fill="none" stroke-linecap="round" stroke-linejoin="round"/><path d="M60,102 C64,98 70,97 76,99" stroke="#ecce9f" stroke-width="3.3000000000000003" fill="none" stroke-linecap="round" stroke-linejoin="round"/><path d="M60,102 C64,98 70,97 76,99" stroke="#fdf6ec" stroke-width="2.2" fill="none" stroke-linecap="round" stroke-linejoin="round"/><path d="M67.5,151.2 C70,158 76,166 86,177 C90,182 96,185 101.4,185" stroke="#ecce9f" stroke-width="4.5" fill="none" stroke-linecap="round" stroke-linejoin="round"/><path d="M67.5,151.2 C70,158 76,166 86,177 C90,182 96,185 101.4,185" stroke="#fdf6ec" stroke-width="3.4" fill="none" stroke-linecap="round" stroke-linejoin="round"/><path d="M68.7,171 C70,166 74,160 82.7,157 C88,154 92,151 96.7,148.8" stroke="#ecce9f" stroke-width="4.1" fill="none" stroke-linecap="round" stroke-linejoin="round"/><path d="M68.7,171 C70,166 74,160 82.7,157 C88,154 92,151 96.7,148.8" stroke="#fdf6ec" stroke-width="3" fill="none" stroke-linecap="round" stroke-linejoin="round"/><path d="M68.7,173.4 C72,180 76,186 80.4,191" stroke="#ecce9f" stroke-width="4.1" fill="none" stroke-linecap="round" stroke-linejoin="round"/><path d="M68.7,173.4 C72,180 76,186 80.4,191" stroke="#fdf6ec" stroke-width="3" fill="none" stroke-linecap="round" stroke-linejoin="round"/><path d="M98,148 C104,145 110,143 116,141 L118,142 L118,160 L116,175 L101,175 C99,166 98,157 98,148 Z" fill="url(#ribG)" stroke="#ecce9f" stroke-width="0.7" stroke-linejoin="round"/><path d="M101,175 L116,174 L118,192 L101,192 Z" fill="url(#ribG)" stroke="#ecce9f" stroke-width="0.7" stroke-linejoin="round"/><path d="M110,136 L190,136 L190,150 C185,156 180,160 175,162 C165,165 155,166 150,166 C140,166 130,166 122,164 C116,162 112,160 110,158 Z" fill="url(#ribG)" stroke="#ecce9f" stroke-width="0.7" stroke-linejoin="round"/><path d="M110,172 C118,170 127,168 135,167 C141,167 146,168 150,170 L149,192 L110,192 Z" fill="url(#ribG)" stroke="#ecce9f" stroke-width="0.7" stroke-linejoin="round"/><path d="M129,126 C129,119 134,114 140,114 C146,114 150,119 150,126 L150,138 L129,138 Z" fill="url(#ribG)" stroke="#ecce9f" stroke-width="0.7" stroke-linejoin="round"/><path d="M151,111 C160,109 168,109 175,110 C182,112 187,115 190,118 L190,138 L151,138 Z" fill="url(#ribG)" stroke="#ecce9f" stroke-width="0.7" stroke-linejoin="round"/><path d="M106,96 C110,100 114,108 116,118 L116,126 L107,126 C106,116 105,106 106,96 Z" fill="url(#ribG)" stroke="#ecce9f" stroke-width="0.7" stroke-linejoin="round"/><path d="M200,100 L218,100 L218,140 C216,144 212,146 206,147 L200,146 C199,130 199,115 200,100 Z" fill="url(#ribG)" stroke="#ecce9f" stroke-width="0.7" stroke-linejoin="round"/><path d="M196,149 C196,160 205,169 218,172 C225,173.5 230,173 233,171" stroke="#ecce9f" stroke-width="10.1" fill="none" stroke-linecap="round" stroke-linejoin="round"/><path d="M196,149 C196,160 205,169 218,172 C225,173.5 230,173 233,171" stroke="#fdf6ec" stroke-width="9" fill="none" stroke-linecap="round" stroke-linejoin="round"/><path d="M232,141 C238,139 244,140 249,143 C248,152 246,162 242,174 L233,176 C232,165 231,152 232,141 Z" fill="url(#ribG)" stroke="#ecce9f" stroke-width="0.7" stroke-linejoin="round"/><path d="M245,148 C247,163 252,176 261,184" stroke="#ecce9f" stroke-width="10.1" fill="none" stroke-linecap="round" stroke-linejoin="round"/><path d="M245,148 C247,163 252,176 261,184" stroke="#fdf6ec" stroke-width="9" fill="none" stroke-linecap="round" stroke-linejoin="round"/><path d="M236,100 L268,100 L268,124 C262,126 255,127 249,128 C244,129 240,130 237,131 L236,124 Z" fill="url(#ribG)" stroke="#ecce9f" stroke-width="0.7" stroke-linejoin="round"/><path d="M262,186 C264,188 266,189 267,189" stroke="#ecce9f" stroke-width="4.1" fill="none" stroke-linecap="round" stroke-linejoin="round"/><path d="M262,186 C264,188 266,189 267,189" stroke="#fdf6ec" stroke-width="3" fill="none" stroke-linecap="round" stroke-linejoin="round"/><line x1="135.7" y1="78" x2="134.5" y2="89.7" stroke="#1fc6ea" stroke-width="1.5" stroke-dasharray="1.2,0.9"/><line x1="165.5" y1="88.5" x2="165.5" y2="97.9" stroke="#1fc6ea" stroke-width="1.5" stroke-dasharray="1.2,0.9"/><line x1="170.7" y1="89.7" x2="183.6" y2="102.5" stroke="#1fc6ea" stroke-width="1.5" stroke-dasharray="1.2,0.9"/><line x1="136.9" y1="124.7" x2="124" y2="134" stroke="#1fc6ea" stroke-width="1.5" stroke-dasharray="1.2,0.9"/><line x1="148.5" y1="115.4" x2="152" y2="127" stroke="#1fc6ea" stroke-width="1.5" stroke-dasharray="1.2,0.9"/><line x1="87.4" y1="101.4" x2="86.5" y2="118.9" stroke="#1fc6ea" stroke-width="1.5" stroke-dasharray="1.2,0.9"/><line x1="95.6" y1="101.4" x2="97.9" y2="113" stroke="#1fc6ea" stroke-width="1.5" stroke-dasharray="1.2,0.9"/><line x1="195" y1="92.6" x2="203.2" y2="88.5" stroke="#1fc6ea" stroke-width="1.5" stroke-dasharray="1.2,0.9"/><line x1="166" y1="136" x2="169.6" y2="148.8" stroke="#1fc6ea" stroke-width="1.5" stroke-dasharray="1.2,0.9"/><line x1="77.5" y1="62" x2="76" y2="72" stroke="#1fc6ea" stroke-width="1.5" stroke-dasharray="1.2,0.9"/><path d="M65.9,61 L78,60 L83.2,70.5 L75.5,75.8 L62.5,70.6 L65.9,61" stroke="#dc8f00" stroke-width="3.5" fill="none" stroke-linecap="round" stroke-linejoin="round"/><path d="M65.9,61 L78,60 L83.2,70.5 L75.5,75.8 L62.5,70.6 L65.9,61" stroke="#f7ad12" stroke-width="2.3000000000000003" fill="none" stroke-linecap="round" stroke-linejoin="round"/><path d="M73,60.2 L78,60 L80.6,65.3" stroke="#1a3fd8" stroke-width="3.5" fill="none" stroke-linecap="round" stroke-linejoin="round"/><path d="M73,60.2 L78,60 L80.6,65.3" stroke="#2f5bff" stroke-width="2.3000000000000003" fill="none" stroke-linecap="round" stroke-linejoin="round"/><path d="M62.5,70.6 L64.2,65.8" stroke="#1a3fd8" stroke-width="3.5" fill="none" stroke-linecap="round" stroke-linejoin="round"/><path d="M62.5,70.6 L64.2,65.8" stroke="#2f5bff" stroke-width="2.3000000000000003" fill="none" stroke-linecap="round" stroke-linejoin="round"/><path d="M62.5,70.6 L56.5,70.8" stroke="#a8a8a8" stroke-width="2.6999999999999997" fill="none" stroke-linecap="round" stroke-linejoin="round"/><path d="M62.5,70.6 L56.5,70.8" stroke="#dcdcdc" stroke-width="1.5" fill="none" stroke-linecap="round" stroke-linejoin="round"/><path d="M75.5,75.8 L77.5,82 L76,87" stroke="#dc8f00" stroke-width="3.5" fill="none" stroke-linecap="round" stroke-linejoin="round"/><path d="M75.5,75.8 L77.5,82 L76,87" stroke="#f7ad12" stroke-width="2.3000000000000003" fill="none" stroke-linecap="round" stroke-linejoin="round"/><path d="M83.2,70.5 L85.5,72" stroke="#a8a8a8" stroke-width="2.5" fill="none" stroke-linecap="round" stroke-linejoin="round"/><path d="M83.2,70.5 L85.5,72" stroke="#dcdcdc" stroke-width="1.3000000000000003" fill="none" stroke-linecap="round" stroke-linejoin="round"/><path d="M48.8,107.2 L59.4,99 L73.4,97.9 L80.4,93.2 L87.4,94.4 L93.2,93.8 L100.2,91.4 L108.4,92 L112,92" stroke="#66b97a" stroke-width="3.5" fill="none" stroke-linecap="round" stroke-linejoin="round"/><path d="M48.8,107.2 L59.4,99 L73.4,97.9 L80.4,93.2 L87.4,94.4 L93.2,93.8 L100.2,91.4 L108.4,92 L112,92" stroke="#8ddc9c" stroke-width="2.3000000000000003" fill="none" stroke-linecap="round" stroke-linejoin="round"/><path d="M48.8,107.2 L45.3,111.5" stroke="#c80000" stroke-width="3.5" fill="none" stroke-linecap="round" stroke-linejoin="round"/><path d="M48.8,107.2 L45.3,111.5" stroke="#f01010" stroke-width="2.3000000000000003" fill="none" stroke-linecap="round" stroke-linejoin="round"/><path d="M48.8,107.2 L51.2,103.2" stroke="#c80000" stroke-width="3.5" fill="none" stroke-linecap="round" stroke-linejoin="round"/><path d="M48.8,107.2 L51.2,103.2" stroke="#f01010" stroke-width="2.3000000000000003" fill="none" stroke-linecap="round" stroke-linejoin="round"/><path d="M80.4,93.2 L80.4,86 L79,81" stroke="#1a3fd8" stroke-width="3.5" fill="none" stroke-linecap="round" stroke-linejoin="round"/><path d="M80.4,93.2 L80.4,86 L79,81" stroke="#2f5bff" stroke-width="2.3000000000000003" fill="none" stroke-linecap="round" stroke-linejoin="round"/><path d="M93.2,93.8 L94.4,99.5" stroke="#c80000" stroke-width="3.5" fill="none" stroke-linecap="round" stroke-linejoin="round"/><path d="M93.2,93.8 L94.4,99.5" stroke="#f01010" stroke-width="2.3000000000000003" fill="none" stroke-linecap="round" stroke-linejoin="round"/><path d="M97.5,92.3 L102.8,90.5" stroke="#1a3fd8" stroke-width="3.5" fill="none" stroke-linecap="round" stroke-linejoin="round"/><path d="M97.5,92.3 L102.8,90.5" stroke="#2f5bff" stroke-width="2.3000000000000003" fill="none" stroke-linecap="round" stroke-linejoin="round"/><path d="M100.2,91.4 L103.7,80.3" stroke="#66b97a" stroke-width="3.5" fill="none" stroke-linecap="round" stroke-linejoin="round"/><path d="M100.2,91.4 L103.7,80.3" stroke="#8ddc9c" stroke-width="2.3000000000000003" fill="none" stroke-linecap="round" stroke-linejoin="round"/><path d="M100.2,91.4 L101.7,86.5" stroke="#1a3fd8" stroke-width="3.5" fill="none" stroke-linecap="round" stroke-linejoin="round"/><path d="M100.2,91.4 L101.7,86.5" stroke="#2f5bff" stroke-width="2.3000000000000003" fill="none" stroke-linecap="round" stroke-linejoin="round"/><path d="M110,92 L124,99.5 L138,107.2" stroke="#66b97a" stroke-width="4.5" fill="none" stroke-linecap="round" stroke-linejoin="round"/><path d="M110,92 L124,99.5 L138,107.2" stroke="#8ddc9c" stroke-width="3.3000000000000003" fill="none" stroke-linecap="round" stroke-linejoin="round"/><path d="M113,88.5 L126,95.5 L136,102" stroke="#66b97a" stroke-width="3.9" fill="none" stroke-linecap="round" stroke-linejoin="round"/><path d="M113,88.5 L126,95.5 L136,102" stroke="#8ddc9c" stroke-width="2.7" fill="none" stroke-linecap="round" stroke-linejoin="round"/><path d="M117,90.8 L121.7,87.3 L125.2,95.5" stroke="#66b97a" stroke-width="3.5" fill="none" stroke-linecap="round" stroke-linejoin="round"/><path d="M117,90.8 L121.7,87.3 L125.2,95.5" stroke="#8ddc9c" stroke-width="2.3000000000000003" fill="none" stroke-linecap="round" stroke-linejoin="round"/><path d="M127.5,95.5 L133.4,92.6" stroke="#c80000" stroke-width="3.5" fill="none" stroke-linecap="round" stroke-linejoin="round"/><path d="M127.5,95.5 L133.4,92.6" stroke="#f01010" stroke-width="2.3000000000000003" fill="none" stroke-linecap="round" stroke-linejoin="round"/><path d="M117,101.4 L122.8,102.5" stroke="#1a3fd8" stroke-width="3.5" fill="none" stroke-linecap="round" stroke-linejoin="round"/><path d="M117,101.4 L122.8,102.5" stroke="#2f5bff" stroke-width="2.3000000000000003" fill="none" stroke-linecap="round" stroke-linejoin="round"/><path d="M117,101.4 L113,101" stroke="#a8a8a8" stroke-width="2.5" fill="none" stroke-linecap="round" stroke-linejoin="round"/><path d="M117,101.4 L113,101" stroke="#dcdcdc" stroke-width="1.3000000000000003" fill="none" stroke-linecap="round" stroke-linejoin="round"/><path d="M113.5,110.7 L117,113 L113.5,116.5" stroke="#66b97a" stroke-width="3.5" fill="none" stroke-linecap="round" stroke-linejoin="round"/><path d="M113.5,110.7 L117,113 L113.5,116.5" stroke="#8ddc9c" stroke-width="2.3000000000000003" fill="none" stroke-linecap="round" stroke-linejoin="round"/><path d="M117,113 L120.5,117.7" stroke="#66b97a" stroke-width="3.5" fill="none" stroke-linecap="round" stroke-linejoin="round"/><path d="M117,113 L120.5,117.7" stroke="#8ddc9c" stroke-width="2.3000000000000003" fill="none" stroke-linecap="round" stroke-linejoin="round"/><path d="M136,106 L141,109" stroke="#1a3fd8" stroke-width="3.5" fill="none" stroke-linecap="round" stroke-linejoin="round"/><path d="M136,106 L141,109" stroke="#2f5bff" stroke-width="2.3000000000000003" fill="none" stroke-linecap="round" stroke-linejoin="round"/><path d="M141,109 L147.4,111.9 L154.4,115.4 L164.9,109.5 L164.9,101" stroke="#66b97a" stroke-width="3.5" fill="none" stroke-linecap="round" stroke-linejoin="round"/><path d="M141,109 L147.4,111.9 L154.4,115.4 L164.9,109.5 L164.9,101" stroke="#8ddc9c" stroke-width="2.3000000000000003" fill="none" stroke-linecap="round" stroke-linejoin="round"/><path d="M164.9,101 L166,94.5" stroke="#c80000" stroke-width="3.5" fill="none" stroke-linecap="round" stroke-linejoin="round"/><path d="M164.9,101 L166,94.5" stroke="#f01010" stroke-width="2.3000000000000003" fill="none" stroke-linecap="round" stroke-linejoin="round"/><path d="M144,108 L146.2,100.2" stroke="#a8a8a8" stroke-width="2.5" fill="none" stroke-linecap="round" stroke-linejoin="round"/><path d="M144,108 L146.2,100.2" stroke="#dcdcdc" stroke-width="1.3000000000000003" fill="none" stroke-linecap="round" stroke-linejoin="round"/><path d="M164.9,109.5 L170,112 L174.2,114.2 L182.4,108.4" stroke="#1a3fd8" stroke-width="3.5" fill="none" stroke-linecap="round" stroke-linejoin="round"/><path d="M164.9,109.5 L170,112 L174.2,114.2 L182.4,108.4" stroke="#2f5bff" stroke-width="2.3000000000000003" fill="none" stroke-linecap="round" stroke-linejoin="round"/><path d="M182.4,108.4 L187,103.7 L188,101.4" stroke="#66b97a" stroke-width="3.5" fill="none" stroke-linecap="round" stroke-linejoin="round"/><path d="M182.4,108.4 L187,103.7 L188,101.4" stroke="#8ddc9c" stroke-width="2.3000000000000003" fill="none" stroke-linecap="round" stroke-linejoin="round"/><path d="M188,101.4 L191.5,95.5 L193.8,92.6" stroke="#c80000" stroke-width="3.5" fill="none" stroke-linecap="round" stroke-linejoin="round"/><path d="M188,101.4 L191.5,95.5 L193.8,92.6" stroke="#f01010" stroke-width="2.3000000000000003" fill="none" stroke-linecap="round" stroke-linejoin="round"/><path d="M188,101.4 L190,110.5 L197,117.5 L198,125.7" stroke="#66b97a" stroke-width="3.5" fill="none" stroke-linecap="round" stroke-linejoin="round"/><path d="M188,101.4 L190,110.5 L197,117.5 L198,125.7" stroke="#8ddc9c" stroke-width="2.3000000000000003" fill="none" stroke-linecap="round" stroke-linejoin="round"/><path d="M201.7,126.9 L204,135 L200.5,145.5 L193.5,147.9 L190,138.5 L193,129 L201.7,126.9" stroke="#66b97a" stroke-width="3.5" fill="none" stroke-linecap="round" stroke-linejoin="round"/><path d="M201.7,126.9 L204,135 L200.5,145.5 L193.5,147.9 L190,138.5 L193,129 L201.7,126.9" stroke="#8ddc9c" stroke-width="2.3000000000000003" fill="none" stroke-linecap="round" stroke-linejoin="round"/><path d="M204.5,136.2 L213.2,136.2" stroke="#c010c0" stroke-width="3.5" fill="none" stroke-linecap="round" stroke-linejoin="round"/><path d="M204.5,136.2 L213.2,136.2" stroke="#e51ee0" stroke-width="2.3000000000000003" fill="none" stroke-linecap="round" stroke-linejoin="round"/><path d="M138,107.2 L138,113" stroke="#66b97a" stroke-width="3.5" fill="none" stroke-linecap="round" stroke-linejoin="round"/><path d="M138,107.2 L138,113" stroke="#8ddc9c" stroke-width="2.3000000000000003" fill="none" stroke-linecap="round" stroke-linejoin="round"/><path d="M138,113.5 L138,123" stroke="#c80000" stroke-width="3.5" fill="none" stroke-linecap="round" stroke-linejoin="round"/><path d="M138,113.5 L138,123" stroke="#f01010" stroke-width="2.3000000000000003" fill="none" stroke-linecap="round" stroke-linejoin="round"/><path d="M154.4,115.4 L150.9,124.7 L153.2,129.4" stroke="#66b97a" stroke-width="3.5" fill="none" stroke-linecap="round" stroke-linejoin="round"/><path d="M154.4,115.4 L150.9,124.7 L153.2,129.4" stroke="#8ddc9c" stroke-width="2.3000000000000003" fill="none" stroke-linecap="round" stroke-linejoin="round"/><path d="M147,141 L150.9,137.5" stroke="#c80000" stroke-width="3.5" fill="none" stroke-linecap="round" stroke-linejoin="round"/><path d="M147,141 L150.9,137.5" stroke="#f01010" stroke-width="2.3000000000000003" fill="none" stroke-linecap="round" stroke-linejoin="round"/><path d="M121.1,42.2 L130.7,47.4 L129.9,59.7 L121.1,64" stroke="#dc8f00" stroke-width="3.5" fill="none" stroke-linecap="round" stroke-linejoin="round"/><path d="M121.1,42.2 L130.7,47.4 L129.9,59.7 L121.1,64" stroke="#f7ad12" stroke-width="2.3000000000000003" fill="none" stroke-linecap="round" stroke-linejoin="round"/><path d="M125,62 L121.1,64" stroke="#c80000" stroke-width="3.5" fill="none" stroke-linecap="round" stroke-linejoin="round"/><path d="M125,62 L121.1,64" stroke="#f01010" stroke-width="2.3000000000000003" fill="none" stroke-linecap="round" stroke-linejoin="round"/><path d="M129.9,59.7 L136,65" stroke="#dc8f00" stroke-width="3.5" fill="none" stroke-linecap="round" stroke-linejoin="round"/><path d="M129.9,59.7 L136,65" stroke="#f7ad12" stroke-width="2.3000000000000003" fill="none" stroke-linecap="round" stroke-linejoin="round"/><path d="M134,63.5 L138.6,67.6" stroke="#1a3fd8" stroke-width="3.5" fill="none" stroke-linecap="round" stroke-linejoin="round"/><path d="M134,63.5 L138.6,67.6" stroke="#2f5bff" stroke-width="2.3000000000000003" fill="none" stroke-linecap="round" stroke-linejoin="round"/><path d="M138.6,67.6 L142.5,66" stroke="#a8a8a8" stroke-width="2.6999999999999997" fill="none" stroke-linecap="round" stroke-linejoin="round"/><path d="M138.6,67.6 L142.5,66" stroke="#dcdcdc" stroke-width="1.5" fill="none" stroke-linecap="round" stroke-linejoin="round"/><path d="M164,75.8 L172.8,77.6 L182.4,78.4 L179.8,83.7 L166.6,85.4 L164,75.8" stroke="#dc8f00" stroke-width="3.5" fill="none" stroke-linecap="round" stroke-linejoin="round"/><path d="M164,75.8 L172.8,77.6 L182.4,78.4 L179.8,83.7 L166.6,85.4 L164,75.8" stroke="#f7ad12" stroke-width="2.3000000000000003" fill="none" stroke-linecap="round" stroke-linejoin="round"/><path d="M166.6,85.4 L173,84.6" stroke="#1a3fd8" stroke-width="3.5" fill="none" stroke-linecap="round" stroke-linejoin="round"/><path d="M166.6,85.4 L173,84.6" stroke="#2f5bff" stroke-width="2.3000000000000003" fill="none" stroke-linecap="round" stroke-linejoin="round"/><path d="M167.5,79 L176,81" stroke="#1a3fd8" stroke-width="3.5" fill="none" stroke-linecap="round" stroke-linejoin="round"/><path d="M167.5,79 L176,81" stroke="#2f5bff" stroke-width="2.3000000000000003" fill="none" stroke-linecap="round" stroke-linejoin="round"/><path d="M165.8,77.6 L167,73.5" stroke="#c80000" stroke-width="3.5" fill="none" stroke-linecap="round" stroke-linejoin="round"/><path d="M165.8,77.6 L167,73.5" stroke="#f01010" stroke-width="2.3000000000000003" fill="none" stroke-linecap="round" stroke-linejoin="round"/><path d="M180,77 L191,72 L202.6,69.3" stroke="#dc8f00" stroke-width="3.5" fill="none" stroke-linecap="round" stroke-linejoin="round"/><path d="M180,77 L191,72 L202.6,69.3" stroke="#f7ad12" stroke-width="2.3000000000000003" fill="none" stroke-linecap="round" stroke-linejoin="round"/><path d="M172,76 L183,68" stroke="#dc8f00" stroke-width="3.5" fill="none" stroke-linecap="round" stroke-linejoin="round"/><path d="M172,76 L183,68" stroke="#f7ad12" stroke-width="2.3000000000000003" fill="none" stroke-linecap="round" stroke-linejoin="round"/><path d="M164,73 L160,71" stroke="#dc8f00" stroke-width="3.5" fill="none" stroke-linecap="round" stroke-linejoin="round"/><path d="M164,73 L160,71" stroke="#f7ad12" stroke-width="2.3000000000000003" fill="none" stroke-linecap="round" stroke-linejoin="round"/><path d="M216.6,70.6 L227,64.4 L237.6,68.8 L235.8,77.6 L225.3,82.8 L214.8,78.4 L216.6,70.6" stroke="#dc8f00" stroke-width="3.5" fill="none" stroke-linecap="round" stroke-linejoin="round"/><path d="M216.6,70.6 L227,64.4 L237.6,68.8 L235.8,77.6 L225.3,82.8 L214.8,78.4 L216.6,70.6" stroke="#f7ad12" stroke-width="2.3000000000000003" fill="none" stroke-linecap="round" stroke-linejoin="round"/><path d="M237.6,68.8 L250,61 L258.6,67" stroke="#dc8f00" stroke-width="3.5" fill="none" stroke-linecap="round" stroke-linejoin="round"/><path d="M237.6,68.8 L250,61 L258.6,67" stroke="#f7ad12" stroke-width="2.3000000000000003" fill="none" stroke-linecap="round" stroke-linejoin="round"/><path d="M214.8,78.4 L210.2,84.4" stroke="#c80000" stroke-width="3.5" fill="none" stroke-linecap="round" stroke-linejoin="round"/><path d="M214.8,78.4 L210.2,84.4" stroke="#f01010" stroke-width="2.3000000000000003" fill="none" stroke-linecap="round" stroke-linejoin="round"/><path d="M210.2,84.4 L205.5,86.8" stroke="#a8a8a8" stroke-width="2.6999999999999997" fill="none" stroke-linecap="round" stroke-linejoin="round"/><path d="M210.2,84.4 L205.5,86.8" stroke="#dcdcdc" stroke-width="1.5" fill="none" stroke-linecap="round" stroke-linejoin="round"/><path d="M99,121.2 L113,127 L116,128" stroke="#dc8f00" stroke-width="3.5" fill="none" stroke-linecap="round" stroke-linejoin="round"/><path d="M99,121.2 L113,127 L116,128" stroke="#f7ad12" stroke-width="2.3000000000000003" fill="none" stroke-linecap="round" stroke-linejoin="round"/><path d="M87.4,127 L92,124" stroke="#dc8f00" stroke-width="3.5" fill="none" stroke-linecap="round" stroke-linejoin="round"/><path d="M87.4,127 L92,124" stroke="#f7ad12" stroke-width="2.3000000000000003" fill="none" stroke-linecap="round" stroke-linejoin="round"/><path d="M92,124 L95.5,118.5" stroke="#1a3fd8" stroke-width="3.5" fill="none" stroke-linecap="round" stroke-linejoin="round"/><path d="M92,124 L95.5,118.5" stroke="#2f5bff" stroke-width="2.3000000000000003" fill="none" stroke-linecap="round" stroke-linejoin="round"/><path d="M95.5,118.5 L98.5,114.2" stroke="#a8a8a8" stroke-width="2.6999999999999997" fill="none" stroke-linecap="round" stroke-linejoin="round"/><path d="M95.5,118.5 L98.5,114.2" stroke="#dcdcdc" stroke-width="1.5" fill="none" stroke-linecap="round" stroke-linejoin="round"/><path d="M87.4,127 L82.5,126.5 L80.4,128.2" stroke="#1a3fd8" stroke-width="3.5" fill="none" stroke-linecap="round" stroke-linejoin="round"/><path d="M87.4,127 L82.5,126.5 L80.4,128.2" stroke="#2f5bff" stroke-width="2.3000000000000003" fill="none" stroke-linecap="round" stroke-linejoin="round"/><path d="M80.4,128.2 L76.5,131" stroke="#a8a8a8" stroke-width="2.5" fill="none" stroke-linecap="round" stroke-linejoin="round"/><path d="M80.4,128.2 L76.5,131" stroke="#dcdcdc" stroke-width="1.3000000000000003" fill="none" stroke-linecap="round" stroke-linejoin="round"/><path d="M87.4,127 L87.4,134 L82.6,140 L87.8,141.8" stroke="#1a3fd8" stroke-width="3.5" fill="none" stroke-linecap="round" stroke-linejoin="round"/><path d="M87.4,127 L87.4,134 L82.6,140 L87.8,141.8" stroke="#2f5bff" stroke-width="2.3000000000000003" fill="none" stroke-linecap="round" stroke-linejoin="round"/><path d="M82.6,140 L77,142" stroke="#a8a8a8" stroke-width="2.5" fill="none" stroke-linecap="round" stroke-linejoin="round"/><path d="M82.6,140 L77,142" stroke="#dcdcdc" stroke-width="1.3000000000000003" fill="none" stroke-linecap="round" stroke-linejoin="round"/><path d="M87.8,141.8 L91,144" stroke="#a8a8a8" stroke-width="2.5" fill="none" stroke-linecap="round" stroke-linejoin="round"/><path d="M87.8,141.8 L91,144" stroke="#dcdcdc" stroke-width="1.3000000000000003" fill="none" stroke-linecap="round" stroke-linejoin="round"/><path d="M85,124.7 L86.2,120" stroke="#a8a8a8" stroke-width="2.5" fill="none" stroke-linecap="round" stroke-linejoin="round"/><path d="M85,124.7 L86.2,120" stroke="#dcdcdc" stroke-width="1.3000000000000003" fill="none" stroke-linecap="round" stroke-linejoin="round"/><path d="M105.3,122.5 L110.6,131.3 L119.3,133 L112.3,139.2" stroke="#dc8f00" stroke-width="3.5" fill="none" stroke-linecap="round" stroke-linejoin="round"/><path d="M105.3,122.5 L110.6,131.3 L119.3,133 L112.3,139.2" stroke="#f7ad12" stroke-width="2.3000000000000003" fill="none" stroke-linecap="round" stroke-linejoin="round"/><path d="M121.7,140.7 L129.9,143 L128.7,151.2 L120.5,157 L117,150 L121.7,140.7" stroke="#dc8f00" stroke-width="3.5" fill="none" stroke-linecap="round" stroke-linejoin="round"/><path d="M121.7,140.7 L129.9,143 L128.7,151.2 L120.5,157 L117,150 L121.7,140.7" stroke="#f7ad12" stroke-width="2.3000000000000003" fill="none" stroke-linecap="round" stroke-linejoin="round"/><path d="M121.7,140.7 L126,142" stroke="#1a3fd8" stroke-width="3.5" fill="none" stroke-linecap="round" stroke-linejoin="round"/><path d="M121.7,140.7 L126,142" stroke="#2f5bff" stroke-width="2.3000000000000003" fill="none" stroke-linecap="round" stroke-linejoin="round"/><path d="M128.7,151.2 L126,154" stroke="#1a3fd8" stroke-width="3.5" fill="none" stroke-linecap="round" stroke-linejoin="round"/><path d="M128.7,151.2 L126,154" stroke="#2f5bff" stroke-width="2.3000000000000003" fill="none" stroke-linecap="round" stroke-linejoin="round"/><path d="M95.7,147 L105.3,150.5 L117,150" stroke="#dc8f00" stroke-width="3.5" fill="none" stroke-linecap="round" stroke-linejoin="round"/><path d="M95.7,147 L105.3,150.5 L117,150" stroke="#f7ad12" stroke-width="2.3000000000000003" fill="none" stroke-linecap="round" stroke-linejoin="round"/><path d="M124,141 L124,136" stroke="#a8a8a8" stroke-width="2.5" fill="none" stroke-linecap="round" stroke-linejoin="round"/><path d="M124,141 L124,136" stroke="#dcdcdc" stroke-width="1.3000000000000003" fill="none" stroke-linecap="round" stroke-linejoin="round"/><path d="M160,130.4 L170.7,131" stroke="#dc8f00" stroke-width="3.6999999999999997" fill="none" stroke-linecap="round" stroke-linejoin="round"/><path d="M160,130.4 L170.7,131" stroke="#f7ad12" stroke-width="2.5" fill="none" stroke-linecap="round" stroke-linejoin="round"/><path d="M153.8,129.4 L159,129.4" stroke="#c80000" stroke-width="3.5" fill="none" stroke-linecap="round" stroke-linejoin="round"/><path d="M153.8,129.4 L159,129.4" stroke="#f01010" stroke-width="2.3000000000000003" fill="none" stroke-linecap="round" stroke-linejoin="round"/><path d="M170.7,131.5 L176,134" stroke="#1a3fd8" stroke-width="3.5" fill="none" stroke-linecap="round" stroke-linejoin="round"/><path d="M170.7,131.5 L176,134" stroke="#2f5bff" stroke-width="2.3000000000000003" fill="none" stroke-linecap="round" stroke-linejoin="round"/><path d="M176,134 L181.4,136.3" stroke="#a8a8a8" stroke-width="2.5" fill="none" stroke-linecap="round" stroke-linejoin="round"/><path d="M176,134 L181.4,136.3" stroke="#dcdcdc" stroke-width="1.3000000000000003" fill="none" stroke-linecap="round" stroke-linejoin="round"/><path d="M146.2,143 L150.9,139.5" stroke="#c80000" stroke-width="3.5" fill="none" stroke-linecap="round" stroke-linejoin="round"/><path d="M146.2,143 L150.9,139.5" stroke="#f01010" stroke-width="2.3000000000000003" fill="none" stroke-linecap="round" stroke-linejoin="round"/><path d="M150,141 L156,140" stroke="#c80000" stroke-width="3.5" fill="none" stroke-linecap="round" stroke-linejoin="round"/><path d="M150,141 L156,140" stroke="#f01010" stroke-width="2.3000000000000003" fill="none" stroke-linecap="round" stroke-linejoin="round"/><path d="M147.4,164 L153.2,159.4 L164.9,160.5 L170.7,165.2 L167.2,169.9 L155.5,168.7 L147.4,164" stroke="#dc8f00" stroke-width="3.5" fill="none" stroke-linecap="round" stroke-linejoin="round"/><path d="M147.4,164 L153.2,159.4 L164.9,160.5 L170.7,165.2 L167.2,169.9 L155.5,168.7 L147.4,164" stroke="#f7ad12" stroke-width="2.3000000000000003" fill="none" stroke-linecap="round" stroke-linejoin="round"/><path d="M149.7,166.4 L141,176.9" stroke="#dc8f00" stroke-width="3.5" fill="none" stroke-linecap="round" stroke-linejoin="round"/><path d="M149.7,166.4 L141,176.9" stroke="#f7ad12" stroke-width="2.3000000000000003" fill="none" stroke-linecap="round" stroke-linejoin="round"/><path d="M168,161 L168.4,155.9" stroke="#c80000" stroke-width="3.5" fill="none" stroke-linecap="round" stroke-linejoin="round"/><path d="M168,161 L168.4,155.9" stroke="#f01010" stroke-width="2.3000000000000003" fill="none" stroke-linecap="round" stroke-linejoin="round"/><path d="M168.4,155.9 L169.6,150" stroke="#a8a8a8" stroke-width="2.5" fill="none" stroke-linecap="round" stroke-linejoin="round"/><path d="M168.4,155.9 L169.6,150" stroke="#dcdcdc" stroke-width="1.3000000000000003" fill="none" stroke-linecap="round" stroke-linejoin="round"/></g>
<text x="42.9" y="57.0" font-size="7.8">H364<tspan font-size="4.8" dy="-3.0">7.27</tspan></text>
<text x="111.4" y="33.9" font-size="7.8">N115<tspan font-size="4.8" dy="-3.0">2.65</tspan></text>
<text x="142.0" y="63.2" font-size="7.8">T111<tspan font-size="4.8" dy="-3.0">2.61</tspan></text>
<text x="193.0" y="65.4" font-size="7.8">H376<tspan font-size="4.8" dy="-3.0">3.79</tspan></text>
<text x="232.5" y="90.5" font-size="7.8">Y380<tspan font-size="4.8" dy="-3.0">7.43</tspan></text>
<text x="42.6" y="137.5" font-size="7.8">R356<tspan font-size="4.8" dy="-3.0">6.58</tspan></text>
<text x="159.7" y="127.7" font-size="7.8">N353<tspan font-size="4.8" dy="-3.0">6.55</tspan></text>
<text x="104.5" y="167.3" font-size="7.8">H207<tspan font-size="4.8" dy="-3.0">ECL2</tspan></text>
<text x="161.3" y="182.5" font-size="7.8">Y189<tspan font-size="4.8" dy="-3.0">4.60</tspan></text>
</svg></body></html>
